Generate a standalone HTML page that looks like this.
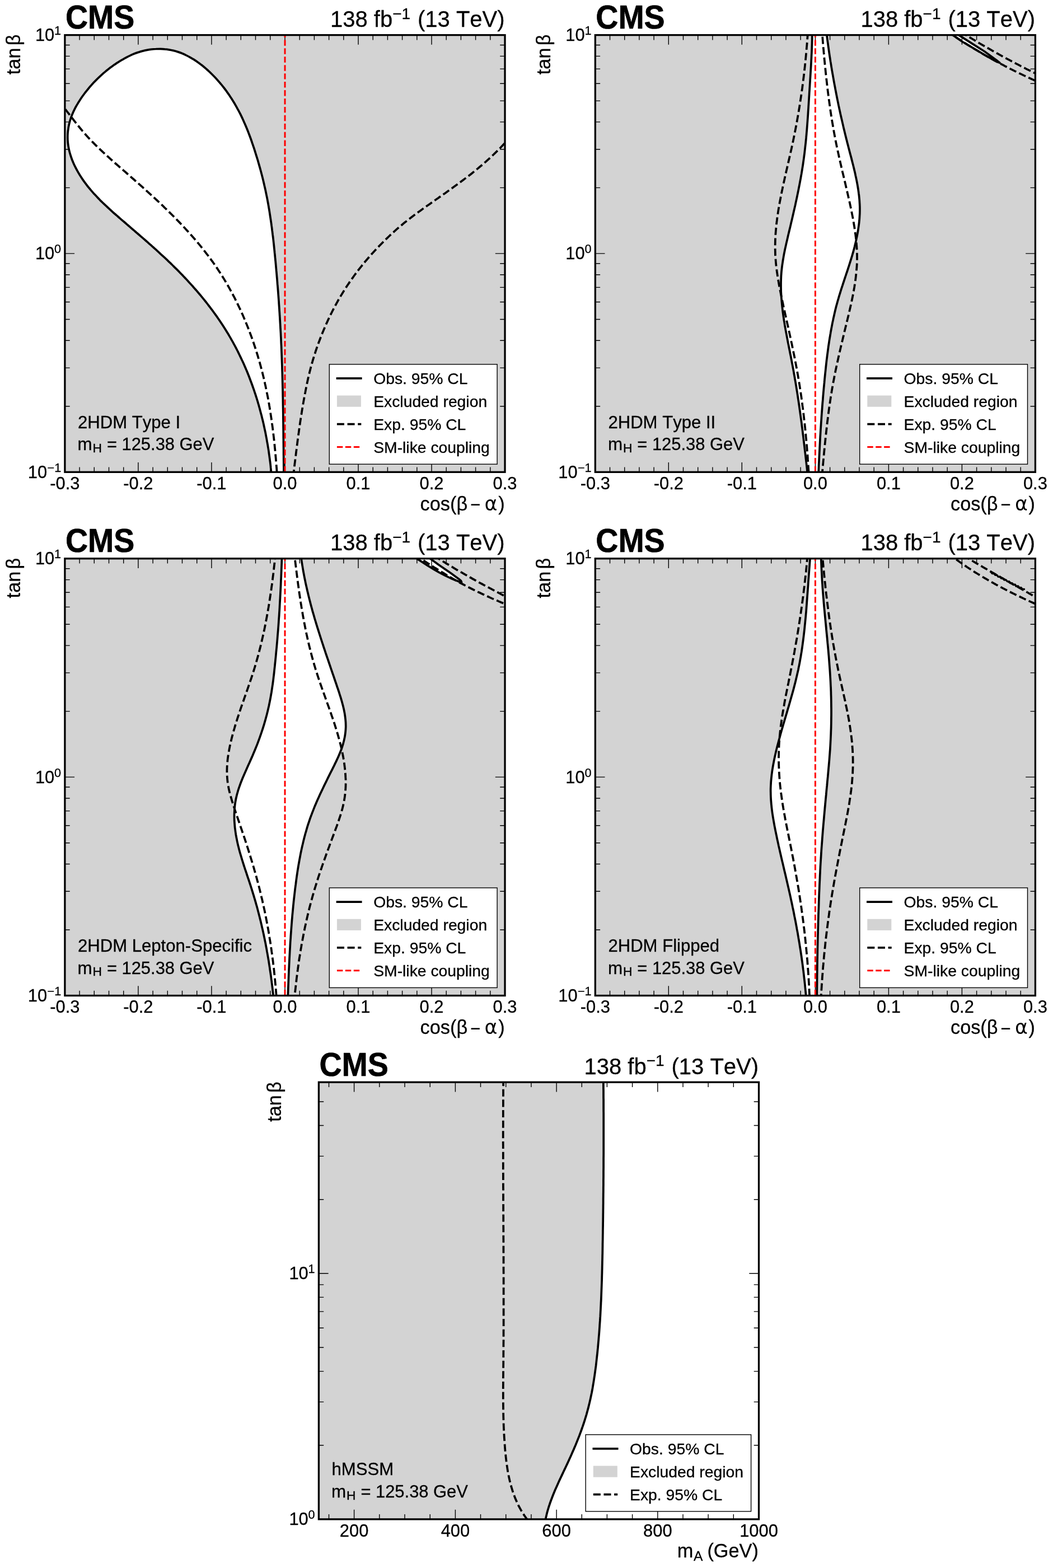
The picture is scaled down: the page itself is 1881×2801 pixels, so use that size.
<!DOCTYPE html>
<html lang="en"><head><meta charset="utf-8"><title>CMS 2HDM and hMSSM exclusion limits</title>
<style>
html,body{margin:0;padding:0;background:#fff;}
body{width:1881px;height:2801px;overflow:hidden;}
svg{display:block;}
svg text{font-family:"Liberation Sans", "DejaVu Sans", sans-serif;fill:#000;font-kerning:none;font-variant-ligatures:none;stroke:#000;stroke-width:0.3px;stroke-linejoin:round;}
svg text.b{stroke-width:0;}
</style></head><body>
<svg width="1881" height="2801" viewBox="0 0 1881 2801">
<rect width="1881" height="2801" fill="#fff"/>
<g transform="translate(0,0)">
<clipPath id="clip0"><rect x="115.9" y="62.6" width="786.1" height="780.7"/></clipPath>
<rect x="115.9" y="62.6" width="786.1" height="780.7" fill="#d3d3d3"/>
<g clip-path="url(#clip0)">
<path d="M485.2,851.9 C485.1,850.6 484.8,846.6 484.5,844 C484.3,841.3 484,838.7 483.7,836 C483.5,833.4 483.2,830.7 482.9,828.1 C482.6,825.4 482.2,822.8 481.9,820.1 C481.5,817.5 481.2,814.8 480.8,812.2 C480.4,809.5 480.1,806.9 479.7,804.3 C479.3,801.6 478.8,799 478.4,796.3 C478,793.7 477.5,791 477,788.4 C476.6,785.8 476.1,783.1 475.6,780.5 C475.1,777.9 474.6,775.3 474.1,772.6 C473.5,770 473,767.4 472.4,764.8 C471.8,762.1 471.3,759.5 470.7,756.9 C470.1,754.3 469.5,751.7 468.8,749.1 C468.2,746.5 467.6,743.9 466.9,741.3 C466.2,738.7 465.5,736.1 464.8,733.5 C464.1,730.9 463.4,728.3 462.7,725.7 C462,723.2 461.2,720.6 460.5,718 C459.7,715.5 458.9,712.9 458.1,710.3 C457.3,707.8 456.5,705.2 455.6,702.7 C454.8,700.2 454,697.6 453.1,695.1 C452.2,692.5 451.3,690 450.4,687.5 C449.5,685 448.6,682.5 447.6,680 C446.7,677.5 445.7,675 444.8,672.5 C443.8,670 442.8,667.5 441.8,665 C440.8,662.6 439.7,660.1 438.7,657.6 C437.6,655.2 436.6,652.7 435.5,650.3 C434.4,647.9 433.3,645.4 432.1,643 C431,640.6 429.9,638.2 428.7,635.8 C427.5,633.4 426.4,631 425.2,628.6 C424,626.2 422.7,623.8 421.5,621.4 C420.3,619.1 419,616.7 417.7,614.4 C416.5,612 415.2,609.7 413.8,607.4 C412.5,605 411.2,602.7 409.8,600.4 C408.5,598.1 407.1,595.8 405.7,593.6 C404.3,591.3 402.9,589 401.5,586.8 C400.1,584.5 398.6,582.2 397.2,580 C395.7,577.8 394.2,575.6 392.7,573.3 C391.2,571.1 389.7,568.9 388.2,566.7 C386.6,564.5 385.1,562.4 383.5,560.2 C381.9,558 380.4,555.8 378.8,553.7 C377.2,551.6 375.6,549.4 373.9,547.3 C372.3,545.2 370.7,543 369,540.9 C367.3,538.8 365.7,536.7 364,534.6 C362.3,532.6 360.6,530.5 358.9,528.4 C357.2,526.4 355.5,524.3 353.7,522.3 C352,520.2 350.2,518.2 348.5,516.2 C346.7,514.2 344.9,512.1 343.1,510.1 C341.4,508.1 339.6,506.2 337.7,504.2 C335.9,502.2 334.1,500.2 332.3,498.3 C330.5,496.3 328.6,494.4 326.8,492.4 C324.9,490.5 323,488.6 321.2,486.7 C319.3,484.7 317.4,482.8 315.5,480.9 C313.6,479.1 311.7,477.2 309.8,475.3 C307.9,473.4 306,471.6 304.1,469.7 C302.1,467.9 300.2,466 298.3,464.2 C296.3,462.3 294.4,460.5 292.4,458.7 C290.5,456.9 288.5,455.1 286.5,453.3 C284.6,451.5 282.6,449.7 280.6,447.9 C278.6,446.1 276.7,444.3 274.7,442.5 C272.7,440.7 270.7,439 268.7,437.2 C266.7,435.4 264.7,433.7 262.7,431.9 C260.7,430.1 258.7,428.4 256.7,426.6 C254.6,424.9 252.6,423.1 250.6,421.4 C248.6,419.6 246.6,417.9 244.5,416.1 C242.5,414.4 240.5,412.6 238.5,410.9 C236.4,409.1 234.4,407.4 232.4,405.6 C230.4,403.9 228.3,402.1 226.3,400.4 C224.3,398.6 222.3,396.9 220.2,395.1 C218.2,393.4 216.2,391.6 214.1,389.9 C212.1,388.1 210.1,386.4 208.1,384.6 C206.1,382.8 204,381.1 202,379.3 C200,377.5 198,375.7 196.1,373.9 C194.1,372.1 192.1,370.3 190.2,368.4 C188.2,366.6 186.3,364.8 184.3,362.9 C182.4,361 180.5,359.2 178.6,357.3 C176.8,355.4 174.9,353.5 173.1,351.5 C171.2,349.6 169.4,347.6 167.6,345.7 C165.8,343.7 164.1,341.7 162.3,339.6 C160.6,337.6 158.9,335.5 157.2,333.5 C155.6,331.4 154,329.3 152.4,327.1 C150.8,325 149.2,322.8 147.7,320.6 C146.2,318.4 144.7,316.1 143.2,313.8 C141.8,311.5 140.4,309.2 139.1,306.9 C137.7,304.5 136.4,302.1 135.2,299.7 C134,297.3 132.8,294.9 131.7,292.4 C130.6,290 129.6,287.5 128.6,285 C127.7,282.5 126.8,279.9 126,277.4 C125.2,274.9 124.4,272.3 123.8,269.7 C123.2,267.1 122.6,264.5 122.2,261.9 C121.8,259.3 121.4,256.7 121.2,254.1 C120.9,251.4 120.8,248.8 120.8,246.2 C120.8,243.5 120.8,240.9 121,238.2 C121.2,235.6 121.5,233 121.9,230.3 C122.2,227.7 122.7,225.1 123.3,222.5 C123.9,219.9 124.5,217.3 125.3,214.8 C126.1,212.2 126.9,209.7 127.9,207.2 C128.8,204.7 129.9,202.3 131,199.8 C132.1,197.4 133.3,195 134.5,192.6 C135.8,190.3 137.1,187.9 138.5,185.6 C139.8,183.3 141.3,181 142.8,178.7 C144.2,176.5 145.8,174.2 147.3,172 C148.9,169.8 150.5,167.7 152.1,165.5 C153.8,163.4 155.5,161.3 157.2,159.2 C158.9,157.1 160.6,155.1 162.4,153.1 C164.2,151 166,149.1 167.8,147.1 C169.6,145.1 171.5,143.2 173.4,141.3 C175.3,139.4 177.3,137.6 179.2,135.8 C181.2,134 183.2,132.2 185.2,130.4 C187.3,128.7 189.3,127 191.4,125.3 C193.5,123.6 195.7,122 197.8,120.3 C200,118.7 202.1,117.2 204.3,115.6 C206.6,114.1 208.8,112.6 211.1,111.2 C213.3,109.7 215.6,108.3 218,106.9 C220.3,105.6 222.6,104.2 225,103 C227.4,101.7 229.8,100.5 232.2,99.4 C234.6,98.2 237.1,97.1 239.6,96.1 C242.1,95.1 244.6,94.2 247.1,93.4 C249.6,92.5 252.2,91.7 254.8,91.1 C257.4,90.4 260,89.8 262.6,89.3 C265.2,88.8 267.8,88.4 270.5,88.1 C273.1,87.8 275.8,87.6 278.4,87.5 C281.1,87.3 283.7,87.3 286.4,87.3 C289,87.4 291.7,87.5 294.3,87.8 C296.9,88 299.6,88.4 302.2,88.8 C304.8,89.2 307.4,89.8 309.9,90.4 C312.5,91 315.1,91.8 317.6,92.6 C320.1,93.4 322.6,94.3 325,95.3 C327.5,96.3 329.9,97.4 332.3,98.6 C334.7,99.7 337.1,101 339.4,102.3 C341.8,103.6 344.1,105 346.4,106.4 C348.7,107.9 350.9,109.4 353.1,111 C355.3,112.5 357.5,114.2 359.7,115.8 C361.8,117.5 363.9,119.2 366,121 C368.1,122.7 370.1,124.6 372.1,126.4 C374.1,128.2 376.1,130.1 378,132 C379.9,133.9 381.8,135.8 383.7,137.8 C385.5,139.7 387.3,141.7 389.1,143.7 C390.9,145.7 392.6,147.7 394.3,149.8 C396.1,151.8 397.7,153.9 399.4,156 C401,158.1 402.6,160.2 404.2,162.4 C405.7,164.5 407.3,166.7 408.8,168.9 C410.3,171.1 411.7,173.3 413.2,175.5 C414.6,177.7 416,180 417.4,182.3 C418.8,184.5 420.1,186.8 421.4,189.1 C422.8,191.5 424,193.8 425.3,196.1 C426.6,198.5 427.8,200.8 429,203.2 C430.2,205.6 431.4,208 432.5,210.4 C433.6,212.8 434.8,215.2 435.8,217.7 C436.9,220.1 438,222.6 439,225 C440.1,227.5 441.1,230 442.1,232.5 C443.1,234.9 444,237.4 445,240 C445.9,242.5 446.9,245 447.8,247.5 C448.7,250 449.6,252.6 450.4,255.1 C451.3,257.7 452.2,260.2 453,262.7 C453.9,265.3 454.7,267.8 455.5,270.4 C456.3,273 457.1,275.5 457.9,278.1 C458.7,280.6 459.5,283.2 460.3,285.8 C461,288.3 461.8,290.9 462.5,293.5 C463.2,296.1 464,298.6 464.7,301.2 C465.4,303.8 466.1,306.4 466.8,309 C467.5,311.6 468.1,314.1 468.8,316.7 C469.4,319.3 470.1,321.9 470.7,324.5 C471.3,327.1 471.9,329.7 472.5,332.3 C473.1,334.9 473.7,337.5 474.3,340.1 C474.8,342.7 475.4,345.4 475.9,348 C476.4,350.6 477,353.2 477.5,355.8 C478,358.5 478.5,361.1 478.9,363.7 C479.4,366.3 479.9,369 480.3,371.6 C480.8,374.2 481.2,376.9 481.6,379.5 C482,382.2 482.4,384.8 482.8,387.4 C483.2,390.1 483.6,392.7 484,395.4 C484.4,398 484.8,400.7 485.1,403.3 C485.5,406 485.8,408.6 486.1,411.3 C486.5,413.9 486.8,416.6 487.1,419.3 C487.5,421.9 487.8,424.6 488.1,427.2 C488.4,429.9 488.7,432.6 489,435.2 C489.3,437.9 489.5,440.5 489.8,443.2 C490.1,445.9 490.4,448.5 490.6,451.2 C490.9,453.9 491.2,456.5 491.4,459.2 C491.7,461.9 491.9,464.5 492.2,467.2 C492.4,469.9 492.7,472.5 492.9,475.2 C493.1,477.9 493.4,480.5 493.6,483.2 C493.9,485.9 494.1,488.5 494.3,491.2 C494.5,493.9 494.8,496.5 495,499.2 C495.2,501.9 495.4,504.5 495.6,507.2 C495.9,509.9 496.1,512.5 496.3,515.2 C496.5,517.9 496.7,520.5 496.9,523.2 C497.1,525.9 497.3,528.5 497.5,531.2 C497.7,533.9 497.9,536.5 498.1,539.2 C498.2,541.9 498.4,544.5 498.6,547.2 C498.8,549.9 499,552.5 499.1,555.2 C499.3,557.9 499.5,560.5 499.6,563.2 C499.8,565.9 500,568.5 500.1,571.2 C500.3,573.9 500.4,576.6 500.6,579.2 C500.7,581.9 500.9,584.6 501,587.2 C501.2,589.9 501.3,592.6 501.5,595.2 C501.6,597.9 501.7,600.6 501.9,603.3 C502,605.9 502.1,608.6 502.2,611.3 C502.3,613.9 502.5,616.6 502.6,619.3 C502.7,622 502.8,624.6 502.9,627.3 C503,630 503.1,632.7 503.2,635.3 C503.3,638 503.4,640.7 503.5,643.3 C503.6,646 503.7,648.7 503.8,651.4 C503.9,654 504,656.7 504,659.4 C504.1,662.1 504.2,664.7 504.3,667.4 C504.4,670.1 504.4,672.8 504.5,675.4 C504.6,678.1 504.6,680.8 504.7,683.5 C504.8,686.1 504.8,688.8 504.9,691.5 C505,694.2 505,696.8 505.1,699.5 C505.1,702.2 505.2,704.9 505.2,707.5 C505.3,710.2 505.4,712.9 505.4,715.6 C505.4,718.2 505.5,720.9 505.5,723.6 C505.6,726.3 505.6,728.9 505.7,731.6 C505.7,734.3 505.8,737 505.8,739.6 C505.8,742.3 505.9,745 505.9,747.7 C506,750.4 506,753 506,755.7 C506.1,758.4 506.1,761.1 506.1,763.7 C506.2,766.4 506.2,769.1 506.2,771.8 C506.3,774.4 506.3,777.1 506.3,779.8 C506.3,782.5 506.4,785.1 506.4,787.8 C506.4,790.5 506.5,793.2 506.5,795.8 C506.5,798.5 506.5,801.2 506.6,803.9 C506.6,806.5 506.6,809.2 506.6,811.9 C506.7,814.6 506.7,817.2 506.7,819.9 C506.7,822.6 506.8,825.3 506.8,827.9 C506.8,830.6 506.8,833.3 506.9,836 C506.9,838.6 506.9,841.3 506.9,844 C507,846.6 507,850.7 507,852 Z" fill="#fff" stroke="none"/>
</g>
<path d="M115.9,62.6 v17.2 M115.9,843.3 v-17.2 M142.1,62.6 v8.8 M142.1,843.3 v-8.8 M168.3,62.6 v8.8 M168.3,843.3 v-8.8 M194.5,62.6 v8.8 M194.5,843.3 v-8.8 M220.7,62.6 v8.8 M220.7,843.3 v-8.8 M246.9,62.6 v17.2 M246.9,843.3 v-17.2 M273.1,62.6 v8.8 M273.1,843.3 v-8.8 M299.3,62.6 v8.8 M299.3,843.3 v-8.8 M325.5,62.6 v8.8 M325.5,843.3 v-8.8 M351.7,62.6 v8.8 M351.7,843.3 v-8.8 M377.9,62.6 v17.2 M377.9,843.3 v-17.2 M404.1,62.6 v8.8 M404.1,843.3 v-8.8 M430.3,62.6 v8.8 M430.3,843.3 v-8.8 M456.5,62.6 v8.8 M456.5,843.3 v-8.8 M482.7,62.6 v8.8 M482.7,843.3 v-8.8 M509,62.6 v17.2 M509,843.3 v-17.2 M535.2,62.6 v8.8 M535.2,843.3 v-8.8 M561.4,62.6 v8.8 M561.4,843.3 v-8.8 M587.6,62.6 v8.8 M587.6,843.3 v-8.8 M613.8,62.6 v8.8 M613.8,843.3 v-8.8 M640,62.6 v17.2 M640,843.3 v-17.2 M666.2,62.6 v8.8 M666.2,843.3 v-8.8 M692.4,62.6 v8.8 M692.4,843.3 v-8.8 M718.6,62.6 v8.8 M718.6,843.3 v-8.8 M744.8,62.6 v8.8 M744.8,843.3 v-8.8 M771,62.6 v17.2 M771,843.3 v-17.2 M797.2,62.6 v8.8 M797.2,843.3 v-8.8 M823.4,62.6 v8.8 M823.4,843.3 v-8.8 M849.6,62.6 v8.8 M849.6,843.3 v-8.8 M875.8,62.6 v8.8 M875.8,843.3 v-8.8 M902,62.6 v17.2 M902,843.3 v-17.2 M115.9,843.3 h17.2 M902,843.3 h-17.2 M115.9,725.8 h8.8 M902,725.8 h-8.8 M115.9,657.1 h8.8 M902,657.1 h-8.8 M115.9,608.3 h8.8 M902,608.3 h-8.8 M115.9,570.5 h8.8 M902,570.5 h-8.8 M115.9,539.5 h8.8 M902,539.5 h-8.8 M115.9,513.4 h8.8 M902,513.4 h-8.8 M115.9,490.8 h8.8 M902,490.8 h-8.8 M115.9,470.8 h8.8 M902,470.8 h-8.8 M115.9,452.9 h17.2 M902,452.9 h-17.2 M115.9,335.4 h8.8 M902,335.4 h-8.8 M115.9,266.7 h8.8 M902,266.7 h-8.8 M115.9,217.9 h8.8 M902,217.9 h-8.8 M115.9,180.1 h8.8 M902,180.1 h-8.8 M115.9,149.2 h8.8 M902,149.2 h-8.8 M115.9,123.1 h8.8 M902,123.1 h-8.8 M115.9,100.4 h8.8 M902,100.4 h-8.8 M115.9,80.5 h8.8 M902,80.5 h-8.8 M115.9,62.6 h17.2 M902,62.6 h-17.2" fill="none" stroke="#000" stroke-width="1.4"/>
<g clip-path="url(#clip0)">
<path d="M108,184 C108.8,185.1 111.3,188.1 112.9,190.2 C114.5,192.3 116.2,194.4 117.8,196.5 C119.4,198.7 121,200.8 122.7,202.9 C124.3,205 125.9,207.2 127.6,209.3 C129.2,211.4 130.8,213.6 132.5,215.7 C134.1,217.8 135.8,219.9 137.5,222 C139.2,224.1 140.9,226.2 142.6,228.3 C144.3,230.4 146,232.4 147.7,234.4 C149.5,236.5 151.2,238.5 153,240.5 C154.8,242.5 156.6,244.4 158.4,246.4 C160.2,248.3 162.1,250.3 163.9,252.2 C165.8,254.1 167.6,256 169.5,257.8 C171.4,259.7 173.3,261.6 175.2,263.4 C177.1,265.3 179,267.1 180.9,268.9 C182.9,270.8 184.8,272.6 186.8,274.4 C188.7,276.2 190.7,278 192.6,279.7 C194.6,281.5 196.6,283.3 198.6,285.1 C200.5,286.8 202.5,288.6 204.5,290.4 C206.5,292.1 208.5,293.9 210.5,295.6 C212.5,297.4 214.5,299.1 216.5,300.9 C218.6,302.6 220.6,304.4 222.6,306.1 C224.6,307.9 226.6,309.6 228.6,311.4 C230.6,313.1 232.6,314.9 234.6,316.7 C236.6,318.4 238.7,320.2 240.7,322 C242.7,323.7 244.7,325.5 246.7,327.3 C248.7,329 250.7,330.8 252.7,332.6 C254.7,334.4 256.7,336.2 258.7,338 C260.7,339.8 262.7,341.6 264.6,343.4 C266.6,345.2 268.6,347 270.6,348.8 C272.6,350.6 274.5,352.4 276.5,354.2 C278.5,356 280.4,357.9 282.4,359.7 C284.3,361.5 286.3,363.4 288.2,365.2 C290.2,367.1 292.1,368.9 294,370.8 C296,372.6 297.9,374.5 299.8,376.4 C301.7,378.2 303.6,380.1 305.5,382 C307.4,383.9 309.3,385.8 311.2,387.7 C313.1,389.6 315,391.5 316.8,393.4 C318.7,395.3 320.5,397.2 322.4,399.2 C324.2,401.1 326.1,403 327.9,405 C329.7,406.9 331.5,408.9 333.3,410.9 C335.1,412.8 336.9,414.8 338.7,416.8 C340.5,418.8 342.3,420.8 344,422.8 C345.8,424.8 347.5,426.8 349.2,428.8 C351,430.8 352.7,432.9 354.4,434.9 C356.1,436.9 357.8,439 359.5,441.1 C361.1,443.1 362.8,445.2 364.4,447.3 C366.1,449.4 367.7,451.5 369.3,453.6 C371,455.7 372.6,457.8 374.1,459.9 C375.7,462.1 377.3,464.2 378.9,466.4 C380.4,468.5 381.9,470.7 383.5,472.9 C385,475 386.5,477.2 388,479.4 C389.5,481.7 390.9,483.9 392.4,486.1 C393.8,488.3 395.3,490.6 396.7,492.8 C398.1,495.1 399.5,497.3 400.9,499.6 C402.2,501.9 403.6,504.2 404.9,506.5 C406.3,508.8 407.6,511.1 408.9,513.4 C410.2,515.7 411.5,518.1 412.8,520.4 C414.1,522.8 415.3,525.1 416.6,527.5 C417.8,529.8 419.1,532.2 420.3,534.6 C421.5,537 422.7,539.4 423.8,541.8 C425,544.2 426.2,546.6 427.3,549 C428.5,551.4 429.6,553.8 430.7,556.3 C431.8,558.7 432.9,561.1 434,563.6 C435,566 436.1,568.5 437.2,571 C438.2,573.4 439.2,575.9 440.2,578.4 C441.2,580.9 442.2,583.4 443.2,585.8 C444.2,588.3 445.2,590.8 446.1,593.4 C447,595.9 448,598.4 448.9,600.9 C449.8,603.4 450.7,605.9 451.6,608.5 C452.5,611 453.3,613.5 454.2,616.1 C455,618.6 455.9,621.2 456.7,623.7 C457.5,626.3 458.3,628.8 459.1,631.4 C459.9,633.9 460.7,636.5 461.4,639.1 C462.2,641.6 462.9,644.2 463.7,646.8 C464.4,649.4 465.1,651.9 465.8,654.5 C466.5,657.1 467.2,659.7 467.8,662.3 C468.5,664.9 469.2,667.5 469.8,670.1 C470.4,672.6 471.1,675.2 471.7,677.8 C472.3,680.4 472.9,683 473.4,685.6 C474,688.2 474.6,690.8 475.1,693.4 C475.7,696 476.2,698.6 476.7,701.3 C477.3,703.9 477.8,706.5 478.3,709.1 C478.8,711.7 479.3,714.3 479.7,716.9 C480.2,719.5 480.7,722.2 481.1,724.8 C481.6,727.4 482,730 482.4,732.7 C482.8,735.3 483.2,737.9 483.6,740.5 C484,743.2 484.4,745.8 484.8,748.4 C485.2,751.1 485.6,753.7 485.9,756.3 C486.3,759 486.6,761.6 487,764.2 C487.3,766.9 487.6,769.5 487.9,772.2 C488.3,774.8 488.6,777.5 488.9,780.1 C489.2,782.7 489.5,785.4 489.8,788 C490,790.7 490.3,793.4 490.6,796 C490.8,798.7 491.1,801.3 491.4,804 C491.6,806.6 491.9,809.3 492.1,812 C492.3,814.6 492.6,817.3 492.8,820 C493,822.6 493.2,825.3 493.4,828 C493.7,830.7 493.9,833.3 494.1,836 C494.3,838.7 494.5,841.4 494.6,844.1 C494.8,846.7 495.1,850.8 495.2,852.1" fill="none" stroke="#000" stroke-width="3.75" stroke-dasharray="13.05 5.6" stroke-dashoffset="4.61"/>
<path d="M523.7,852 C523.8,850.7 524.3,846.7 524.6,844 C524.9,841.4 525.3,838.7 525.6,836 C525.9,833.4 526.2,830.7 526.5,828.1 C526.9,825.4 527.2,822.8 527.5,820.1 C527.8,817.4 528.2,814.8 528.5,812.1 C528.8,809.5 529.1,806.8 529.5,804.1 C529.8,801.5 530.2,798.8 530.5,796.2 C530.8,793.5 531.2,790.8 531.5,788.2 C531.9,785.5 532.2,782.9 532.6,780.2 C532.9,777.6 533.3,774.9 533.7,772.3 C534,769.6 534.4,766.9 534.8,764.3 C535.2,761.6 535.5,759 535.9,756.3 C536.3,753.7 536.7,751 537.1,748.4 C537.5,745.7 537.9,743.1 538.4,740.4 C538.8,737.8 539.2,735.2 539.6,732.5 C540.1,729.9 540.5,727.2 541,724.6 C541.4,721.9 541.9,719.3 542.3,716.7 C542.8,714 543.3,711.4 543.8,708.7 C544.2,706.1 544.7,703.5 545.3,700.8 C545.8,698.2 546.3,695.6 546.8,693 C547.3,690.3 547.9,687.7 548.4,685.1 C549,682.5 549.6,679.9 550.1,677.2 C550.7,674.6 551.3,672 552,669.4 C552.6,666.8 553.2,664.2 553.9,661.6 C554.5,659 555.2,656.4 555.9,653.8 C556.6,651.3 557.3,648.7 558.1,646.1 C558.8,643.5 559.6,641 560.4,638.4 C561.1,635.9 561.9,633.3 562.8,630.8 C563.6,628.2 564.4,625.7 565.3,623.1 C566.2,620.6 567.1,618.1 568,615.6 C568.9,613 569.8,610.5 570.8,608 C571.7,605.5 572.7,603 573.7,600.5 C574.6,598 575.6,595.6 576.7,593.1 C577.7,590.6 578.7,588.1 579.8,585.7 C580.8,583.2 581.9,580.7 583,578.3 C584.1,575.9 585.2,573.4 586.3,571 C587.5,568.6 588.6,566.1 589.8,563.7 C591,561.3 592.2,558.9 593.4,556.5 C594.6,554.1 595.8,551.8 597.1,549.4 C598.3,547 599.6,544.7 600.9,542.3 C602.2,540 603.5,537.6 604.8,535.3 C606.2,533 607.5,530.7 608.9,528.4 C610.3,526.1 611.6,523.8 613.1,521.5 C614.5,519.2 615.9,517 617.4,514.7 C618.8,512.5 620.3,510.2 621.8,508 C623.3,505.8 624.8,503.6 626.3,501.4 C627.8,499.2 629.4,497 631,494.8 C632.5,492.6 634.1,490.5 635.7,488.3 C637.3,486.2 639,484.1 640.6,481.9 C642.2,479.8 643.9,477.7 645.6,475.6 C647.2,473.5 648.9,471.4 650.6,469.4 C652.3,467.3 654.1,465.3 655.8,463.2 C657.6,461.2 659.3,459.2 661.1,457.1 C662.8,455.1 664.6,453.1 666.4,451.2 C668.2,449.2 670.1,447.2 671.9,445.2 C673.7,443.3 675.6,441.3 677.4,439.4 C679.3,437.5 681.2,435.6 683,433.7 C684.9,431.8 686.8,429.9 688.7,428 C690.7,426.2 692.6,424.3 694.5,422.5 C696.5,420.6 698.4,418.8 700.4,417 C702.4,415.2 704.4,413.4 706.4,411.6 C708.4,409.8 710.4,408.1 712.4,406.3 C714.5,404.6 716.5,402.9 718.5,401.2 C720.6,399.4 722.7,397.7 724.8,396.1 C726.8,394.4 728.9,392.7 731.1,391.1 C733.2,389.4 735.3,387.8 737.4,386.2 C739.6,384.6 741.7,383 743.9,381.4 C746,379.8 748.2,378.2 750.4,376.7 C752.5,375.1 754.7,373.6 756.9,372 C759.1,370.4 761.3,368.9 763.5,367.3 C765.7,365.8 767.9,364.3 770,362.7 C772.2,361.2 774.4,359.6 776.6,358.1 C778.8,356.5 781,355 783.2,353.5 C785.4,351.9 787.6,350.4 789.8,348.8 C792,347.3 794.2,345.7 796.4,344.2 C798.5,342.6 800.7,341.1 802.9,339.5 C805.1,337.9 807.3,336.4 809.4,334.8 C811.6,333.2 813.8,331.7 815.9,330.1 C818.1,328.5 820.3,326.9 822.4,325.3 C824.6,323.7 826.7,322.1 828.8,320.5 C831,318.9 833.1,317.3 835.2,315.6 C837.3,314 839.5,312.4 841.6,310.7 C843.7,309 845.7,307.4 847.8,305.7 C849.9,304 852,302.3 854,300.6 C856.1,298.9 858.1,297.2 860.2,295.5 C862.2,293.7 864.2,292 866.2,290.2 C868.3,288.4 870.3,286.7 872.2,284.9 C874.2,283.1 876.2,281.2 878.1,279.4 C880.1,277.6 882,275.7 883.9,273.9 C885.9,272 887.8,270.1 889.7,268.2 C891.6,266.3 893.4,264.4 895.3,262.5 C897.2,260.5 899,258.6 900.9,256.6 C902.7,254.7 904.5,252.7 906.4,250.7 C908.2,248.7 910.9,245.7 911.8,244.7" fill="none" stroke="#000" stroke-width="3.75" stroke-dasharray="13.05 5.6" stroke-dashoffset="18.53"/>
<path d="M485.2,851.9 C485.1,850.6 484.8,846.6 484.5,844 C484.3,841.3 484,838.7 483.7,836 C483.5,833.4 483.2,830.7 482.9,828.1 C482.6,825.4 482.2,822.8 481.9,820.1 C481.5,817.5 481.2,814.8 480.8,812.2 C480.4,809.5 480.1,806.9 479.7,804.3 C479.3,801.6 478.8,799 478.4,796.3 C478,793.7 477.5,791 477,788.4 C476.6,785.8 476.1,783.1 475.6,780.5 C475.1,777.9 474.6,775.3 474.1,772.6 C473.5,770 473,767.4 472.4,764.8 C471.8,762.1 471.3,759.5 470.7,756.9 C470.1,754.3 469.5,751.7 468.8,749.1 C468.2,746.5 467.6,743.9 466.9,741.3 C466.2,738.7 465.5,736.1 464.8,733.5 C464.1,730.9 463.4,728.3 462.7,725.7 C462,723.2 461.2,720.6 460.5,718 C459.7,715.5 458.9,712.9 458.1,710.3 C457.3,707.8 456.5,705.2 455.6,702.7 C454.8,700.2 454,697.6 453.1,695.1 C452.2,692.5 451.3,690 450.4,687.5 C449.5,685 448.6,682.5 447.6,680 C446.7,677.5 445.7,675 444.8,672.5 C443.8,670 442.8,667.5 441.8,665 C440.8,662.6 439.7,660.1 438.7,657.6 C437.6,655.2 436.6,652.7 435.5,650.3 C434.4,647.9 433.3,645.4 432.1,643 C431,640.6 429.9,638.2 428.7,635.8 C427.5,633.4 426.4,631 425.2,628.6 C424,626.2 422.7,623.8 421.5,621.4 C420.3,619.1 419,616.7 417.7,614.4 C416.5,612 415.2,609.7 413.8,607.4 C412.5,605 411.2,602.7 409.8,600.4 C408.5,598.1 407.1,595.8 405.7,593.6 C404.3,591.3 402.9,589 401.5,586.8 C400.1,584.5 398.6,582.2 397.2,580 C395.7,577.8 394.2,575.6 392.7,573.3 C391.2,571.1 389.7,568.9 388.2,566.7 C386.6,564.5 385.1,562.4 383.5,560.2 C381.9,558 380.4,555.8 378.8,553.7 C377.2,551.6 375.6,549.4 373.9,547.3 C372.3,545.2 370.7,543 369,540.9 C367.3,538.8 365.7,536.7 364,534.6 C362.3,532.6 360.6,530.5 358.9,528.4 C357.2,526.4 355.5,524.3 353.7,522.3 C352,520.2 350.2,518.2 348.5,516.2 C346.7,514.2 344.9,512.1 343.1,510.1 C341.4,508.1 339.6,506.2 337.7,504.2 C335.9,502.2 334.1,500.2 332.3,498.3 C330.5,496.3 328.6,494.4 326.8,492.4 C324.9,490.5 323,488.6 321.2,486.7 C319.3,484.7 317.4,482.8 315.5,480.9 C313.6,479.1 311.7,477.2 309.8,475.3 C307.9,473.4 306,471.6 304.1,469.7 C302.1,467.9 300.2,466 298.3,464.2 C296.3,462.3 294.4,460.5 292.4,458.7 C290.5,456.9 288.5,455.1 286.5,453.3 C284.6,451.5 282.6,449.7 280.6,447.9 C278.6,446.1 276.7,444.3 274.7,442.5 C272.7,440.7 270.7,439 268.7,437.2 C266.7,435.4 264.7,433.7 262.7,431.9 C260.7,430.1 258.7,428.4 256.7,426.6 C254.6,424.9 252.6,423.1 250.6,421.4 C248.6,419.6 246.6,417.9 244.5,416.1 C242.5,414.4 240.5,412.6 238.5,410.9 C236.4,409.1 234.4,407.4 232.4,405.6 C230.4,403.9 228.3,402.1 226.3,400.4 C224.3,398.6 222.3,396.9 220.2,395.1 C218.2,393.4 216.2,391.6 214.1,389.9 C212.1,388.1 210.1,386.4 208.1,384.6 C206.1,382.8 204,381.1 202,379.3 C200,377.5 198,375.7 196.1,373.9 C194.1,372.1 192.1,370.3 190.2,368.4 C188.2,366.6 186.3,364.8 184.3,362.9 C182.4,361 180.5,359.2 178.6,357.3 C176.8,355.4 174.9,353.5 173.1,351.5 C171.2,349.6 169.4,347.6 167.6,345.7 C165.8,343.7 164.1,341.7 162.3,339.6 C160.6,337.6 158.9,335.5 157.2,333.5 C155.6,331.4 154,329.3 152.4,327.1 C150.8,325 149.2,322.8 147.7,320.6 C146.2,318.4 144.7,316.1 143.2,313.8 C141.8,311.5 140.4,309.2 139.1,306.9 C137.7,304.5 136.4,302.1 135.2,299.7 C134,297.3 132.8,294.9 131.7,292.4 C130.6,290 129.6,287.5 128.6,285 C127.7,282.5 126.8,279.9 126,277.4 C125.2,274.9 124.4,272.3 123.8,269.7 C123.2,267.1 122.6,264.5 122.2,261.9 C121.8,259.3 121.4,256.7 121.2,254.1 C120.9,251.4 120.8,248.8 120.8,246.2 C120.8,243.5 120.8,240.9 121,238.2 C121.2,235.6 121.5,233 121.9,230.3 C122.2,227.7 122.7,225.1 123.3,222.5 C123.9,219.9 124.5,217.3 125.3,214.8 C126.1,212.2 126.9,209.7 127.9,207.2 C128.8,204.7 129.9,202.3 131,199.8 C132.1,197.4 133.3,195 134.5,192.6 C135.8,190.3 137.1,187.9 138.5,185.6 C139.8,183.3 141.3,181 142.8,178.7 C144.2,176.5 145.8,174.2 147.3,172 C148.9,169.8 150.5,167.7 152.1,165.5 C153.8,163.4 155.5,161.3 157.2,159.2 C158.9,157.1 160.6,155.1 162.4,153.1 C164.2,151 166,149.1 167.8,147.1 C169.6,145.1 171.5,143.2 173.4,141.3 C175.3,139.4 177.3,137.6 179.2,135.8 C181.2,134 183.2,132.2 185.2,130.4 C187.3,128.7 189.3,127 191.4,125.3 C193.5,123.6 195.7,122 197.8,120.3 C200,118.7 202.1,117.2 204.3,115.6 C206.6,114.1 208.8,112.6 211.1,111.2 C213.3,109.7 215.6,108.3 218,106.9 C220.3,105.6 222.6,104.2 225,103 C227.4,101.7 229.8,100.5 232.2,99.4 C234.6,98.2 237.1,97.1 239.6,96.1 C242.1,95.1 244.6,94.2 247.1,93.4 C249.6,92.5 252.2,91.7 254.8,91.1 C257.4,90.4 260,89.8 262.6,89.3 C265.2,88.8 267.8,88.4 270.5,88.1 C273.1,87.8 275.8,87.6 278.4,87.5 C281.1,87.3 283.7,87.3 286.4,87.3 C289,87.4 291.7,87.5 294.3,87.8 C296.9,88 299.6,88.4 302.2,88.8 C304.8,89.2 307.4,89.8 309.9,90.4 C312.5,91 315.1,91.8 317.6,92.6 C320.1,93.4 322.6,94.3 325,95.3 C327.5,96.3 329.9,97.4 332.3,98.6 C334.7,99.7 337.1,101 339.4,102.3 C341.8,103.6 344.1,105 346.4,106.4 C348.7,107.9 350.9,109.4 353.1,111 C355.3,112.5 357.5,114.2 359.7,115.8 C361.8,117.5 363.9,119.2 366,121 C368.1,122.7 370.1,124.6 372.1,126.4 C374.1,128.2 376.1,130.1 378,132 C379.9,133.9 381.8,135.8 383.7,137.8 C385.5,139.7 387.3,141.7 389.1,143.7 C390.9,145.7 392.6,147.7 394.3,149.8 C396.1,151.8 397.7,153.9 399.4,156 C401,158.1 402.6,160.2 404.2,162.4 C405.7,164.5 407.3,166.7 408.8,168.9 C410.3,171.1 411.7,173.3 413.2,175.5 C414.6,177.7 416,180 417.4,182.3 C418.8,184.5 420.1,186.8 421.4,189.1 C422.8,191.5 424,193.8 425.3,196.1 C426.6,198.5 427.8,200.8 429,203.2 C430.2,205.6 431.4,208 432.5,210.4 C433.6,212.8 434.8,215.2 435.8,217.7 C436.9,220.1 438,222.6 439,225 C440.1,227.5 441.1,230 442.1,232.5 C443.1,234.9 444,237.4 445,240 C445.9,242.5 446.9,245 447.8,247.5 C448.7,250 449.6,252.6 450.4,255.1 C451.3,257.7 452.2,260.2 453,262.7 C453.9,265.3 454.7,267.8 455.5,270.4 C456.3,273 457.1,275.5 457.9,278.1 C458.7,280.6 459.5,283.2 460.3,285.8 C461,288.3 461.8,290.9 462.5,293.5 C463.2,296.1 464,298.6 464.7,301.2 C465.4,303.8 466.1,306.4 466.8,309 C467.5,311.6 468.1,314.1 468.8,316.7 C469.4,319.3 470.1,321.9 470.7,324.5 C471.3,327.1 471.9,329.7 472.5,332.3 C473.1,334.9 473.7,337.5 474.3,340.1 C474.8,342.7 475.4,345.4 475.9,348 C476.4,350.6 477,353.2 477.5,355.8 C478,358.5 478.5,361.1 478.9,363.7 C479.4,366.3 479.9,369 480.3,371.6 C480.8,374.2 481.2,376.9 481.6,379.5 C482,382.2 482.4,384.8 482.8,387.4 C483.2,390.1 483.6,392.7 484,395.4 C484.4,398 484.8,400.7 485.1,403.3 C485.5,406 485.8,408.6 486.1,411.3 C486.5,413.9 486.8,416.6 487.1,419.3 C487.5,421.9 487.8,424.6 488.1,427.2 C488.4,429.9 488.7,432.6 489,435.2 C489.3,437.9 489.5,440.5 489.8,443.2 C490.1,445.9 490.4,448.5 490.6,451.2 C490.9,453.9 491.2,456.5 491.4,459.2 C491.7,461.9 491.9,464.5 492.2,467.2 C492.4,469.9 492.7,472.5 492.9,475.2 C493.1,477.9 493.4,480.5 493.6,483.2 C493.9,485.9 494.1,488.5 494.3,491.2 C494.5,493.9 494.8,496.5 495,499.2 C495.2,501.9 495.4,504.5 495.6,507.2 C495.9,509.9 496.1,512.5 496.3,515.2 C496.5,517.9 496.7,520.5 496.9,523.2 C497.1,525.9 497.3,528.5 497.5,531.2 C497.7,533.9 497.9,536.5 498.1,539.2 C498.2,541.9 498.4,544.5 498.6,547.2 C498.8,549.9 499,552.5 499.1,555.2 C499.3,557.9 499.5,560.5 499.6,563.2 C499.8,565.9 500,568.5 500.1,571.2 C500.3,573.9 500.4,576.6 500.6,579.2 C500.7,581.9 500.9,584.6 501,587.2 C501.2,589.9 501.3,592.6 501.5,595.2 C501.6,597.9 501.7,600.6 501.9,603.3 C502,605.9 502.1,608.6 502.2,611.3 C502.3,613.9 502.5,616.6 502.6,619.3 C502.7,622 502.8,624.6 502.9,627.3 C503,630 503.1,632.7 503.2,635.3 C503.3,638 503.4,640.7 503.5,643.3 C503.6,646 503.7,648.7 503.8,651.4 C503.9,654 504,656.7 504,659.4 C504.1,662.1 504.2,664.7 504.3,667.4 C504.4,670.1 504.4,672.8 504.5,675.4 C504.6,678.1 504.6,680.8 504.7,683.5 C504.8,686.1 504.8,688.8 504.9,691.5 C505,694.2 505,696.8 505.1,699.5 C505.1,702.2 505.2,704.9 505.2,707.5 C505.3,710.2 505.4,712.9 505.4,715.6 C505.4,718.2 505.5,720.9 505.5,723.6 C505.6,726.3 505.6,728.9 505.7,731.6 C505.7,734.3 505.8,737 505.8,739.6 C505.8,742.3 505.9,745 505.9,747.7 C506,750.4 506,753 506,755.7 C506.1,758.4 506.1,761.1 506.1,763.7 C506.2,766.4 506.2,769.1 506.2,771.8 C506.3,774.4 506.3,777.1 506.3,779.8 C506.3,782.5 506.4,785.1 506.4,787.8 C506.4,790.5 506.5,793.2 506.5,795.8 C506.5,798.5 506.5,801.2 506.6,803.9 C506.6,806.5 506.6,809.2 506.6,811.9 C506.7,814.6 506.7,817.2 506.7,819.9 C506.7,822.6 506.8,825.3 506.8,827.9 C506.8,830.6 506.8,833.3 506.9,836 C506.9,838.6 506.9,841.3 506.9,844 C507,846.6 507,850.7 507,852" fill="none" stroke="#000" stroke-width="3.75" stroke-linejoin="round"/>
<path d="M509,843.3 V62.6" fill="none" stroke="#f00" stroke-width="3" stroke-dasharray="10.43 4.5"/>
</g>
<rect x="588.3" y="650.8" width="299.8" height="178.4" fill="#fff" stroke="#000" stroke-width="1.4"/>
<path d="M600.6,675.8 H646.6" stroke="#000" stroke-width="3.75"/>
<text x="667.2" y="685.8" font-size="28.3" text-anchor="start">Obs. 95% CL</text>
<rect x="601.9" y="706.5" width="43" height="20.2" fill="#d3d3d3"/>
<text x="667.2" y="726.7" font-size="28.3" text-anchor="start">Excluded region</text>
<path d="M601.9,757.6 H645.3" stroke="#000" stroke-width="3.75" stroke-dasharray="13.05 5.6"/>
<text x="667.2" y="767.6" font-size="28.3" text-anchor="start">Exp. 95% CL</text>
<path d="M601.9,798.5 H645.3" stroke="#f00" stroke-width="3" stroke-dasharray="10.43 4.5"/>
<text x="667.2" y="808.5" font-size="28.3" text-anchor="start">SM-like coupling</text>
<rect x="115.9" y="62.6" width="786.1" height="780.7" fill="none" stroke="#000" stroke-width="3.3"/>
<text x="115.9" y="873.9" font-size="30.9" text-anchor="middle">-0.3</text>
<text x="246.9" y="873.9" font-size="30.9" text-anchor="middle">-0.2</text>
<text x="377.9" y="873.9" font-size="30.9" text-anchor="middle">-0.1</text>
<text x="509" y="873.9" font-size="30.9" text-anchor="middle">0.0</text>
<text x="640" y="873.9" font-size="30.9" text-anchor="middle">0.1</text>
<text x="771" y="873.9" font-size="30.9" text-anchor="middle">0.2</text>
<text x="902" y="873.9" font-size="30.9" text-anchor="middle">0.3</text>
<text x="49.8" y="853.8" font-size="30.9" text-anchor="start">10</text>
<text x="84.6" y="842.8" font-size="21.6" text-anchor="start">−1</text>
<text x="62.9" y="463.4" font-size="30.9" text-anchor="start">10</text>
<text x="97" y="452.4" font-size="21.6" text-anchor="start">0</text>
<text x="62.9" y="73.1" font-size="30.9" text-anchor="start">10</text>
<text x="97" y="62.1" font-size="21.6" text-anchor="start">1</text>
<text x="750.6" y="911.6" font-size="34.3">cos(β</text><text x="839.9" y="912.4" font-size="31">−</text><text x="865.6" y="911.6" font-size="34.8" class="b" style="font-family:'DejaVu Sans','Liberation Sans',sans-serif">α</text><text x="901.6" y="911.6" font-size="34.3" text-anchor="end">)</text>
<text transform="translate(35.7,133.2) rotate(-90)" font-size="34.3">tan<tspan dx="4.2">β</tspan></text>
<text transform="translate(116.9,51) scale(0.936,1)" font-size="59.3" font-weight="bold" style="stroke-width:0.7px">CMS</text>
<text x="590" y="48" font-size="40" text-anchor="start">138 fb</text>
<text x="701.2" y="33.7" font-size="28" text-anchor="start">−1</text>
<text x="901.6" y="48" font-size="40" text-anchor="end">(13 TeV)</text>
<text x="139" y="764.6" font-size="31.1" text-anchor="start">2HDM Type I</text>
<text x="138.6" y="804.4" font-size="31.4" text-anchor="start">m</text>
<text x="165.6" y="808.3" font-size="22.8" text-anchor="start">H</text>
<text x="382.4" y="804.4" font-size="30.9" text-anchor="end">= 125.38 GeV</text>
</g>
<g transform="translate(947.4,0)">
<clipPath id="clip1"><rect x="115.9" y="62.6" width="786.1" height="780.7"/></clipPath>
<rect x="115.9" y="62.6" width="786.1" height="780.7" fill="#d3d3d3"/>
<g clip-path="url(#clip1)">
<path d="M503.5,53.6 C503.5,54.9 503.5,59 503.4,61.7 C503.4,64.4 503.3,67.1 503.3,69.8 C503.2,72.5 503.1,75.1 503.1,77.8 C503,80.5 502.9,83.2 502.8,85.9 C502.7,88.6 502.6,91.3 502.5,94 C502.3,96.6 502.2,99.3 502.1,102 C502,104.7 501.8,107.4 501.7,110.1 C501.6,112.7 501.4,115.4 501.3,118.1 C501.1,120.8 501,123.5 500.8,126.2 C500.6,128.8 500.5,131.5 500.3,134.2 C500.2,136.9 500,139.6 499.8,142.2 C499.7,144.9 499.5,147.6 499.3,150.3 C499.2,153 499,155.7 498.8,158.3 C498.7,161 498.5,163.7 498.3,166.4 C498.2,169.1 498,171.8 497.8,174.5 C497.7,177.2 497.5,179.8 497.3,182.5 C497.2,185.2 497,187.9 496.8,190.6 C496.7,193.3 496.5,196 496.3,198.7 C496.1,201.4 496,204.1 495.8,206.7 C495.6,209.4 495.4,212.1 495.2,214.8 C495,217.5 494.8,220.2 494.6,222.9 C494.4,225.6 494.2,228.2 494,230.9 C493.8,233.6 493.5,236.3 493.3,239 C493.1,241.7 492.8,244.3 492.6,247 C492.3,249.7 492.1,252.4 491.8,255.1 C491.5,257.7 491.2,260.4 490.9,263.1 C490.6,265.8 490.3,268.4 490,271.1 C489.7,273.8 489.4,276.4 489,279.1 C488.7,281.8 488.3,284.4 487.9,287.1 C487.5,289.7 487.2,292.4 486.8,295.1 C486.4,297.7 485.9,300.4 485.5,303 C485.1,305.7 484.6,308.3 484.2,311 C483.7,313.6 483.3,316.2 482.8,318.9 C482.3,321.5 481.8,324.2 481.3,326.8 C480.8,329.4 480.3,332.1 479.8,334.7 C479.3,337.4 478.7,340 478.2,342.6 C477.7,345.3 477.1,347.9 476.6,350.5 C476,353.1 475.5,355.8 474.9,358.4 C474.3,361 473.7,363.7 473.2,366.3 C472.6,368.9 472,371.5 471.4,374.2 C470.8,376.8 470.2,379.4 469.6,382 C469,384.7 468.4,387.3 467.8,389.9 C467.2,392.5 466.6,395.2 465.9,397.8 C465.3,400.4 464.7,403 464.1,405.7 C463.4,408.3 462.8,410.9 462.2,413.5 C461.6,416.2 460.9,418.8 460.3,421.4 C459.7,424.1 459.1,426.7 458.5,429.3 C457.9,431.9 457.2,434.6 456.7,437.2 C456.1,439.8 455.5,442.5 454.9,445.1 C454.4,447.7 453.8,450.4 453.3,453 C452.8,455.7 452.3,458.3 451.9,460.9 C451.4,463.6 451,466.2 450.6,468.9 C450.2,471.5 449.8,474.2 449.5,476.8 C449.2,479.5 448.9,482.1 448.6,484.8 C448.4,487.5 448.2,490.1 448,492.8 C447.9,495.5 447.8,498.1 447.7,500.8 C447.6,503.5 447.6,506.2 447.6,508.8 C447.6,511.5 447.6,514.2 447.7,516.9 C447.7,519.5 447.8,522.2 448,524.9 C448.1,527.6 448.3,530.3 448.5,532.9 C448.7,535.6 448.9,538.3 449.2,541 C449.4,543.7 449.7,546.3 450,549 C450.3,551.7 450.6,554.4 450.9,557 C451.3,559.7 451.7,562.4 452,565 C452.4,567.7 452.8,570.4 453.2,573 C453.7,575.7 454.1,578.3 454.5,581 C455,583.7 455.5,586.3 455.9,589 C456.4,591.6 456.9,594.3 457.4,596.9 C457.9,599.6 458.4,602.2 458.9,604.9 C459.4,607.5 459.9,610.2 460.4,612.8 C461,615.5 461.5,618.1 462,620.8 C462.5,623.4 463.1,626.1 463.6,628.7 C464.1,631.3 464.6,634 465.2,636.6 C465.7,639.3 466.2,641.9 466.7,644.6 C467.2,647.2 467.7,649.9 468.2,652.5 C468.7,655.2 469.2,657.8 469.7,660.4 C470.2,663.1 470.7,665.7 471.1,668.4 C471.6,671 472.1,673.7 472.5,676.3 C473,679 473.4,681.6 473.9,684.3 C474.3,687 474.8,689.6 475.2,692.3 C475.6,694.9 476,697.6 476.5,700.2 C476.9,702.9 477.3,705.5 477.7,708.2 C478.1,710.9 478.5,713.5 478.9,716.2 C479.3,718.8 479.7,721.5 480.1,724.1 C480.5,726.8 480.8,729.5 481.2,732.1 C481.6,734.8 482,737.4 482.3,740.1 C482.7,742.8 483,745.4 483.4,748.1 C483.8,750.8 484.1,753.4 484.5,756.1 C484.8,758.8 485.1,761.4 485.5,764.1 C485.8,766.8 486.2,769.4 486.5,772.1 C486.8,774.8 487.2,777.4 487.5,780.1 C487.8,782.8 488.1,785.4 488.4,788.1 C488.8,790.8 489.1,793.4 489.4,796.1 C489.7,798.8 490,801.5 490.3,804.1 C490.6,806.8 491,809.5 491.3,812.2 C491.6,814.8 491.9,817.5 492.2,820.2 C492.5,822.9 492.8,825.5 493.1,828.2 C493.4,830.9 493.7,833.6 494,836.2 C494.3,838.9 494.5,841.6 494.8,844.3 C495.1,847 495.6,851 495.7,852.3 L514.5,852.3 C514.5,851 514.7,846.9 514.8,844.3 C514.9,841.6 515,838.9 515.1,836.2 C515.2,833.5 515.3,830.9 515.4,828.2 C515.6,825.5 515.7,822.8 515.8,820.1 C515.9,817.5 516,814.8 516.2,812.1 C516.3,809.4 516.4,806.7 516.6,804.1 C516.7,801.4 516.8,798.7 517,796 C517.1,793.3 517.2,790.7 517.4,788 C517.5,785.3 517.7,782.6 517.8,779.9 C518,777.3 518.1,774.6 518.3,771.9 C518.5,769.2 518.6,766.6 518.8,763.9 C519,761.2 519.1,758.5 519.3,755.9 C519.5,753.2 519.6,750.5 519.8,747.8 C520,745.2 520.2,742.5 520.4,739.8 C520.6,737.1 520.8,734.5 521,731.8 C521.2,729.1 521.4,726.4 521.6,723.8 C521.8,721.1 522,718.4 522.2,715.7 C522.4,713.1 522.7,710.4 522.9,707.7 C523.1,705 523.4,702.4 523.6,699.7 C523.8,697 524.1,694.4 524.3,691.7 C524.6,689 524.8,686.3 525.1,683.7 C525.3,681 525.6,678.3 525.9,675.7 C526.1,673 526.4,670.3 526.7,667.7 C527,665 527.2,662.3 527.5,659.6 C527.8,657 528.1,654.3 528.4,651.6 C528.7,649 529,646.3 529.3,643.6 C529.7,641 530,638.3 530.3,635.6 C530.6,633 531,630.3 531.3,627.7 C531.7,625 532,622.3 532.4,619.7 C532.8,617 533.2,614.4 533.5,611.7 C533.9,609.1 534.3,606.4 534.8,603.8 C535.2,601.1 535.6,598.5 536.1,595.8 C536.5,593.2 537,590.5 537.4,587.9 C537.9,585.3 538.4,582.6 538.9,580 C539.4,577.4 539.9,574.7 540.5,572.1 C541,569.5 541.6,566.9 542.2,564.2 C542.8,561.6 543.4,559 544,556.4 C544.6,553.8 545.2,551.2 545.9,548.6 C546.6,546 547.3,543.4 548,540.8 C548.7,538.3 549.4,535.7 550.1,533.1 C550.9,530.5 551.7,528 552.5,525.4 C553.3,522.8 554.1,520.3 554.9,517.7 C555.7,515.1 556.6,512.6 557.4,510 C558.2,507.5 559.1,504.9 560,502.4 C560.8,499.8 561.7,497.3 562.5,494.7 C563.4,492.2 564.3,489.6 565.1,487.1 C566,484.5 566.8,482 567.7,479.4 C568.5,476.9 569.4,474.3 570.2,471.8 C571,469.2 571.9,466.6 572.7,464.1 C573.5,461.5 574.3,458.9 575,456.4 C575.8,453.8 576.5,451.2 577.2,448.6 C578,446 578.7,443.5 579.3,440.9 C580,438.3 580.6,435.7 581.2,433 C581.8,430.4 582.4,427.8 583,425.2 C583.5,422.6 584,419.9 584.5,417.3 C584.9,414.7 585.4,412 585.8,409.4 C586.1,406.7 586.5,404.1 586.8,401.4 C587.1,398.8 587.4,396.1 587.6,393.5 C587.8,390.8 588,388.1 588.1,385.5 C588.3,382.8 588.3,380.2 588.4,377.5 C588.4,374.8 588.4,372.2 588.3,369.5 C588.3,366.8 588.2,364.2 588,361.5 C587.8,358.8 587.6,356.2 587.4,353.5 C587.1,350.8 586.9,348.2 586.5,345.5 C586.2,342.9 585.9,340.2 585.5,337.6 C585.1,334.9 584.7,332.3 584.2,329.6 C583.8,327 583.3,324.4 582.8,321.7 C582.3,319.1 581.7,316.5 581.2,313.8 C580.6,311.2 580,308.6 579.4,306 C578.8,303.4 578.2,300.7 577.6,298.1 C576.9,295.5 576.3,292.9 575.6,290.3 C575,287.7 574.3,285.1 573.6,282.5 C572.9,279.8 572.2,277.2 571.6,274.6 C570.9,272 570.2,269.4 569.5,266.8 C568.8,264.2 568.1,261.6 567.4,259 C566.7,256.4 565.9,253.8 565.3,251.2 C564.6,248.6 563.9,246 563.2,243.4 C562.5,240.8 561.8,238.2 561.2,235.6 C560.5,233 559.9,230.4 559.2,227.7 C558.6,225.1 558,222.5 557.4,219.9 C556.7,217.3 556.1,214.7 555.5,212.1 C554.9,209.5 554.4,206.8 553.8,204.2 C553.2,201.6 552.6,199 552.1,196.4 C551.5,193.7 551,191.1 550.4,188.5 C549.9,185.9 549.3,183.3 548.8,180.6 C548.3,178 547.8,175.4 547.3,172.7 C546.8,170.1 546.3,167.5 545.8,164.9 C545.3,162.2 544.8,159.6 544.3,157 C543.8,154.3 543.3,151.7 542.9,149.1 C542.4,146.4 542,143.8 541.5,141.2 C541,138.5 540.6,135.9 540.2,133.2 C539.7,130.6 539.3,127.9 538.8,125.3 C538.4,122.7 538,120 537.6,117.4 C537.1,114.7 536.7,112.1 536.3,109.4 C535.9,106.8 535.5,104.1 535.1,101.5 C534.7,98.8 534.3,96.2 533.9,93.5 C533.5,90.9 533.1,88.2 532.7,85.5 C532.3,82.9 532,80.2 531.6,77.6 C531.2,74.9 530.8,72.2 530.4,69.6 C530.1,66.9 529.7,64.2 529.3,61.6 C528.9,58.9 528.4,54.9 528.2,53.6 Z" fill="#fff" stroke="none"/>
<path d="M745,56.6 L754.6,62.6 L771.7,74.5 L792.7,86.8 L813.8,99.3 L830,108.6 L838.5,112.2 L832.6,107.5 L811.4,92 L790.3,78.7 L770.7,66.2 L756.6,57.3 Z" fill="#fff" stroke="none"/>
</g>
<path d="M115.9,62.6 v17.2 M115.9,843.3 v-17.2 M142.1,62.6 v8.8 M142.1,843.3 v-8.8 M168.3,62.6 v8.8 M168.3,843.3 v-8.8 M194.5,62.6 v8.8 M194.5,843.3 v-8.8 M220.7,62.6 v8.8 M220.7,843.3 v-8.8 M246.9,62.6 v17.2 M246.9,843.3 v-17.2 M273.1,62.6 v8.8 M273.1,843.3 v-8.8 M299.3,62.6 v8.8 M299.3,843.3 v-8.8 M325.5,62.6 v8.8 M325.5,843.3 v-8.8 M351.7,62.6 v8.8 M351.7,843.3 v-8.8 M377.9,62.6 v17.2 M377.9,843.3 v-17.2 M404.1,62.6 v8.8 M404.1,843.3 v-8.8 M430.3,62.6 v8.8 M430.3,843.3 v-8.8 M456.5,62.6 v8.8 M456.5,843.3 v-8.8 M482.7,62.6 v8.8 M482.7,843.3 v-8.8 M509,62.6 v17.2 M509,843.3 v-17.2 M535.2,62.6 v8.8 M535.2,843.3 v-8.8 M561.4,62.6 v8.8 M561.4,843.3 v-8.8 M587.6,62.6 v8.8 M587.6,843.3 v-8.8 M613.8,62.6 v8.8 M613.8,843.3 v-8.8 M640,62.6 v17.2 M640,843.3 v-17.2 M666.2,62.6 v8.8 M666.2,843.3 v-8.8 M692.4,62.6 v8.8 M692.4,843.3 v-8.8 M718.6,62.6 v8.8 M718.6,843.3 v-8.8 M744.8,62.6 v8.8 M744.8,843.3 v-8.8 M771,62.6 v17.2 M771,843.3 v-17.2 M797.2,62.6 v8.8 M797.2,843.3 v-8.8 M823.4,62.6 v8.8 M823.4,843.3 v-8.8 M849.6,62.6 v8.8 M849.6,843.3 v-8.8 M875.8,62.6 v8.8 M875.8,843.3 v-8.8 M902,62.6 v17.2 M902,843.3 v-17.2 M115.9,843.3 h17.2 M902,843.3 h-17.2 M115.9,725.8 h8.8 M902,725.8 h-8.8 M115.9,657.1 h8.8 M902,657.1 h-8.8 M115.9,608.3 h8.8 M902,608.3 h-8.8 M115.9,570.5 h8.8 M902,570.5 h-8.8 M115.9,539.5 h8.8 M902,539.5 h-8.8 M115.9,513.4 h8.8 M902,513.4 h-8.8 M115.9,490.8 h8.8 M902,490.8 h-8.8 M115.9,470.8 h8.8 M902,470.8 h-8.8 M115.9,452.9 h17.2 M902,452.9 h-17.2 M115.9,335.4 h8.8 M902,335.4 h-8.8 M115.9,266.7 h8.8 M902,266.7 h-8.8 M115.9,217.9 h8.8 M902,217.9 h-8.8 M115.9,180.1 h8.8 M902,180.1 h-8.8 M115.9,149.2 h8.8 M902,149.2 h-8.8 M115.9,123.1 h8.8 M902,123.1 h-8.8 M115.9,100.4 h8.8 M902,100.4 h-8.8 M115.9,80.5 h8.8 M902,80.5 h-8.8 M115.9,62.6 h17.2 M902,62.6 h-17.2" fill="none" stroke="#000" stroke-width="1.4"/>
<g clip-path="url(#clip1)">
<path d="M495.9,53.5 C495.8,54.8 495.5,58.9 495.4,61.5 C495.2,64.2 495,66.9 494.8,69.6 C494.6,72.3 494.4,75 494.2,77.6 C494,80.3 493.7,83 493.5,85.7 C493.3,88.3 493.1,91 492.8,93.7 C492.6,96.3 492.3,99 492.1,101.6 C491.8,104.3 491.6,107 491.3,109.6 C491,112.3 490.8,114.9 490.5,117.6 C490.2,120.2 489.9,122.9 489.6,125.5 C489.3,128.2 489,130.8 488.7,133.5 C488.4,136.1 488.1,138.8 487.7,141.4 C487.4,144.1 487.1,146.7 486.7,149.3 C486.4,152 486,154.6 485.7,157.2 C485.3,159.9 484.9,162.5 484.6,165.1 C484.2,167.8 483.8,170.4 483.4,173 C483,175.7 482.6,178.3 482.2,180.9 C481.8,183.6 481.4,186.2 481,188.8 C480.6,191.4 480.2,194.1 479.7,196.7 C479.3,199.3 478.8,201.9 478.4,204.5 C477.9,207.2 477.5,209.8 477,212.4 C476.5,215 476.1,217.7 475.6,220.3 C475.1,222.9 474.6,225.5 474.1,228.1 C473.6,230.8 473.1,233.4 472.6,236 C472.1,238.6 471.5,241.2 471,243.8 C470.5,246.5 469.9,249.1 469.4,251.7 C468.8,254.3 468.3,256.9 467.7,259.5 C467.1,262.2 466.6,264.8 466,267.4 C465.4,270 464.8,272.6 464.2,275.2 C463.6,277.9 463,280.5 462.4,283.1 C461.8,285.7 461.2,288.3 460.6,291 C460,293.6 459.4,296.2 458.8,298.8 C458.2,301.4 457.6,304 457,306.7 C456.4,309.3 455.8,311.9 455.2,314.5 C454.6,317.1 454.1,319.8 453.5,322.4 C452.9,325 452.3,327.6 451.7,330.2 C451.2,332.9 450.6,335.5 450.1,338.1 C449.5,340.7 449,343.4 448.4,346 C447.9,348.6 447.4,351.2 446.9,353.9 C446.4,356.5 445.9,359.1 445.4,361.7 C444.9,364.4 444.4,367 444,369.6 C443.6,372.2 443.1,374.9 442.7,377.5 C442.3,380.1 441.9,382.8 441.5,385.4 C441.2,388 440.8,390.7 440.5,393.3 C440.1,395.9 439.8,398.6 439.5,401.2 C439.3,403.8 439,406.5 438.8,409.1 C438.5,411.7 438.3,414.4 438.1,417 C437.9,419.6 437.8,422.3 437.7,424.9 C437.5,427.6 437.4,430.2 437.4,432.9 C437.3,435.5 437.3,438.1 437.3,440.8 C437.3,443.4 437.3,446.1 437.4,448.7 C437.4,451.4 437.5,454 437.6,456.7 C437.8,459.3 438,462 438.2,464.6 C438.4,467.3 438.6,469.9 438.9,472.6 C439.2,475.2 439.5,477.9 439.8,480.6 C440.1,483.2 440.5,485.9 440.9,488.5 C441.3,491.2 441.7,493.8 442.1,496.5 C442.5,499.1 443,501.8 443.5,504.4 C443.9,507.1 444.4,509.7 444.9,512.4 C445.4,515 445.9,517.7 446.5,520.3 C447,522.9 447.5,525.6 448.1,528.2 C448.6,530.8 449.2,533.5 449.8,536.1 C450.3,538.7 450.9,541.4 451.5,544 C452,546.6 452.6,549.2 453.2,551.8 C453.8,554.4 454.3,557.1 454.9,559.7 C455.5,562.3 456.1,564.9 456.7,567.5 C457.2,570.1 457.8,572.7 458.4,575.3 C459,577.9 459.6,580.5 460.2,583.1 C460.7,585.7 461.3,588.3 461.9,590.9 C462.5,593.5 463,596.1 463.6,598.7 C464.2,601.3 464.7,603.9 465.3,606.5 C465.8,609.1 466.4,611.8 467,614.4 C467.5,617 468.1,619.6 468.6,622.2 C469.1,624.8 469.7,627.4 470.2,630 C470.7,632.6 471.3,635.2 471.8,637.8 C472.3,640.5 472.8,643.1 473.3,645.7 C473.8,648.3 474.3,650.9 474.8,653.5 C475.3,656.1 475.8,658.8 476.3,661.4 C476.8,664 477.2,666.6 477.7,669.3 C478.2,671.9 478.6,674.5 479,677.1 C479.5,679.8 479.9,682.4 480.4,685 C480.8,687.7 481.2,690.3 481.6,692.9 C482,695.6 482.4,698.2 482.8,700.9 C483.2,703.5 483.6,706.1 484,708.8 C484.3,711.4 484.7,714.1 485.1,716.7 C485.4,719.4 485.8,722 486.1,724.7 C486.5,727.3 486.8,730 487.1,732.6 C487.5,735.3 487.8,737.9 488.1,740.6 C488.4,743.2 488.7,745.9 489,748.5 C489.3,751.2 489.6,753.8 489.9,756.5 C490.2,759.2 490.5,761.8 490.8,764.5 C491.1,767.1 491.3,769.8 491.6,772.5 C491.8,775.1 492.1,777.8 492.3,780.4 C492.6,783.1 492.8,785.8 493.1,788.4 C493.3,791.1 493.5,793.7 493.8,796.4 C494,799.1 494.2,801.7 494.4,804.4 C494.6,807.1 494.9,809.7 495.1,812.4 C495.3,815 495.5,817.7 495.6,820.4 C495.8,823 496,825.7 496.2,828.3 C496.4,831 496.6,833.7 496.7,836.3 C496.9,839 497.1,841.6 497.2,844.3 C497.4,847 497.6,850.9 497.7,852.3" fill="none" stroke="#000" stroke-width="3.75" stroke-dasharray="13.05 5.6" stroke-dashoffset="14.77"/>
<path d="M520.8,53.6 C520.9,54.9 521.2,58.9 521.4,61.6 C521.7,64.3 521.9,66.9 522.1,69.6 C522.3,72.2 522.5,74.9 522.7,77.6 C523,80.2 523.2,82.9 523.4,85.6 C523.7,88.2 523.9,90.9 524.1,93.5 C524.4,96.2 524.6,98.9 524.8,101.5 C525.1,104.2 525.3,106.9 525.6,109.5 C525.8,112.2 526.1,114.8 526.4,117.5 C526.6,120.2 526.9,122.8 527.2,125.5 C527.4,128.2 527.7,130.8 528,133.5 C528.3,136.1 528.6,138.8 528.9,141.5 C529.2,144.1 529.5,146.8 529.8,149.4 C530.1,152.1 530.4,154.7 530.7,157.4 C531,160.1 531.4,162.7 531.7,165.4 C532,168 532.4,170.7 532.7,173.3 C533,176 533.4,178.6 533.8,181.3 C534.1,183.9 534.5,186.6 534.9,189.2 C535.2,191.9 535.6,194.5 536,197.1 C536.4,199.8 536.8,202.4 537.2,205.1 C537.6,207.7 538,210.4 538.5,213 C538.9,215.6 539.3,218.3 539.8,220.9 C540.2,223.5 540.7,226.2 541.1,228.8 C541.6,231.4 542,234.1 542.5,236.7 C543,239.3 543.5,241.9 544,244.6 C544.5,247.2 545,249.8 545.5,252.4 C546,255 546.6,257.7 547.1,260.3 C547.6,262.9 548.2,265.5 548.8,268.1 C549.3,270.7 549.9,273.3 550.5,275.9 C551,278.6 551.6,281.2 552.2,283.8 C552.8,286.4 553.4,289 554,291.6 C554.6,294.2 555.2,296.8 555.8,299.4 C556.4,302 557,304.6 557.6,307.2 C558.3,309.8 558.9,312.4 559.5,315 C560.1,317.6 560.7,320.2 561.3,322.8 C562,325.4 562.6,328 563.2,330.6 C563.8,333.2 564.4,335.8 565,338.4 C565.6,341 566.2,343.6 566.8,346.2 C567.4,348.9 568,351.5 568.6,354.1 C569.2,356.7 569.8,359.3 570.4,361.9 C571,364.5 571.5,367.2 572.1,369.8 C572.6,372.4 573.2,375 573.7,377.7 C574.2,380.3 574.8,382.9 575.3,385.5 C575.8,388.2 576.3,390.8 576.8,393.4 C577.2,396.1 577.7,398.7 578.1,401.4 C578.6,404 579,406.7 579.4,409.3 C579.8,411.9 580.2,414.6 580.5,417.3 C580.9,419.9 581.2,422.6 581.5,425.2 C581.8,427.9 582.1,430.5 582.3,433.2 C582.6,435.8 582.8,438.5 583,441.2 C583.1,443.8 583.3,446.5 583.4,449.2 C583.5,451.8 583.6,454.5 583.6,457.1 C583.6,459.8 583.6,462.5 583.6,465.1 C583.5,467.8 583.4,470.4 583.3,473.1 C583.1,475.7 583,478.4 582.7,481.1 C582.5,483.7 582.3,486.4 582,489 C581.7,491.7 581.4,494.3 581.1,497 C580.8,499.6 580.4,502.2 580,504.9 C579.6,507.5 579.2,510.2 578.8,512.8 C578.3,515.4 577.9,518.1 577.4,520.7 C576.9,523.3 576.4,526 575.9,528.6 C575.4,531.2 574.8,533.9 574.3,536.5 C573.7,539.1 573.2,541.7 572.6,544.3 C572,546.9 571.4,549.6 570.8,552.2 C570.2,554.8 569.6,557.4 569,560 C568.4,562.6 567.8,565.2 567.1,567.8 C566.5,570.4 565.9,573 565.2,575.6 C564.6,578.2 564,580.8 563.3,583.4 C562.7,586 562.1,588.6 561.4,591.2 C560.8,593.8 560.2,596.4 559.6,599 C558.9,601.6 558.3,604.2 557.7,606.8 C557.1,609.4 556.5,612 555.8,614.6 C555.2,617.2 554.6,619.8 554,622.4 C553.4,625 552.8,627.6 552.2,630.2 C551.6,632.8 551,635.4 550.4,638 C549.9,640.6 549.3,643.3 548.7,645.9 C548.1,648.5 547.5,651.1 547,653.7 C546.4,656.3 545.9,658.9 545.3,661.5 C544.8,664.2 544.3,666.8 543.7,669.4 C543.2,672 542.7,674.6 542.2,677.3 C541.7,679.9 541.2,682.5 540.7,685.1 C540.2,687.8 539.8,690.4 539.3,693 C538.9,695.7 538.4,698.3 538,700.9 C537.6,703.6 537.1,706.2 536.7,708.8 C536.3,711.5 535.9,714.1 535.5,716.8 C535.1,719.4 534.7,722.1 534.3,724.7 C534,727.4 533.6,730 533.2,732.6 C532.9,735.3 532.5,737.9 532.2,740.6 C531.8,743.2 531.5,745.9 531.2,748.6 C530.8,751.2 530.5,753.9 530.2,756.5 C529.9,759.2 529.6,761.8 529.3,764.5 C529,767.1 528.7,769.8 528.4,772.5 C528.1,775.1 527.8,777.8 527.5,780.4 C527.2,783.1 527,785.8 526.7,788.4 C526.4,791.1 526.1,793.7 525.9,796.4 C525.6,799.1 525.4,801.7 525.1,804.4 C524.8,807.1 524.6,809.7 524.3,812.4 C524.1,815 523.8,817.7 523.6,820.4 C523.3,823 523.1,825.7 522.9,828.3 C522.6,831 522.4,833.7 522.1,836.3 C521.9,839 521.7,841.7 521.4,844.3 C521.2,847 520.8,851 520.7,852.3" fill="none" stroke="#000" stroke-width="3.75" stroke-dasharray="13.05 5.6" stroke-dashoffset="6.58"/>
<path d="M768.5,56.5 C769.6,57.2 773.1,59.4 775.4,60.9 C777.8,62.3 780.1,63.8 782.4,65.2 C784.7,66.6 787.1,68.1 789.4,69.5 C791.8,70.9 794.1,72.3 796.5,73.8 C798.8,75.2 801.2,76.6 803.5,78 C805.9,79.4 808.2,80.7 810.6,82.1 C813,83.5 815.3,84.9 817.7,86.2 C820.1,87.6 822.5,89 824.9,90.3 C827.2,91.7 829.6,93 832,94.3 C834.4,95.7 836.8,97 839.2,98.3 C841.6,99.6 844,101 846.4,102.3 C848.8,103.6 851.2,104.9 853.6,106.2 C856,107.5 858.4,108.8 860.9,110 C863.3,111.3 865.7,112.6 868.1,113.9 C870.6,115.1 873,116.4 875.4,117.7 C877.9,118.9 880.3,120.2 882.7,121.4 C885.2,122.7 887.6,123.9 890.1,125.1 C892.5,126.4 895,127.6 897.4,128.8 C899.9,130.1 902.3,131.3 904.8,132.5 C907.2,133.7 910.9,135.5 912.2,136.1" fill="none" stroke="#000" stroke-width="3.75" stroke-dasharray="13.05 5.6"/>
<path d="M744,55.8 C745.1,56.5 748.4,58.8 750.7,60.2 C752.9,61.7 755.1,63.2 757.3,64.7 C759.5,66.2 761.8,67.6 764,69.1 C766.3,70.5 768.5,72 770.7,73.4 C773,74.9 775.2,76.3 777.5,77.7 C779.8,79.1 782,80.5 784.3,81.9 C786.6,83.3 788.9,84.7 791.1,86.1 C793.4,87.5 795.7,88.9 798,90.2 C800.3,91.6 802.6,93 804.9,94.3 C807.2,95.7 809.5,97 811.8,98.3 C814.1,99.7 816.5,101 818.8,102.3 C821.1,103.6 823.4,104.9 825.8,106.2 C828.1,107.5 830.5,108.8 832.8,110.1 C835.1,111.3 837.5,112.6 839.9,113.8 C842.2,115.1 844.6,116.3 846.9,117.6 C849.3,118.8 851.7,120 854.1,121.3 C856.4,122.5 858.8,123.7 861.2,124.9 C863.6,126.1 866,127.3 868.4,128.4 C870.8,129.6 873.2,130.8 875.6,131.9 C878,133.1 880.4,134.3 882.8,135.4 C885.2,136.5 887.6,137.7 890.1,138.8 C892.5,139.9 894.9,141 897.4,142.1 C899.8,143.2 902.2,144.3 904.7,145.4 C907.1,146.4 910.8,148 912,148.6" fill="none" stroke="#000" stroke-width="3.75" stroke-dasharray="13.05 5.6"/>
<path d="M503.5,53.6 C503.5,54.9 503.5,59 503.4,61.7 C503.4,64.4 503.3,67.1 503.3,69.8 C503.2,72.5 503.1,75.1 503.1,77.8 C503,80.5 502.9,83.2 502.8,85.9 C502.7,88.6 502.6,91.3 502.5,94 C502.3,96.6 502.2,99.3 502.1,102 C502,104.7 501.8,107.4 501.7,110.1 C501.6,112.7 501.4,115.4 501.3,118.1 C501.1,120.8 501,123.5 500.8,126.2 C500.6,128.8 500.5,131.5 500.3,134.2 C500.2,136.9 500,139.6 499.8,142.2 C499.7,144.9 499.5,147.6 499.3,150.3 C499.2,153 499,155.7 498.8,158.3 C498.7,161 498.5,163.7 498.3,166.4 C498.2,169.1 498,171.8 497.8,174.5 C497.7,177.2 497.5,179.8 497.3,182.5 C497.2,185.2 497,187.9 496.8,190.6 C496.7,193.3 496.5,196 496.3,198.7 C496.1,201.4 496,204.1 495.8,206.7 C495.6,209.4 495.4,212.1 495.2,214.8 C495,217.5 494.8,220.2 494.6,222.9 C494.4,225.6 494.2,228.2 494,230.9 C493.8,233.6 493.5,236.3 493.3,239 C493.1,241.7 492.8,244.3 492.6,247 C492.3,249.7 492.1,252.4 491.8,255.1 C491.5,257.7 491.2,260.4 490.9,263.1 C490.6,265.8 490.3,268.4 490,271.1 C489.7,273.8 489.4,276.4 489,279.1 C488.7,281.8 488.3,284.4 487.9,287.1 C487.5,289.7 487.2,292.4 486.8,295.1 C486.4,297.7 485.9,300.4 485.5,303 C485.1,305.7 484.6,308.3 484.2,311 C483.7,313.6 483.3,316.2 482.8,318.9 C482.3,321.5 481.8,324.2 481.3,326.8 C480.8,329.4 480.3,332.1 479.8,334.7 C479.3,337.4 478.7,340 478.2,342.6 C477.7,345.3 477.1,347.9 476.6,350.5 C476,353.1 475.5,355.8 474.9,358.4 C474.3,361 473.7,363.7 473.2,366.3 C472.6,368.9 472,371.5 471.4,374.2 C470.8,376.8 470.2,379.4 469.6,382 C469,384.7 468.4,387.3 467.8,389.9 C467.2,392.5 466.6,395.2 465.9,397.8 C465.3,400.4 464.7,403 464.1,405.7 C463.4,408.3 462.8,410.9 462.2,413.5 C461.6,416.2 460.9,418.8 460.3,421.4 C459.7,424.1 459.1,426.7 458.5,429.3 C457.9,431.9 457.2,434.6 456.7,437.2 C456.1,439.8 455.5,442.5 454.9,445.1 C454.4,447.7 453.8,450.4 453.3,453 C452.8,455.7 452.3,458.3 451.9,460.9 C451.4,463.6 451,466.2 450.6,468.9 C450.2,471.5 449.8,474.2 449.5,476.8 C449.2,479.5 448.9,482.1 448.6,484.8 C448.4,487.5 448.2,490.1 448,492.8 C447.9,495.5 447.8,498.1 447.7,500.8 C447.6,503.5 447.6,506.2 447.6,508.8 C447.6,511.5 447.6,514.2 447.7,516.9 C447.7,519.5 447.8,522.2 448,524.9 C448.1,527.6 448.3,530.3 448.5,532.9 C448.7,535.6 448.9,538.3 449.2,541 C449.4,543.7 449.7,546.3 450,549 C450.3,551.7 450.6,554.4 450.9,557 C451.3,559.7 451.7,562.4 452,565 C452.4,567.7 452.8,570.4 453.2,573 C453.7,575.7 454.1,578.3 454.5,581 C455,583.7 455.5,586.3 455.9,589 C456.4,591.6 456.9,594.3 457.4,596.9 C457.9,599.6 458.4,602.2 458.9,604.9 C459.4,607.5 459.9,610.2 460.4,612.8 C461,615.5 461.5,618.1 462,620.8 C462.5,623.4 463.1,626.1 463.6,628.7 C464.1,631.3 464.6,634 465.2,636.6 C465.7,639.3 466.2,641.9 466.7,644.6 C467.2,647.2 467.7,649.9 468.2,652.5 C468.7,655.2 469.2,657.8 469.7,660.4 C470.2,663.1 470.7,665.7 471.1,668.4 C471.6,671 472.1,673.7 472.5,676.3 C473,679 473.4,681.6 473.9,684.3 C474.3,687 474.8,689.6 475.2,692.3 C475.6,694.9 476,697.6 476.5,700.2 C476.9,702.9 477.3,705.5 477.7,708.2 C478.1,710.9 478.5,713.5 478.9,716.2 C479.3,718.8 479.7,721.5 480.1,724.1 C480.5,726.8 480.8,729.5 481.2,732.1 C481.6,734.8 482,737.4 482.3,740.1 C482.7,742.8 483,745.4 483.4,748.1 C483.8,750.8 484.1,753.4 484.5,756.1 C484.8,758.8 485.1,761.4 485.5,764.1 C485.8,766.8 486.2,769.4 486.5,772.1 C486.8,774.8 487.2,777.4 487.5,780.1 C487.8,782.8 488.1,785.4 488.4,788.1 C488.8,790.8 489.1,793.4 489.4,796.1 C489.7,798.8 490,801.5 490.3,804.1 C490.6,806.8 491,809.5 491.3,812.2 C491.6,814.8 491.9,817.5 492.2,820.2 C492.5,822.9 492.8,825.5 493.1,828.2 C493.4,830.9 493.7,833.6 494,836.2 C494.3,838.9 494.5,841.6 494.8,844.3 C495.1,847 495.6,851 495.7,852.3" fill="none" stroke="#000" stroke-width="3.75" stroke-linejoin="round"/>
<path d="M528.4,53.5 C528.5,54.8 529,58.9 529.4,61.5 C529.7,64.2 530,66.9 530.4,69.6 C530.7,72.3 531.1,75 531.5,77.6 C531.8,80.3 532.2,83 532.6,85.6 C532.9,88.3 533.3,91 533.7,93.6 C534.1,96.3 534.5,98.9 534.9,101.6 C535.3,104.2 535.7,106.9 536.1,109.5 C536.6,112.2 537,114.8 537.4,117.5 C537.8,120.1 538.3,122.8 538.7,125.4 C539.2,128 539.6,130.7 540.1,133.3 C540.5,136 541,138.6 541.5,141.2 C541.9,143.8 542.4,146.5 542.9,149.1 C543.4,151.7 543.9,154.3 544.4,157 C544.8,159.6 545.4,162.2 545.9,164.8 C546.4,167.5 546.9,170.1 547.4,172.7 C547.9,175.3 548.5,177.9 549,180.5 C549.5,183.2 550.1,185.8 550.6,188.4 C551.2,191 551.7,193.6 552.3,196.2 C552.9,198.8 553.4,201.5 554,204.1 C554.6,206.7 555.2,209.3 555.8,211.9 C556.4,214.5 557,217.1 557.6,219.7 C558.2,222.4 558.8,225 559.4,227.6 C560,230.2 560.7,232.8 561.3,235.4 C561.9,238 562.6,240.6 563.2,243.3 C563.9,245.9 564.5,248.5 565.2,251.1 C565.8,253.7 566.5,256.3 567.2,259 C567.9,261.6 568.5,264.2 569.2,266.8 C569.9,269.4 570.6,272 571.3,274.7 C572,277.3 572.7,279.9 573.4,282.5 C574,285.2 574.7,287.8 575.4,290.4 C576.1,293 576.7,295.7 577.4,298.3 C578,300.9 578.6,303.6 579.3,306.2 C579.9,308.8 580.5,311.4 581,314.1 C581.6,316.7 582.2,319.3 582.7,322 C583.2,324.6 583.7,327.2 584.2,329.9 C584.7,332.5 585.1,335.2 585.5,337.8 C585.9,340.4 586.3,343.1 586.6,345.7 C587,348.3 587.3,351 587.5,353.6 C587.8,356.3 588,358.9 588.1,361.6 C588.3,364.2 588.4,366.8 588.5,369.5 C588.5,372.1 588.6,374.8 588.5,377.4 C588.5,380.1 588.4,382.7 588.2,385.4 C588.1,388 587.9,390.7 587.7,393.3 C587.4,396 587.2,398.6 586.8,401.2 C586.5,403.9 586.1,406.5 585.7,409.2 C585.3,411.8 584.9,414.5 584.4,417.1 C583.9,419.7 583.4,422.4 582.8,425 C582.3,427.6 581.7,430.3 581.1,432.9 C580.5,435.5 579.8,438.1 579.2,440.7 C578.5,443.3 577.8,446 577.1,448.6 C576.4,451.2 575.6,453.8 574.9,456.3 C574.1,458.9 573.3,461.5 572.5,464.1 C571.7,466.7 570.9,469.3 570.1,471.8 C569.3,474.4 568.5,477 567.6,479.5 C566.8,482.1 565.9,484.6 565.1,487.2 C564.2,489.7 563.4,492.3 562.5,494.8 C561.7,497.4 560.8,499.9 560,502.5 C559.1,505 558.3,507.6 557.5,510.1 C556.6,512.7 555.8,515.2 555,517.8 C554.2,520.4 553.4,522.9 552.6,525.5 C551.8,528 551,530.6 550.3,533.2 C549.5,535.7 548.8,538.3 548.1,540.9 C547.4,543.5 546.7,546.1 546,548.6 C545.4,551.2 544.7,553.8 544.1,556.4 C543.5,559 542.9,561.6 542.3,564.3 C541.7,566.9 541.1,569.5 540.6,572.1 C540,574.7 539.5,577.3 539,580 C538.5,582.6 538,585.2 537.5,587.9 C537,590.5 536.5,593.1 536.1,595.8 C535.6,598.4 535.2,601.1 534.8,603.7 C534.3,606.4 533.9,609 533.5,611.7 C533.1,614.3 532.7,617 532.3,619.6 C532,622.3 531.6,624.9 531.3,627.6 C530.9,630.3 530.6,632.9 530.2,635.6 C529.9,638.3 529.6,640.9 529.2,643.6 C528.9,646.3 528.6,648.9 528.3,651.6 C528,654.3 527.7,657 527.5,659.6 C527.2,662.3 526.9,665 526.6,667.7 C526.3,670.3 526.1,673 525.8,675.7 C525.6,678.3 525.3,681 525.1,683.7 C524.8,686.4 524.6,689 524.3,691.7 C524.1,694.4 523.8,697.1 523.6,699.7 C523.4,702.4 523.1,705.1 522.9,707.7 C522.7,710.4 522.5,713.1 522.3,715.8 C522,718.4 521.8,721.1 521.6,723.8 C521.4,726.5 521.2,729.1 521,731.8 C520.8,734.5 520.6,737.1 520.4,739.8 C520.2,742.5 520,745.2 519.9,747.8 C519.7,750.5 519.5,753.2 519.3,755.9 C519.2,758.5 519,761.2 518.8,763.9 C518.6,766.6 518.5,769.2 518.3,771.9 C518.2,774.6 518,777.3 517.8,779.9 C517.7,782.6 517.5,785.3 517.4,788 C517.3,790.6 517.1,793.3 517,796 C516.8,798.7 516.7,801.4 516.6,804 C516.4,806.7 516.3,809.4 516.2,812.1 C516,814.8 515.9,817.4 515.8,820.1 C515.7,822.8 515.6,825.5 515.4,828.2 C515.3,830.8 515.2,833.5 515.1,836.2 C515,838.9 514.9,841.6 514.8,844.3 C514.7,847 514.5,851 514.5,852.3" fill="none" stroke="#000" stroke-width="3.75" stroke-linejoin="round"/>
<path d="M745,56.6 L754.6,62.6 L771.7,74.5 L792.7,86.8 L813.8,99.3 L830,108.6 L838.5,112.2 L832.6,107.5 L811.4,92 L790.3,78.7 L770.7,66.2 L756.6,57.3" fill="none" stroke="#000" stroke-width="3.75" stroke-linejoin="round"/>
<path d="M509,843.3 V62.6" fill="none" stroke="#f00" stroke-width="3" stroke-dasharray="10.43 4.5"/>
</g>
<rect x="588.3" y="650.8" width="299.8" height="178.4" fill="#fff" stroke="#000" stroke-width="1.4"/>
<path d="M600.6,675.8 H646.6" stroke="#000" stroke-width="3.75"/>
<text x="667.2" y="685.8" font-size="28.3" text-anchor="start">Obs. 95% CL</text>
<rect x="601.9" y="706.5" width="43" height="20.2" fill="#d3d3d3"/>
<text x="667.2" y="726.7" font-size="28.3" text-anchor="start">Excluded region</text>
<path d="M601.9,757.6 H645.3" stroke="#000" stroke-width="3.75" stroke-dasharray="13.05 5.6"/>
<text x="667.2" y="767.6" font-size="28.3" text-anchor="start">Exp. 95% CL</text>
<path d="M601.9,798.5 H645.3" stroke="#f00" stroke-width="3" stroke-dasharray="10.43 4.5"/>
<text x="667.2" y="808.5" font-size="28.3" text-anchor="start">SM-like coupling</text>
<rect x="115.9" y="62.6" width="786.1" height="780.7" fill="none" stroke="#000" stroke-width="3.3"/>
<text x="115.9" y="873.9" font-size="30.9" text-anchor="middle">-0.3</text>
<text x="246.9" y="873.9" font-size="30.9" text-anchor="middle">-0.2</text>
<text x="377.9" y="873.9" font-size="30.9" text-anchor="middle">-0.1</text>
<text x="509" y="873.9" font-size="30.9" text-anchor="middle">0.0</text>
<text x="640" y="873.9" font-size="30.9" text-anchor="middle">0.1</text>
<text x="771" y="873.9" font-size="30.9" text-anchor="middle">0.2</text>
<text x="902" y="873.9" font-size="30.9" text-anchor="middle">0.3</text>
<text x="49.8" y="853.8" font-size="30.9" text-anchor="start">10</text>
<text x="84.6" y="842.8" font-size="21.6" text-anchor="start">−1</text>
<text x="62.9" y="463.4" font-size="30.9" text-anchor="start">10</text>
<text x="97" y="452.4" font-size="21.6" text-anchor="start">0</text>
<text x="62.9" y="73.1" font-size="30.9" text-anchor="start">10</text>
<text x="97" y="62.1" font-size="21.6" text-anchor="start">1</text>
<text x="750.6" y="911.6" font-size="34.3">cos(β</text><text x="839.9" y="912.4" font-size="31">−</text><text x="865.6" y="911.6" font-size="34.8" class="b" style="font-family:'DejaVu Sans','Liberation Sans',sans-serif">α</text><text x="901.6" y="911.6" font-size="34.3" text-anchor="end">)</text>
<text transform="translate(35.7,133.2) rotate(-90)" font-size="34.3">tan<tspan dx="4.2">β</tspan></text>
<text transform="translate(116.9,51) scale(0.936,1)" font-size="59.3" font-weight="bold" style="stroke-width:0.7px">CMS</text>
<text x="590" y="48" font-size="40" text-anchor="start">138 fb</text>
<text x="701.2" y="33.7" font-size="28" text-anchor="start">−1</text>
<text x="901.6" y="48" font-size="40" text-anchor="end">(13 TeV)</text>
<text x="139" y="764.6" font-size="31.1" text-anchor="start">2HDM Type II</text>
<text x="138.6" y="804.4" font-size="31.4" text-anchor="start">m</text>
<text x="165.6" y="808.3" font-size="22.8" text-anchor="start">H</text>
<text x="382.4" y="804.4" font-size="30.9" text-anchor="end">= 125.38 GeV</text>
</g>
<g transform="translate(0,935.2)">
<clipPath id="clip2"><rect x="115.9" y="62.6" width="786.1" height="780.7"/></clipPath>
<rect x="115.9" y="62.6" width="786.1" height="780.7" fill="#d3d3d3"/>
<g clip-path="url(#clip2)">
<path d="M503.8,53.6 C503.8,54.9 503.6,59 503.5,61.6 C503.4,64.3 503.3,67 503.2,69.7 C503.1,72.3 503,75 502.9,77.7 C502.8,80.4 502.7,83 502.6,85.7 C502.5,88.4 502.4,91.1 502.3,93.7 C502.2,96.4 502.1,99.1 501.9,101.8 C501.8,104.4 501.7,107.1 501.6,109.8 C501.5,112.5 501.3,115.1 501.2,117.8 C501.1,120.5 500.9,123.1 500.8,125.8 C500.7,128.5 500.5,131.2 500.4,133.8 C500.2,136.5 500.1,139.2 499.9,141.9 C499.8,144.5 499.6,147.2 499.5,149.9 C499.3,152.6 499.2,155.2 499,157.9 C498.8,160.6 498.7,163.2 498.5,165.9 C498.3,168.6 498.1,171.3 497.9,173.9 C497.8,176.6 497.6,179.3 497.4,181.9 C497.2,184.6 497,187.3 496.8,189.9 C496.6,192.6 496.4,195.3 496.1,197.9 C495.9,200.6 495.7,203.3 495.5,205.9 C495.3,208.6 495,211.3 494.8,213.9 C494.6,216.6 494.3,219.3 494.1,221.9 C493.8,224.6 493.6,227.3 493.3,229.9 C493.1,232.6 492.8,235.3 492.6,237.9 C492.3,240.6 492,243.3 491.8,245.9 C491.5,248.6 491.2,251.3 491,253.9 C490.7,256.6 490.4,259.3 490.1,261.9 C489.8,264.6 489.6,267.2 489.3,269.9 C488.9,272.6 488.6,275.2 488.3,277.9 C488,280.5 487.6,283.2 487.3,285.9 C486.9,288.5 486.5,291.2 486.1,293.8 C485.7,296.5 485.3,299.1 484.9,301.7 C484.4,304.4 484,307 483.5,309.7 C483,312.3 482.5,314.9 482,317.6 C481.5,320.2 480.9,322.8 480.4,325.4 C479.8,328 479.2,330.6 478.6,333.2 C478,335.9 477.3,338.4 476.7,341 C476,343.6 475.3,346.2 474.6,348.8 C473.9,351.4 473.2,353.9 472.4,356.5 C471.7,359.1 470.9,361.6 470.1,364.2 C469.3,366.7 468.5,369.2 467.6,371.8 C466.8,374.3 465.9,376.8 465,379.3 C464.2,381.9 463.2,384.4 462.3,386.9 C461.4,389.4 460.4,391.9 459.5,394.4 C458.5,396.9 457.5,399.4 456.5,401.8 C455.5,404.3 454.5,406.8 453.4,409.3 C452.4,411.7 451.3,414.2 450.3,416.7 C449.2,419.1 448.1,421.6 447,424.1 C445.9,426.5 444.8,429 443.7,431.4 C442.6,433.9 441.5,436.4 440.4,438.8 C439.3,441.3 438.2,443.7 437.1,446.2 C436,448.7 435,451.2 433.9,453.6 C432.9,456.1 431.9,458.6 430.9,461.1 C429.9,463.6 429,466.1 428.1,468.7 C427.2,471.2 426.3,473.7 425.5,476.3 C424.8,478.8 424,481.4 423.3,484 C422.7,486.6 422,489.1 421.5,491.7 C421,494.4 420.5,497 420.1,499.6 C419.7,502.2 419.4,504.9 419.2,507.5 C418.9,510.1 418.8,512.8 418.7,515.5 C418.5,518.1 418.5,520.8 418.5,523.4 C418.5,526.1 418.6,528.8 418.7,531.4 C418.9,534.1 419.1,536.8 419.3,539.4 C419.5,542.1 419.8,544.8 420.2,547.4 C420.5,550.1 420.9,552.7 421.3,555.3 C421.8,558 422.2,560.6 422.8,563.2 C423.3,565.8 423.8,568.5 424.4,571.1 C425,573.7 425.6,576.3 426.3,578.9 C426.9,581.4 427.6,584 428.3,586.6 C429.1,589.2 429.8,591.8 430.6,594.3 C431.3,596.9 432.1,599.5 432.9,602 C433.7,604.6 434.5,607.2 435.3,609.7 C436.1,612.3 437,614.8 437.8,617.4 C438.7,619.9 439.5,622.5 440.4,625 C441.2,627.6 442.1,630.1 442.9,632.7 C443.8,635.2 444.6,637.8 445.5,640.3 C446.3,642.9 447.2,645.4 448,648 C448.8,650.6 449.6,653.1 450.4,655.7 C451.2,658.2 452,660.8 452.8,663.4 C453.6,665.9 454.3,668.5 455.1,671.1 C455.8,673.7 456.6,676.2 457.3,678.8 C458,681.4 458.8,684 459.5,686.5 C460.2,689.1 460.8,691.7 461.5,694.3 C462.2,696.9 462.9,699.5 463.5,702.1 C464.2,704.7 464.8,707.3 465.5,709.9 C466.1,712.5 466.7,715.1 467.3,717.7 C467.9,720.3 468.5,722.9 469.1,725.5 C469.7,728.1 470.3,730.7 470.8,733.3 C471.4,735.9 471.9,738.5 472.5,741.2 C473,743.8 473.5,746.4 474.1,749 C474.6,751.6 475.1,754.3 475.6,756.9 C476.1,759.5 476.6,762.2 477,764.8 C477.5,767.4 478,770 478.4,772.7 C478.9,775.3 479.3,778 479.8,780.6 C480.2,783.2 480.6,785.9 481,788.5 C481.4,791.2 481.9,793.8 482.2,796.5 C482.6,799.1 483,801.7 483.4,804.4 C483.8,807.1 484.1,809.7 484.5,812.4 C484.8,815 485.2,817.7 485.5,820.3 C485.9,823 486.2,825.7 486.5,828.3 C486.8,831 487.1,833.6 487.4,836.3 C487.7,839 488,841.6 488.3,844.3 C488.6,847 489,851 489.1,852.3 L514,852.3 C514,850.9 514.2,846.9 514.3,844.3 C514.4,841.6 514.5,838.9 514.7,836.3 C514.8,833.6 514.9,830.9 515,828.3 C515.1,825.6 515.2,822.9 515.3,820.3 C515.4,817.6 515.5,814.9 515.6,812.2 C515.8,809.6 515.9,806.9 516,804.2 C516.1,801.6 516.2,798.9 516.3,796.2 C516.4,793.5 516.6,790.9 516.7,788.2 C516.8,785.5 516.9,782.8 517,780.2 C517.2,777.5 517.3,774.8 517.4,772.1 C517.6,769.5 517.7,766.8 517.8,764.1 C518,761.4 518.1,758.8 518.2,756.1 C518.4,753.4 518.5,750.8 518.7,748.1 C518.8,745.4 519,742.7 519.2,740.1 C519.3,737.4 519.5,734.7 519.7,732 C519.9,729.4 520,726.7 520.2,724 C520.4,721.4 520.6,718.7 520.8,716 C521,713.4 521.2,710.7 521.4,708 C521.6,705.3 521.9,702.7 522.1,700 C522.3,697.3 522.5,694.7 522.8,692 C523,689.4 523.3,686.7 523.5,684 C523.8,681.4 524.1,678.7 524.3,676 C524.6,673.4 524.9,670.7 525.2,668.1 C525.5,665.4 525.8,662.7 526.1,660.1 C526.4,657.4 526.8,654.8 527.1,652.1 C527.4,649.5 527.8,646.8 528.1,644.2 C528.5,641.5 528.9,638.9 529.3,636.2 C529.6,633.6 530,630.9 530.4,628.3 C530.8,625.6 531.3,623 531.7,620.4 C532.1,617.7 532.6,615.1 533,612.4 C533.5,609.8 533.9,607.2 534.4,604.5 C534.9,601.9 535.4,599.3 535.9,596.7 C536.4,594 536.9,591.4 537.5,588.8 C538,586.2 538.6,583.5 539.2,580.9 C539.7,578.3 540.3,575.7 540.9,573.1 C541.5,570.5 542.2,567.9 542.8,565.3 C543.5,562.7 544.1,560.1 544.8,557.6 C545.5,555 546.2,552.4 546.9,549.8 C547.6,547.3 548.4,544.7 549.2,542.1 C549.9,539.6 550.7,537 551.5,534.5 C552.3,531.9 553.1,529.4 554,526.9 C554.9,524.3 555.7,521.8 556.6,519.3 C557.5,516.8 558.5,514.3 559.4,511.8 C560.4,509.3 561.3,506.8 562.3,504.3 C563.3,501.9 564.4,499.4 565.4,496.9 C566.5,494.5 567.5,492 568.6,489.6 C569.7,487.1 570.9,484.7 572,482.3 C573.2,479.9 574.3,477.4 575.5,475 C576.7,472.6 577.9,470.2 579.1,467.8 C580.3,465.4 581.5,463 582.7,460.6 C584,458.2 585.2,455.8 586.4,453.5 C587.6,451.1 588.8,448.7 590,446.3 C591.2,443.9 592.4,441.5 593.6,439.1 C594.8,436.7 596,434.3 597.1,431.9 C598.3,429.5 599.4,427.1 600.6,424.7 C601.7,422.2 602.8,419.8 603.9,417.4 C605,414.9 606.1,412.5 607.1,410 C608.1,407.5 609.1,405 610.1,402.5 C611,400 611.8,397.5 612.6,395 C613.4,392.4 614.1,389.8 614.7,387.2 C615.3,384.6 615.7,382 616.1,379.3 C616.5,376.7 616.8,374 617,371.3 C617.2,368.6 617.3,365.9 617.3,363.3 C617.4,360.6 617.3,357.9 617.2,355.2 C617.1,352.6 616.8,349.9 616.6,347.3 C616.3,344.6 616,342 615.6,339.4 C615.2,336.7 614.7,334.1 614.2,331.5 C613.7,328.9 613.2,326.3 612.6,323.7 C612,321.1 611.3,318.6 610.6,316 C609.9,313.4 609.2,310.9 608.4,308.3 C607.7,305.7 606.9,303.2 606,300.6 C605.2,298.1 604.4,295.5 603.5,293 C602.6,290.5 601.7,287.9 600.8,285.4 C599.9,282.9 599,280.3 598.1,277.8 C597.1,275.3 596.2,272.8 595.3,270.2 C594.3,267.7 593.4,265.2 592.5,262.6 C591.5,260.1 590.6,257.6 589.7,255.1 C588.8,252.5 587.9,250 587,247.5 C586.1,244.9 585.2,242.4 584.3,239.9 C583.4,237.3 582.5,234.8 581.7,232.3 C580.8,229.7 579.9,227.2 579.1,224.7 C578.2,222.1 577.4,219.6 576.5,217 C575.7,214.5 574.9,212 574.1,209.4 C573.2,206.9 572.4,204.3 571.6,201.8 C570.8,199.2 570,196.7 569.2,194.1 C568.4,191.6 567.7,189 566.9,186.5 C566.1,183.9 565.4,181.3 564.6,178.8 C563.9,176.2 563.1,173.7 562.4,171.1 C561.7,168.5 560.9,166 560.2,163.4 C559.5,160.8 558.8,158.2 558.1,155.7 C557.4,153.1 556.8,150.5 556.1,147.9 C555.4,145.3 554.8,142.8 554.1,140.2 C553.5,137.6 552.8,135 552.2,132.4 C551.6,129.8 550.9,127.2 550.3,124.6 C549.7,122 549.1,119.4 548.6,116.8 C548,114.2 547.4,111.6 546.8,109 C546.3,106.4 545.7,103.7 545.2,101.1 C544.6,98.5 544.1,95.9 543.6,93.2 C543.1,90.6 542.6,88 542.1,85.4 C541.6,82.7 541.1,80.1 540.7,77.4 C540.2,74.8 539.7,72.1 539.3,69.5 C538.9,66.8 538.4,64.2 538,61.5 C537.6,58.9 537,54.9 536.8,53.5 Z" fill="#fff" stroke="none"/>
<path d="M735.5,56.7 L744.3,62.4 L764,75.1 L774.5,81.6 L785,87.7 L795.5,93.2 L806.1,98.2 L820.1,103.8 L824.5,104.7 L823.4,102.2 L819.2,98.7 L805.2,88.5 L784.1,74.1 L768.3,62.6 L760,56.6 Z" fill="#fff" stroke="none"/>
</g>
<path d="M115.9,62.6 v17.2 M115.9,843.3 v-17.2 M142.1,62.6 v8.8 M142.1,843.3 v-8.8 M168.3,62.6 v8.8 M168.3,843.3 v-8.8 M194.5,62.6 v8.8 M194.5,843.3 v-8.8 M220.7,62.6 v8.8 M220.7,843.3 v-8.8 M246.9,62.6 v17.2 M246.9,843.3 v-17.2 M273.1,62.6 v8.8 M273.1,843.3 v-8.8 M299.3,62.6 v8.8 M299.3,843.3 v-8.8 M325.5,62.6 v8.8 M325.5,843.3 v-8.8 M351.7,62.6 v8.8 M351.7,843.3 v-8.8 M377.9,62.6 v17.2 M377.9,843.3 v-17.2 M404.1,62.6 v8.8 M404.1,843.3 v-8.8 M430.3,62.6 v8.8 M430.3,843.3 v-8.8 M456.5,62.6 v8.8 M456.5,843.3 v-8.8 M482.7,62.6 v8.8 M482.7,843.3 v-8.8 M509,62.6 v17.2 M509,843.3 v-17.2 M535.2,62.6 v8.8 M535.2,843.3 v-8.8 M561.4,62.6 v8.8 M561.4,843.3 v-8.8 M587.6,62.6 v8.8 M587.6,843.3 v-8.8 M613.8,62.6 v8.8 M613.8,843.3 v-8.8 M640,62.6 v17.2 M640,843.3 v-17.2 M666.2,62.6 v8.8 M666.2,843.3 v-8.8 M692.4,62.6 v8.8 M692.4,843.3 v-8.8 M718.6,62.6 v8.8 M718.6,843.3 v-8.8 M744.8,62.6 v8.8 M744.8,843.3 v-8.8 M771,62.6 v17.2 M771,843.3 v-17.2 M797.2,62.6 v8.8 M797.2,843.3 v-8.8 M823.4,62.6 v8.8 M823.4,843.3 v-8.8 M849.6,62.6 v8.8 M849.6,843.3 v-8.8 M875.8,62.6 v8.8 M875.8,843.3 v-8.8 M902,62.6 v17.2 M902,843.3 v-17.2 M115.9,843.3 h17.2 M902,843.3 h-17.2 M115.9,725.8 h8.8 M902,725.8 h-8.8 M115.9,657.1 h8.8 M902,657.1 h-8.8 M115.9,608.3 h8.8 M902,608.3 h-8.8 M115.9,570.5 h8.8 M902,570.5 h-8.8 M115.9,539.5 h8.8 M902,539.5 h-8.8 M115.9,513.4 h8.8 M902,513.4 h-8.8 M115.9,490.8 h8.8 M902,490.8 h-8.8 M115.9,470.8 h8.8 M902,470.8 h-8.8 M115.9,452.9 h17.2 M902,452.9 h-17.2 M115.9,335.4 h8.8 M902,335.4 h-8.8 M115.9,266.7 h8.8 M902,266.7 h-8.8 M115.9,217.9 h8.8 M902,217.9 h-8.8 M115.9,180.1 h8.8 M902,180.1 h-8.8 M115.9,149.2 h8.8 M902,149.2 h-8.8 M115.9,123.1 h8.8 M902,123.1 h-8.8 M115.9,100.4 h8.8 M902,100.4 h-8.8 M115.9,80.5 h8.8 M902,80.5 h-8.8 M115.9,62.6 h17.2 M902,62.6 h-17.2" fill="none" stroke="#000" stroke-width="1.4"/>
<g clip-path="url(#clip2)">
<path d="M492.2,53.6 C492.1,55 491.7,59 491.4,61.6 C491.1,64.3 490.8,66.9 490.5,69.6 C490.2,72.3 489.9,74.9 489.6,77.6 C489.3,80.2 489,82.9 488.7,85.6 C488.4,88.2 488.1,90.9 487.7,93.6 C487.4,96.2 487.1,98.9 486.7,101.5 C486.4,104.2 486,106.9 485.7,109.5 C485.3,112.2 484.9,114.8 484.6,117.5 C484.2,120.2 483.8,122.8 483.4,125.5 C483,128.1 482.6,130.8 482.2,133.4 C481.8,136.1 481.4,138.7 481,141.4 C480.6,144.1 480.1,146.7 479.7,149.3 C479.2,152 478.8,154.6 478.3,157.3 C477.9,159.9 477.4,162.6 476.9,165.2 C476.4,167.9 475.9,170.5 475.4,173.1 C474.9,175.8 474.4,178.4 473.9,181 C473.4,183.7 472.8,186.3 472.3,188.9 C471.7,191.6 471.2,194.2 470.6,196.8 C470,199.4 469.4,202 468.8,204.6 C468.2,207.3 467.6,209.9 467,212.5 C466.4,215.1 465.8,217.7 465.1,220.3 C464.5,222.9 463.8,225.5 463.1,228.1 C462.5,230.7 461.8,233.3 461.1,235.9 C460.4,238.5 459.7,241 458.9,243.6 C458.2,246.2 457.5,248.8 456.7,251.3 C455.9,253.9 455.2,256.5 454.4,259.1 C453.6,261.6 452.8,264.2 452,266.7 C451.2,269.3 450.3,271.8 449.5,274.4 C448.7,276.9 447.8,279.5 446.9,282 C446.1,284.5 445.2,287.1 444.3,289.6 C443.5,292.2 442.6,294.7 441.7,297.2 C440.8,299.8 439.9,302.3 439,304.8 C438.1,307.4 437.2,309.9 436.3,312.4 C435.5,315 434.6,317.5 433.7,320 C432.8,322.6 431.9,325.1 431,327.6 C430.2,330.2 429.3,332.7 428.4,335.3 C427.6,337.8 426.7,340.3 425.9,342.9 C425,345.4 424.2,348 423.4,350.6 C422.6,353.1 421.8,355.7 421,358.2 C420.2,360.8 419.4,363.4 418.7,366 C417.9,368.5 417.2,371.1 416.5,373.7 C415.8,376.3 415.1,378.9 414.4,381.5 C413.7,384.1 413.1,386.7 412.5,389.3 C411.9,392 411.3,394.6 410.7,397.2 C410.2,399.9 409.6,402.5 409.2,405.1 C408.7,407.8 408.2,410.4 407.8,413.1 C407.4,415.7 407,418.4 406.7,421.1 C406.4,423.7 406.2,426.4 406,429 C405.8,431.7 405.6,434.4 405.5,437 C405.4,439.7 405.4,442.3 405.4,445 C405.5,447.6 405.6,450.3 405.8,452.9 C405.9,455.6 406.2,458.2 406.5,460.9 C406.8,463.5 407.2,466.1 407.7,468.8 C408.2,471.4 408.7,474 409.3,476.6 C409.9,479.2 410.6,481.9 411.3,484.5 C412,487.1 412.7,489.7 413.5,492.2 C414.2,494.8 415,497.4 415.9,500 C416.7,502.6 417.5,505.2 418.4,507.7 C419.2,510.3 420.1,512.9 420.9,515.4 C421.8,518 422.6,520.5 423.5,523.1 C424.4,525.6 425.2,528.2 426.1,530.7 C427,533.2 427.8,535.8 428.7,538.3 C429.6,540.9 430.5,543.4 431.3,545.9 C432.2,548.5 433,551 433.9,553.6 C434.8,556.1 435.6,558.6 436.5,561.2 C437.3,563.7 438.2,566.3 439,568.8 C439.8,571.4 440.7,573.9 441.5,576.5 C442.3,579 443.1,581.6 443.9,584.1 C444.7,586.7 445.5,589.3 446.3,591.8 C447.1,594.4 447.9,596.9 448.7,599.5 C449.5,602.1 450.3,604.6 451,607.2 C451.8,609.8 452.6,612.4 453.3,614.9 C454,617.5 454.8,620.1 455.5,622.7 C456.3,625.2 457,627.8 457.7,630.4 C458.4,633 459.1,635.6 459.8,638.2 C460.5,640.8 461.2,643.4 461.9,646 C462.5,648.5 463.2,651.1 463.9,653.7 C464.5,656.3 465.1,658.9 465.8,661.5 C466.4,664.2 467,666.8 467.6,669.4 C468.3,672 468.9,674.6 469.4,677.2 C470,679.8 470.6,682.4 471.2,685.1 C471.8,687.7 472.3,690.3 472.9,692.9 C473.4,695.5 474,698.2 474.5,700.8 C475,703.4 475.5,706.1 476,708.7 C476.5,711.3 477,714 477.5,716.6 C478,719.2 478.5,721.9 479,724.5 C479.4,727.1 479.9,729.8 480.3,732.4 C480.8,735.1 481.2,737.7 481.6,740.4 C482.1,743 482.5,745.7 482.9,748.3 C483.3,751 483.7,753.6 484.1,756.3 C484.5,758.9 484.9,761.6 485.2,764.2 C485.6,766.9 486,769.6 486.3,772.2 C486.7,774.9 487,777.5 487.4,780.2 C487.7,782.9 488,785.5 488.3,788.2 C488.7,790.9 489,793.5 489.3,796.2 C489.6,798.9 489.8,801.5 490.1,804.2 C490.4,806.9 490.7,809.5 490.9,812.2 C491.2,814.9 491.5,817.5 491.7,820.2 C491.9,822.9 492.2,825.6 492.4,828.2 C492.6,830.9 492.9,833.6 493.1,836.3 C493.3,838.9 493.5,841.6 493.7,844.3 C493.9,847 494.1,851 494.2,852.3" fill="none" stroke="#000" stroke-width="3.75" stroke-dasharray="13.05 5.6" stroke-dashoffset="2.46"/>
<path d="M525.7,53.6 C525.9,54.9 526.3,58.9 526.6,61.6 C527,64.3 527.3,67 527.6,69.6 C527.9,72.3 528.2,75 528.6,77.7 C528.9,80.3 529.2,83 529.6,85.7 C529.9,88.4 530.2,91 530.6,93.7 C530.9,96.4 531.3,99 531.6,101.7 C532,104.4 532.3,107 532.7,109.7 C533.1,112.4 533.4,115 533.8,117.7 C534.2,120.4 534.5,123 534.9,125.7 C535.3,128.4 535.7,131 536.1,133.7 C536.5,136.3 536.9,139 537.3,141.6 C537.8,144.3 538.2,146.9 538.6,149.6 C539.1,152.2 539.5,154.9 540,157.5 C540.4,160.2 540.9,162.8 541.3,165.5 C541.8,168.1 542.3,170.8 542.8,173.4 C543.3,176 543.8,178.7 544.3,181.3 C544.8,183.9 545.3,186.6 545.9,189.2 C546.4,191.8 546.9,194.5 547.5,197.1 C548.1,199.7 548.6,202.3 549.2,204.9 C549.8,207.6 550.4,210.2 551,212.8 C551.6,215.4 552.2,218 552.9,220.6 C553.5,223.2 554.2,225.8 554.8,228.4 C555.5,231 556.2,233.6 556.9,236.2 C557.6,238.8 558.3,241.4 559,244 C559.7,246.6 560.5,249.2 561.2,251.7 C562,254.3 562.7,256.9 563.5,259.5 C564.3,262 565.1,264.6 566,267.2 C566.8,269.8 567.6,272.3 568.5,274.9 C569.3,277.4 570.2,280 571.1,282.6 C571.9,285.1 572.8,287.7 573.7,290.2 C574.6,292.8 575.5,295.3 576.4,297.9 C577.3,300.4 578.2,303 579.1,305.5 C580.1,308.1 581,310.6 581.9,313.2 C582.8,315.7 583.7,318.2 584.6,320.8 C585.5,323.3 586.5,325.9 587.4,328.4 C588.3,331 589.2,333.5 590.1,336.1 C591,338.6 591.9,341.2 592.7,343.7 C593.6,346.3 594.5,348.8 595.3,351.4 C596.2,353.9 597.1,356.5 597.9,359.1 C598.7,361.6 599.5,364.2 600.3,366.7 C601.1,369.3 601.9,371.9 602.7,374.5 C603.4,377 604.2,379.6 604.9,382.2 C605.6,384.8 606.3,387.3 607,389.9 C607.7,392.5 608.3,395.1 609,397.7 C609.6,400.3 610.2,402.9 610.8,405.5 C611.3,408.1 611.9,410.7 612.4,413.4 C612.9,416 613.4,418.6 613.8,421.2 C614.3,423.9 614.7,426.5 615,429.2 C615.4,431.8 615.7,434.4 616,437.1 C616.3,439.8 616.6,442.4 616.8,445.1 C617,447.8 617.2,450.5 617.3,453.2 C617.5,455.8 617.6,458.5 617.6,461.2 C617.6,463.9 617.6,466.6 617.5,469.3 C617.4,472 617.3,474.7 617,477.4 C616.8,480.1 616.6,482.8 616.2,485.5 C615.9,488.1 615.5,490.8 615,493.4 C614.6,496.1 614,498.7 613.5,501.3 C612.9,503.9 612.3,506.6 611.6,509.2 C610.9,511.8 610.2,514.3 609.4,516.9 C608.7,519.5 607.9,522.1 607,524.6 C606.2,527.2 605.3,529.7 604.5,532.3 C603.6,534.8 602.7,537.4 601.8,539.9 C600.8,542.5 599.9,545 599,547.5 C598,550.1 597.1,552.6 596.1,555.1 C595.2,557.7 594.2,560.2 593.3,562.7 C592.3,565.2 591.4,567.8 590.5,570.3 C589.5,572.8 588.6,575.4 587.7,577.9 C586.7,580.4 585.8,582.9 584.9,585.5 C583.9,588 583,590.5 582.1,593.1 C581.2,595.6 580.3,598.1 579.4,600.7 C578.5,603.2 577.6,605.7 576.7,608.3 C575.8,610.8 574.9,613.3 574.1,615.9 C573.2,618.4 572.3,621 571.5,623.5 C570.6,626 569.8,628.6 568.9,631.1 C568.1,633.7 567.3,636.3 566.5,638.8 C565.7,641.4 564.9,643.9 564.1,646.5 C563.3,649.1 562.5,651.6 561.7,654.2 C561,656.8 560.2,659.3 559.5,661.9 C558.7,664.5 558,667.1 557.3,669.7 C556.6,672.3 555.9,674.9 555.2,677.5 C554.5,680.1 553.8,682.7 553.1,685.3 C552.5,687.9 551.8,690.5 551.2,693.1 C550.6,695.7 549.9,698.3 549.3,700.9 C548.7,703.5 548.1,706.2 547.5,708.8 C546.9,711.4 546.3,714 545.8,716.7 C545.2,719.3 544.6,721.9 544.1,724.6 C543.6,727.2 543,729.8 542.5,732.5 C542,735.1 541.5,737.8 541,740.4 C540.5,743.1 540,745.7 539.5,748.4 C539,751 538.5,753.7 538.1,756.3 C537.6,759 537.2,761.6 536.7,764.3 C536.3,766.9 535.9,769.6 535.5,772.2 C535,774.9 534.6,777.6 534.2,780.2 C533.8,782.9 533.5,785.6 533.1,788.2 C532.7,790.9 532.3,793.6 532,796.2 C531.6,798.9 531.3,801.6 530.9,804.2 C530.6,806.9 530.2,809.6 529.9,812.2 C529.6,814.9 529.3,817.6 529,820.2 C528.7,822.9 528.4,825.6 528.1,828.2 C527.8,830.9 527.5,833.6 527.2,836.3 C527,838.9 526.7,841.6 526.4,844.3 C526.2,846.9 525.8,850.9 525.7,852.3" fill="none" stroke="#000" stroke-width="3.75" stroke-dasharray="13.05 5.6" stroke-dashoffset="6.57"/>
<path d="M775.1,57.3 C776.2,58.1 779.7,60.3 782,61.8 C784.4,63.3 786.7,64.7 789.1,66.2 C791.4,67.7 793.8,69.1 796.1,70.6 C798.5,72 800.8,73.5 803.2,74.9 C805.6,76.3 807.9,77.7 810.3,79.1 C812.7,80.6 815.1,82 817.4,83.4 C819.8,84.8 822.2,86.1 824.6,87.5 C827,88.9 829.4,90.3 831.8,91.7 C834.2,93 836.6,94.4 839,95.8 C841.4,97.1 843.8,98.5 846.2,99.8 C848.7,101.2 851.1,102.5 853.5,103.8 C855.9,105.2 858.3,106.5 860.8,107.8 C863.2,109.1 865.6,110.5 868.1,111.8 C870.5,113.1 872.9,114.4 875.4,115.7 C877.8,117 880.2,118.3 882.7,119.6 C885.1,120.9 887.6,122.2 890,123.5 C892.4,124.8 894.9,126.1 897.3,127.4 C899.8,128.7 902.2,129.9 904.7,131.2 C907.1,132.5 910.8,134.4 912,135.1" fill="none" stroke="#000" stroke-width="3.75" stroke-dasharray="13.05 5.6"/>
<path d="M740.7,55.8 C741.9,56.6 745.3,58.8 747.6,60.2 C749.8,61.7 752.1,63.2 754.4,64.6 C756.7,66.1 758.9,67.6 761.2,69 C763.5,70.5 765.8,72 768.1,73.4 C770.3,74.9 772.6,76.3 774.9,77.8 C777.2,79.2 779.5,80.7 781.8,82.1 C784.1,83.6 786.4,85 788.7,86.4 C791,87.8 793.3,89.2 795.6,90.6 C797.9,92 800.3,93.4 802.6,94.8 C804.9,96.2 807.2,97.5 809.6,98.9 C811.9,100.3 814.3,101.6 816.6,102.9 C819,104.2 821.4,105.6 823.7,106.8 C826.1,108.1 828.5,109.4 830.9,110.7 C833.3,111.9 835.7,113.2 838.1,114.4 C840.5,115.6 842.9,116.8 845.3,118 C847.7,119.2 850.2,120.4 852.6,121.6 C855.1,122.8 857.5,123.9 859.9,125.1 C862.4,126.2 864.9,127.4 867.3,128.5 C869.8,129.6 872.2,130.7 874.7,131.9 C877.2,133 879.7,134.1 882.1,135.2 C884.6,136.2 887.1,137.3 889.6,138.4 C892.1,139.5 894.6,140.5 897.1,141.6 C899.5,142.7 902,143.7 904.5,144.8 C907,145.8 910.8,147.4 912,147.9" fill="none" stroke="#000" stroke-width="3.75" stroke-dasharray="13.05 5.6"/>
<path d="M503.8,53.6 C503.8,54.9 503.6,59 503.5,61.6 C503.4,64.3 503.3,67 503.2,69.7 C503.1,72.3 503,75 502.9,77.7 C502.8,80.4 502.7,83 502.6,85.7 C502.5,88.4 502.4,91.1 502.3,93.7 C502.2,96.4 502.1,99.1 501.9,101.8 C501.8,104.4 501.7,107.1 501.6,109.8 C501.5,112.5 501.3,115.1 501.2,117.8 C501.1,120.5 500.9,123.1 500.8,125.8 C500.7,128.5 500.5,131.2 500.4,133.8 C500.2,136.5 500.1,139.2 499.9,141.9 C499.8,144.5 499.6,147.2 499.5,149.9 C499.3,152.6 499.2,155.2 499,157.9 C498.8,160.6 498.7,163.2 498.5,165.9 C498.3,168.6 498.1,171.3 497.9,173.9 C497.8,176.6 497.6,179.3 497.4,181.9 C497.2,184.6 497,187.3 496.8,189.9 C496.6,192.6 496.4,195.3 496.1,197.9 C495.9,200.6 495.7,203.3 495.5,205.9 C495.3,208.6 495,211.3 494.8,213.9 C494.6,216.6 494.3,219.3 494.1,221.9 C493.8,224.6 493.6,227.3 493.3,229.9 C493.1,232.6 492.8,235.3 492.6,237.9 C492.3,240.6 492,243.3 491.8,245.9 C491.5,248.6 491.2,251.3 491,253.9 C490.7,256.6 490.4,259.3 490.1,261.9 C489.8,264.6 489.6,267.2 489.3,269.9 C488.9,272.6 488.6,275.2 488.3,277.9 C488,280.5 487.6,283.2 487.3,285.9 C486.9,288.5 486.5,291.2 486.1,293.8 C485.7,296.5 485.3,299.1 484.9,301.7 C484.4,304.4 484,307 483.5,309.7 C483,312.3 482.5,314.9 482,317.6 C481.5,320.2 480.9,322.8 480.4,325.4 C479.8,328 479.2,330.6 478.6,333.2 C478,335.9 477.3,338.4 476.7,341 C476,343.6 475.3,346.2 474.6,348.8 C473.9,351.4 473.2,353.9 472.4,356.5 C471.7,359.1 470.9,361.6 470.1,364.2 C469.3,366.7 468.5,369.2 467.6,371.8 C466.8,374.3 465.9,376.8 465,379.3 C464.2,381.9 463.2,384.4 462.3,386.9 C461.4,389.4 460.4,391.9 459.5,394.4 C458.5,396.9 457.5,399.4 456.5,401.8 C455.5,404.3 454.5,406.8 453.4,409.3 C452.4,411.7 451.3,414.2 450.3,416.7 C449.2,419.1 448.1,421.6 447,424.1 C445.9,426.5 444.8,429 443.7,431.4 C442.6,433.9 441.5,436.4 440.4,438.8 C439.3,441.3 438.2,443.7 437.1,446.2 C436,448.7 435,451.2 433.9,453.6 C432.9,456.1 431.9,458.6 430.9,461.1 C429.9,463.6 429,466.1 428.1,468.7 C427.2,471.2 426.3,473.7 425.5,476.3 C424.8,478.8 424,481.4 423.3,484 C422.7,486.6 422,489.1 421.5,491.7 C421,494.4 420.5,497 420.1,499.6 C419.7,502.2 419.4,504.9 419.2,507.5 C418.9,510.1 418.8,512.8 418.7,515.5 C418.5,518.1 418.5,520.8 418.5,523.4 C418.5,526.1 418.6,528.8 418.7,531.4 C418.9,534.1 419.1,536.8 419.3,539.4 C419.5,542.1 419.8,544.8 420.2,547.4 C420.5,550.1 420.9,552.7 421.3,555.3 C421.8,558 422.2,560.6 422.8,563.2 C423.3,565.8 423.8,568.5 424.4,571.1 C425,573.7 425.6,576.3 426.3,578.9 C426.9,581.4 427.6,584 428.3,586.6 C429.1,589.2 429.8,591.8 430.6,594.3 C431.3,596.9 432.1,599.5 432.9,602 C433.7,604.6 434.5,607.2 435.3,609.7 C436.1,612.3 437,614.8 437.8,617.4 C438.7,619.9 439.5,622.5 440.4,625 C441.2,627.6 442.1,630.1 442.9,632.7 C443.8,635.2 444.6,637.8 445.5,640.3 C446.3,642.9 447.2,645.4 448,648 C448.8,650.6 449.6,653.1 450.4,655.7 C451.2,658.2 452,660.8 452.8,663.4 C453.6,665.9 454.3,668.5 455.1,671.1 C455.8,673.7 456.6,676.2 457.3,678.8 C458,681.4 458.8,684 459.5,686.5 C460.2,689.1 460.8,691.7 461.5,694.3 C462.2,696.9 462.9,699.5 463.5,702.1 C464.2,704.7 464.8,707.3 465.5,709.9 C466.1,712.5 466.7,715.1 467.3,717.7 C467.9,720.3 468.5,722.9 469.1,725.5 C469.7,728.1 470.3,730.7 470.8,733.3 C471.4,735.9 471.9,738.5 472.5,741.2 C473,743.8 473.5,746.4 474.1,749 C474.6,751.6 475.1,754.3 475.6,756.9 C476.1,759.5 476.6,762.2 477,764.8 C477.5,767.4 478,770 478.4,772.7 C478.9,775.3 479.3,778 479.8,780.6 C480.2,783.2 480.6,785.9 481,788.5 C481.4,791.2 481.9,793.8 482.2,796.5 C482.6,799.1 483,801.7 483.4,804.4 C483.8,807.1 484.1,809.7 484.5,812.4 C484.8,815 485.2,817.7 485.5,820.3 C485.9,823 486.2,825.7 486.5,828.3 C486.8,831 487.1,833.6 487.4,836.3 C487.7,839 488,841.6 488.3,844.3 C488.6,847 489,851 489.1,852.3" fill="none" stroke="#000" stroke-width="3.75" stroke-linejoin="round"/>
<path d="M537,53.4 C537.2,54.8 537.7,58.8 538.1,61.5 C538.4,64.2 538.8,66.9 539.2,69.5 C539.6,72.2 540,74.8 540.5,77.5 C540.9,80.2 541.4,82.8 541.8,85.5 C542.3,88.1 542.8,90.7 543.3,93.4 C543.8,96 544.3,98.6 544.9,101.3 C545.4,103.9 545.9,106.5 546.5,109.1 C547.1,111.7 547.7,114.3 548.3,116.9 C548.8,119.5 549.5,122.1 550.1,124.7 C550.7,127.3 551.3,129.9 552,132.5 C552.6,135.1 553.3,137.7 554,140.3 C554.6,142.8 555.3,145.4 556,148 C556.7,150.6 557.4,153.1 558.1,155.7 C558.8,158.3 559.6,160.8 560.3,163.4 C561,165.9 561.8,168.5 562.5,171.1 C563.3,173.6 564.1,176.2 564.8,178.7 C565.6,181.3 566.4,183.8 567.2,186.4 C568,188.9 568.8,191.5 569.6,194 C570.4,196.6 571.2,199.1 572,201.6 C572.8,204.2 573.6,206.7 574.5,209.3 C575.3,211.8 576.1,214.3 577,216.9 C577.8,219.4 578.6,222 579.5,224.5 C580.3,227 581.2,229.6 582,232.1 C582.9,234.6 583.7,237.2 584.6,239.7 C585.5,242.3 586.3,244.8 587.2,247.3 C588.1,249.9 588.9,252.4 589.8,255 C590.7,257.5 591.5,260 592.4,262.6 C593.3,265.1 594.1,267.7 595,270.2 C595.9,272.7 596.7,275.3 597.6,277.8 C598.5,280.4 599.3,282.9 600.2,285.5 C601.1,288 601.9,290.6 602.8,293.2 C603.7,295.7 604.5,298.3 605.4,300.8 C606.2,303.4 607,306 607.8,308.5 C608.7,311.1 609.4,313.7 610.2,316.3 C610.9,318.8 611.6,321.4 612.3,324 C613,326.6 613.6,329.2 614.2,331.8 C614.7,334.3 615.2,336.9 615.7,339.5 C616.1,342.2 616.5,344.8 616.8,347.4 C617.1,350 617.4,352.6 617.5,355.2 C617.6,357.9 617.7,360.5 617.7,363.1 C617.6,365.8 617.5,368.4 617.2,371.1 C617,373.7 616.6,376.4 616.2,379 C615.8,381.7 615.2,384.3 614.6,387 C614,389.6 613.3,392.3 612.5,394.9 C611.7,397.5 610.9,400 610,402.6 C609.1,405.1 608.1,407.6 607.1,410.1 C606.1,412.6 605,415 603.9,417.5 C602.8,419.9 601.7,422.3 600.6,424.7 C599.4,427.1 598.2,429.5 597.1,431.9 C595.9,434.3 594.7,436.7 593.5,439.1 C592.3,441.5 591.1,443.8 589.9,446.2 C588.7,448.6 587.5,451 586.3,453.4 C585.1,455.8 584,458.2 582.8,460.6 C581.6,463 580.4,465.4 579.2,467.9 C578.1,470.3 576.9,472.7 575.8,475.1 C574.6,477.5 573.5,480 572.3,482.4 C571.2,484.8 570.1,487.3 569,489.7 C567.9,492.2 566.8,494.6 565.7,497.1 C564.7,499.5 563.6,502 562.6,504.4 C561.6,506.9 560.5,509.4 559.6,511.9 C558.6,514.4 557.6,516.9 556.7,519.4 C555.7,521.9 554.8,524.4 553.9,526.9 C553.1,529.4 552.2,531.9 551.4,534.5 C550.5,537 549.7,539.5 548.9,542.1 C548.2,544.6 547.4,547.2 546.7,549.8 C545.9,552.3 545.2,554.9 544.5,557.5 C543.8,560 543.2,562.6 542.5,565.2 C541.9,567.8 541.3,570.4 540.7,573 C540,575.6 539.5,578.2 538.9,580.8 C538.3,583.4 537.8,586.1 537.2,588.7 C536.7,591.3 536.2,593.9 535.7,596.6 C535.2,599.2 534.7,601.8 534.3,604.5 C533.8,607.1 533.3,609.7 532.9,612.4 C532.5,615 532,617.7 531.6,620.3 C531.2,623 530.8,625.6 530.4,628.3 C530,630.9 529.7,633.6 529.3,636.2 C528.9,638.9 528.6,641.5 528.3,644.2 C527.9,646.9 527.6,649.5 527.2,652.2 C526.9,654.8 526.6,657.5 526.3,660.2 C526,662.8 525.7,665.5 525.4,668.1 C525.1,670.8 524.8,673.5 524.5,676.1 C524.3,678.8 524,681.4 523.7,684.1 C523.5,686.8 523.2,689.4 523,692.1 C522.7,694.8 522.5,697.4 522.2,700.1 C522,702.7 521.8,705.4 521.5,708.1 C521.3,710.7 521.1,713.4 520.9,716.1 C520.7,718.7 520.5,721.4 520.3,724.1 C520.1,726.7 519.9,729.4 519.7,732.1 C519.5,734.7 519.3,737.4 519.2,740.1 C519,742.7 518.8,745.4 518.6,748.1 C518.5,750.7 518.3,753.4 518.2,756.1 C518,758.7 517.9,761.4 517.7,764.1 C517.6,766.8 517.4,769.4 517.3,772.1 C517.1,774.8 517,777.4 516.9,780.1 C516.8,782.8 516.6,785.4 516.5,788.1 C516.4,790.8 516.3,793.5 516.1,796.1 C516,798.8 515.9,801.5 515.8,804.2 C515.7,806.8 515.6,809.5 515.5,812.2 C515.4,814.9 515.3,817.5 515.2,820.2 C515.1,822.9 515,825.6 514.9,828.2 C514.8,830.9 514.7,833.6 514.6,836.3 C514.5,838.9 514.4,841.6 514.4,844.3 C514.3,847 514.1,851 514.1,852.3" fill="none" stroke="#000" stroke-width="3.75" stroke-linejoin="round"/>
<path d="M735.5,56.7 L744.3,62.4 L764,75.1 L774.5,81.6 L785,87.7 L795.5,93.2 L806.1,98.2 L820.1,103.8 L824.5,104.7 L823.4,102.2 L819.2,98.7 L805.2,88.5 L784.1,74.1 L768.3,62.6 L760,56.6" fill="none" stroke="#000" stroke-width="3.75" stroke-linejoin="round"/>
<path d="M509,843.3 V62.6" fill="none" stroke="#f00" stroke-width="3" stroke-dasharray="10.43 4.5"/>
</g>
<rect x="588.3" y="650.8" width="299.8" height="178.4" fill="#fff" stroke="#000" stroke-width="1.4"/>
<path d="M600.6,675.8 H646.6" stroke="#000" stroke-width="3.75"/>
<text x="667.2" y="685.8" font-size="28.3" text-anchor="start">Obs. 95% CL</text>
<rect x="601.9" y="706.5" width="43" height="20.2" fill="#d3d3d3"/>
<text x="667.2" y="726.7" font-size="28.3" text-anchor="start">Excluded region</text>
<path d="M601.9,757.6 H645.3" stroke="#000" stroke-width="3.75" stroke-dasharray="13.05 5.6"/>
<text x="667.2" y="767.6" font-size="28.3" text-anchor="start">Exp. 95% CL</text>
<path d="M601.9,798.5 H645.3" stroke="#f00" stroke-width="3" stroke-dasharray="10.43 4.5"/>
<text x="667.2" y="808.5" font-size="28.3" text-anchor="start">SM-like coupling</text>
<rect x="115.9" y="62.6" width="786.1" height="780.7" fill="none" stroke="#000" stroke-width="3.3"/>
<text x="115.9" y="873.9" font-size="30.9" text-anchor="middle">-0.3</text>
<text x="246.9" y="873.9" font-size="30.9" text-anchor="middle">-0.2</text>
<text x="377.9" y="873.9" font-size="30.9" text-anchor="middle">-0.1</text>
<text x="509" y="873.9" font-size="30.9" text-anchor="middle">0.0</text>
<text x="640" y="873.9" font-size="30.9" text-anchor="middle">0.1</text>
<text x="771" y="873.9" font-size="30.9" text-anchor="middle">0.2</text>
<text x="902" y="873.9" font-size="30.9" text-anchor="middle">0.3</text>
<text x="49.8" y="853.8" font-size="30.9" text-anchor="start">10</text>
<text x="84.6" y="842.8" font-size="21.6" text-anchor="start">−1</text>
<text x="62.9" y="463.4" font-size="30.9" text-anchor="start">10</text>
<text x="97" y="452.4" font-size="21.6" text-anchor="start">0</text>
<text x="62.9" y="73.1" font-size="30.9" text-anchor="start">10</text>
<text x="97" y="62.1" font-size="21.6" text-anchor="start">1</text>
<text x="750.6" y="911.6" font-size="34.3">cos(β</text><text x="839.9" y="912.4" font-size="31">−</text><text x="865.6" y="911.6" font-size="34.8" class="b" style="font-family:'DejaVu Sans','Liberation Sans',sans-serif">α</text><text x="901.6" y="911.6" font-size="34.3" text-anchor="end">)</text>
<text transform="translate(35.7,133.2) rotate(-90)" font-size="34.3">tan<tspan dx="4.2">β</tspan></text>
<text transform="translate(116.9,51) scale(0.936,1)" font-size="59.3" font-weight="bold" style="stroke-width:0.7px">CMS</text>
<text x="590" y="48" font-size="40" text-anchor="start">138 fb</text>
<text x="701.2" y="33.7" font-size="28" text-anchor="start">−1</text>
<text x="901.6" y="48" font-size="40" text-anchor="end">(13 TeV)</text>
<text x="139" y="764.6" font-size="31.1" text-anchor="start">2HDM Lepton-Specific</text>
<text x="138.6" y="804.4" font-size="31.4" text-anchor="start">m</text>
<text x="165.6" y="808.3" font-size="22.8" text-anchor="start">H</text>
<text x="382.4" y="804.4" font-size="30.9" text-anchor="end">= 125.38 GeV</text>
</g>
<g transform="translate(947.4,935.2)">
<clipPath id="clip3"><rect x="115.9" y="62.6" width="786.1" height="780.7"/></clipPath>
<rect x="115.9" y="62.6" width="786.1" height="780.7" fill="#d3d3d3"/>
<g clip-path="url(#clip3)">
<path d="M500.5,53.7 C500.4,55 500,59 499.8,61.6 C499.6,64.3 499.3,66.9 499.1,69.6 C498.9,72.3 498.7,74.9 498.5,77.6 C498.3,80.3 498.1,82.9 497.9,85.6 C497.7,88.3 497.5,90.9 497.3,93.6 C497.1,96.3 496.9,98.9 496.7,101.6 C496.5,104.3 496.4,107 496.2,109.6 C496,112.3 495.8,115 495.6,117.7 C495.4,120.3 495.2,123 495,125.7 C494.8,128.4 494.6,131.1 494.4,133.7 C494.2,136.4 494,139.1 493.8,141.8 C493.6,144.5 493.4,147.1 493.2,149.8 C493,152.5 492.8,155.2 492.6,157.9 C492.3,160.5 492.1,163.2 491.9,165.9 C491.6,168.6 491.4,171.3 491.1,173.9 C490.9,176.6 490.6,179.3 490.3,181.9 C490.1,184.6 489.8,187.3 489.5,190 C489.2,192.6 488.9,195.3 488.6,198 C488.3,200.6 488,203.3 487.6,206 C487.3,208.6 486.9,211.3 486.6,213.9 C486.2,216.6 485.9,219.2 485.5,221.9 C485.1,224.5 484.7,227.2 484.3,229.8 C483.8,232.5 483.4,235.1 483,237.7 C482.5,240.4 482,243 481.6,245.7 C481.1,248.3 480.6,250.9 480.1,253.5 C479.5,256.2 479,258.8 478.5,261.4 C477.9,264 477.3,266.6 476.7,269.2 C476.1,271.8 475.5,274.4 474.9,277 C474.3,279.6 473.6,282.2 473,284.8 C472.3,287.4 471.6,290 471,292.6 C470.3,295.2 469.6,297.7 468.9,300.3 C468.2,302.9 467.5,305.5 466.7,308.1 C466,310.7 465.3,313.2 464.5,315.8 C463.8,318.4 463.1,321 462.3,323.5 C461.6,326.1 460.8,328.7 460,331.3 C459.3,333.8 458.5,336.4 457.8,339 C457,341.6 456.2,344.1 455.5,346.7 C454.7,349.3 454,351.9 453.2,354.5 C452.4,357 451.7,359.6 450.9,362.2 C450.2,364.8 449.4,367.4 448.7,369.9 C448,372.5 447.2,375.1 446.5,377.7 C445.8,380.3 445.1,382.9 444.4,385.5 C443.7,388.1 443,390.7 442.3,393.3 C441.6,395.9 440.9,398.5 440.3,401.1 C439.6,403.8 439,406.4 438.4,409 C437.8,411.6 437.2,414.2 436.6,416.9 C436,419.5 435.5,422.1 435,424.7 C434.5,427.4 434,430 433.5,432.6 C433,435.3 432.6,437.9 432.2,440.6 C431.8,443.2 431.5,445.8 431.1,448.5 C430.8,451.1 430.5,453.8 430.3,456.4 C430,459.1 429.8,461.7 429.7,464.4 C429.5,467 429.4,469.7 429.3,472.3 C429.2,475 429.2,477.6 429.3,480.3 C429.3,482.9 429.4,485.6 429.5,488.3 C429.6,490.9 429.8,493.6 430,496.2 C430.2,498.9 430.4,501.6 430.7,504.2 C430.9,506.9 431.3,509.5 431.6,512.2 C431.9,514.8 432.3,517.5 432.7,520.2 C433.1,522.8 433.5,525.5 434,528.1 C434.4,530.8 434.9,533.4 435.4,536.1 C435.8,538.7 436.3,541.4 436.9,544 C437.4,546.6 437.9,549.3 438.5,551.9 C439,554.6 439.6,557.2 440.1,559.8 C440.7,562.5 441.2,565.1 441.8,567.7 C442.4,570.4 443,573 443.5,575.6 C444.1,578.2 444.7,580.8 445.3,583.5 C445.9,586.1 446.5,588.7 447.1,591.3 C447.7,593.9 448.3,596.5 448.9,599.2 C449.5,601.8 450.1,604.4 450.8,607 C451.4,609.6 452,612.2 452.6,614.8 C453.2,617.4 453.8,620 454.4,622.6 C455.1,625.2 455.7,627.9 456.3,630.5 C456.9,633.1 457.5,635.7 458.1,638.3 C458.7,640.9 459.3,643.5 459.9,646.1 C460.5,648.7 461.1,651.3 461.7,654 C462.3,656.6 462.9,659.2 463.5,661.8 C464.1,664.4 464.6,667 465.2,669.6 C465.8,672.3 466.3,674.9 466.9,677.5 C467.4,680.1 468,682.7 468.5,685.4 C469.1,688 469.6,690.6 470.2,693.2 C470.7,695.9 471.2,698.5 471.7,701.1 C472.3,703.7 472.8,706.4 473.3,709 C473.8,711.6 474.3,714.3 474.8,716.9 C475.3,719.5 475.8,722.2 476.2,724.8 C476.7,727.4 477.2,730.1 477.7,732.7 C478.1,735.4 478.6,738 479,740.6 C479.5,743.3 479.9,745.9 480.4,748.6 C480.8,751.2 481.2,753.9 481.6,756.5 C482.1,759.1 482.5,761.8 482.9,764.4 C483.3,767.1 483.7,769.7 484.1,772.4 C484.5,775 484.8,777.7 485.2,780.4 C485.6,783 485.9,785.7 486.3,788.3 C486.6,791 487,793.6 487.3,796.3 C487.7,799 488,801.6 488.3,804.3 C488.6,806.9 488.9,809.6 489.2,812.3 C489.5,814.9 489.8,817.6 490.1,820.3 C490.4,822.9 490.7,825.6 490.9,828.3 C491.2,830.9 491.4,833.6 491.7,836.3 C491.9,838.9 492.2,841.6 492.4,844.3 C492.6,847 492.9,851 493,852.3 L511.7,852.3 C511.7,851 511.8,847 511.8,844.3 C511.9,841.6 511.9,839 512,836.3 C512,833.6 512,831 512.1,828.3 C512.1,825.6 512.2,823 512.2,820.3 C512.2,817.6 512.3,815 512.3,812.3 C512.3,809.6 512.4,807 512.4,804.3 C512.4,801.6 512.5,799 512.5,796.3 C512.5,793.6 512.6,791 512.6,788.3 C512.7,785.6 512.7,783 512.7,780.3 C512.8,777.6 512.8,775 512.9,772.3 C512.9,769.6 512.9,767 513,764.3 C513,761.6 513.1,758.9 513.1,756.3 C513.2,753.6 513.2,750.9 513.3,748.3 C513.3,745.6 513.4,742.9 513.4,740.3 C513.5,737.6 513.5,734.9 513.6,732.3 C513.6,729.6 513.7,726.9 513.7,724.3 C513.8,721.6 513.9,718.9 513.9,716.3 C514,713.6 514.1,710.9 514.1,708.3 C514.2,705.6 514.3,702.9 514.4,700.2 C514.4,697.6 514.5,694.9 514.6,692.2 C514.7,689.6 514.8,686.9 514.9,684.2 C515,681.6 515.1,678.9 515.2,676.2 C515.3,673.6 515.4,670.9 515.5,668.2 C515.6,665.6 515.7,662.9 515.8,660.3 C515.9,657.6 516,654.9 516.2,652.3 C516.3,649.6 516.4,646.9 516.5,644.3 C516.7,641.6 516.8,638.9 516.9,636.3 C517.1,633.6 517.2,630.9 517.4,628.3 C517.5,625.6 517.7,623 517.8,620.3 C518,617.6 518.2,615 518.3,612.3 C518.5,609.7 518.6,607 518.8,604.3 C519,601.7 519.2,599 519.3,596.3 C519.5,593.7 519.7,591 519.9,588.4 C520.1,585.7 520.3,583 520.4,580.4 C520.6,577.7 520.8,575.1 521,572.4 C521.2,569.7 521.4,567.1 521.6,564.4 C521.8,561.8 522,559.1 522.2,556.4 C522.4,553.8 522.6,551.1 522.8,548.5 C523.1,545.8 523.3,543.2 523.5,540.5 C523.7,537.8 523.9,535.2 524.1,532.5 C524.3,529.9 524.6,527.2 524.8,524.5 C525,521.9 525.2,519.2 525.4,516.6 C525.7,513.9 525.9,511.3 526.1,508.6 C526.3,505.9 526.6,503.3 526.8,500.6 C527,498 527.3,495.3 527.5,492.6 C527.7,490 528,487.3 528.2,484.7 C528.4,482 528.6,479.4 528.9,476.7 C529.1,474 529.3,471.4 529.6,468.7 C529.8,466.1 530,463.4 530.3,460.7 C530.5,458.1 530.7,455.4 531,452.8 C531.2,450.1 531.4,447.4 531.7,444.8 C531.9,442.1 532.1,439.5 532.4,436.8 C532.6,434.1 532.8,431.5 533,428.8 C533.3,426.2 533.5,423.5 533.7,420.8 C533.9,418.2 534.1,415.5 534.3,412.9 C534.6,410.2 534.8,407.5 535,404.9 C535.2,402.2 535.3,399.6 535.5,396.9 C535.7,394.2 535.9,391.6 536.1,388.9 C536.2,386.3 536.4,383.6 536.5,380.9 C536.7,378.3 536.8,375.6 537,373 C537.1,370.3 537.2,367.6 537.3,365 C537.4,362.3 537.5,359.6 537.6,357 C537.7,354.3 537.8,351.7 537.8,349 C537.9,346.3 538,343.7 538,341 C538,338.3 538.1,335.7 538.1,333 C538.1,330.3 538.1,327.7 538,325 C538,322.4 538,319.7 537.9,317 C537.8,314.4 537.8,311.7 537.7,309 C537.6,306.4 537.5,303.7 537.4,301 C537.3,298.4 537.1,295.7 537,293.1 C536.9,290.4 536.7,287.7 536.5,285.1 C536.4,282.4 536.2,279.7 536,277.1 C535.9,274.4 535.7,271.7 535.5,269.1 C535.3,266.4 535.1,263.8 534.9,261.1 C534.7,258.4 534.5,255.8 534.2,253.1 C534,250.5 533.8,247.8 533.6,245.1 C533.3,242.5 533.1,239.8 532.9,237.1 C532.6,234.5 532.4,231.8 532.2,229.2 C531.9,226.5 531.7,223.9 531.4,221.2 C531.2,218.5 530.9,215.9 530.7,213.2 C530.5,210.6 530.2,207.9 530,205.2 C529.7,202.6 529.5,199.9 529.2,197.3 C529,194.6 528.7,192 528.5,189.3 C528.2,186.6 528,184 527.7,181.3 C527.5,178.7 527.2,176 527,173.4 C526.7,170.7 526.5,168 526.2,165.4 C526,162.7 525.8,160.1 525.5,157.4 C525.3,154.8 525,152.1 524.8,149.4 C524.6,146.8 524.4,144.1 524.1,141.5 C523.9,138.8 523.7,136.1 523.5,133.5 C523.3,130.8 523.1,128.2 522.9,125.5 C522.7,122.8 522.5,120.2 522.3,117.5 C522.1,114.9 521.9,112.2 521.7,109.5 C521.5,106.9 521.4,104.2 521.2,101.6 C521,98.9 520.9,96.2 520.7,93.6 C520.6,90.9 520.4,88.3 520.3,85.6 C520.2,82.9 520.1,80.3 519.9,77.6 C519.8,74.9 519.7,72.3 519.6,69.6 C519.5,66.9 519.4,64.3 519.4,61.6 C519.3,58.9 519.2,54.9 519.2,53.6 Z" fill="#fff" stroke="none"/>
</g>
<path d="M115.9,62.6 v17.2 M115.9,843.3 v-17.2 M142.1,62.6 v8.8 M142.1,843.3 v-8.8 M168.3,62.6 v8.8 M168.3,843.3 v-8.8 M194.5,62.6 v8.8 M194.5,843.3 v-8.8 M220.7,62.6 v8.8 M220.7,843.3 v-8.8 M246.9,62.6 v17.2 M246.9,843.3 v-17.2 M273.1,62.6 v8.8 M273.1,843.3 v-8.8 M299.3,62.6 v8.8 M299.3,843.3 v-8.8 M325.5,62.6 v8.8 M325.5,843.3 v-8.8 M351.7,62.6 v8.8 M351.7,843.3 v-8.8 M377.9,62.6 v17.2 M377.9,843.3 v-17.2 M404.1,62.6 v8.8 M404.1,843.3 v-8.8 M430.3,62.6 v8.8 M430.3,843.3 v-8.8 M456.5,62.6 v8.8 M456.5,843.3 v-8.8 M482.7,62.6 v8.8 M482.7,843.3 v-8.8 M509,62.6 v17.2 M509,843.3 v-17.2 M535.2,62.6 v8.8 M535.2,843.3 v-8.8 M561.4,62.6 v8.8 M561.4,843.3 v-8.8 M587.6,62.6 v8.8 M587.6,843.3 v-8.8 M613.8,62.6 v8.8 M613.8,843.3 v-8.8 M640,62.6 v17.2 M640,843.3 v-17.2 M666.2,62.6 v8.8 M666.2,843.3 v-8.8 M692.4,62.6 v8.8 M692.4,843.3 v-8.8 M718.6,62.6 v8.8 M718.6,843.3 v-8.8 M744.8,62.6 v8.8 M744.8,843.3 v-8.8 M771,62.6 v17.2 M771,843.3 v-17.2 M797.2,62.6 v8.8 M797.2,843.3 v-8.8 M823.4,62.6 v8.8 M823.4,843.3 v-8.8 M849.6,62.6 v8.8 M849.6,843.3 v-8.8 M875.8,62.6 v8.8 M875.8,843.3 v-8.8 M902,62.6 v17.2 M902,843.3 v-17.2 M115.9,843.3 h17.2 M902,843.3 h-17.2 M115.9,725.8 h8.8 M902,725.8 h-8.8 M115.9,657.1 h8.8 M902,657.1 h-8.8 M115.9,608.3 h8.8 M902,608.3 h-8.8 M115.9,570.5 h8.8 M902,570.5 h-8.8 M115.9,539.5 h8.8 M902,539.5 h-8.8 M115.9,513.4 h8.8 M902,513.4 h-8.8 M115.9,490.8 h8.8 M902,490.8 h-8.8 M115.9,470.8 h8.8 M902,470.8 h-8.8 M115.9,452.9 h17.2 M902,452.9 h-17.2 M115.9,335.4 h8.8 M902,335.4 h-8.8 M115.9,266.7 h8.8 M902,266.7 h-8.8 M115.9,217.9 h8.8 M902,217.9 h-8.8 M115.9,180.1 h8.8 M902,180.1 h-8.8 M115.9,149.2 h8.8 M902,149.2 h-8.8 M115.9,123.1 h8.8 M902,123.1 h-8.8 M115.9,100.4 h8.8 M902,100.4 h-8.8 M115.9,80.5 h8.8 M902,80.5 h-8.8 M115.9,62.6 h17.2 M902,62.6 h-17.2" fill="none" stroke="#000" stroke-width="1.4"/>
<g clip-path="url(#clip3)">
<path d="M495.4,53.5 C495.2,54.9 494.9,58.9 494.7,61.6 C494.4,64.3 494.2,67 493.9,69.7 C493.7,72.4 493.4,75 493.2,77.7 C492.9,80.4 492.6,83.1 492.4,85.8 C492.1,88.5 491.8,91.1 491.5,93.8 C491.2,96.5 490.9,99.2 490.6,101.8 C490.3,104.5 490,107.2 489.7,109.9 C489.4,112.5 489.1,115.2 488.7,117.9 C488.4,120.5 488.1,123.2 487.7,125.9 C487.4,128.5 487.1,131.2 486.7,133.9 C486.4,136.5 486,139.2 485.6,141.9 C485.3,144.5 484.9,147.2 484.5,149.8 C484.2,152.5 483.8,155.1 483.4,157.8 C483,160.5 482.6,163.1 482.2,165.8 C481.8,168.4 481.4,171.1 481,173.7 C480.6,176.4 480.2,179 479.8,181.7 C479.4,184.4 478.9,187 478.5,189.7 C478.1,192.3 477.6,195 477.2,197.6 C476.8,200.3 476.3,202.9 475.9,205.6 C475.4,208.2 475,210.8 474.5,213.5 C474,216.1 473.6,218.8 473.1,221.4 C472.6,224.1 472.1,226.7 471.7,229.4 C471.2,232 470.7,234.7 470.2,237.3 C469.7,240 469.2,242.6 468.7,245.2 C468.2,247.9 467.7,250.5 467.2,253.2 C466.7,255.8 466.2,258.5 465.6,261.1 C465.1,263.8 464.6,266.4 464.1,269 C463.5,271.7 463,274.3 462.5,277 C461.9,279.6 461.4,282.3 460.9,284.9 C460.3,287.6 459.8,290.2 459.3,292.9 C458.7,295.5 458.2,298.1 457.7,300.8 C457.2,303.4 456.6,306.1 456.1,308.7 C455.6,311.4 455.1,314 454.6,316.7 C454.1,319.3 453.6,322 453.2,324.6 C452.7,327.3 452.2,329.9 451.8,332.6 C451.3,335.2 450.9,337.9 450.4,340.6 C450,343.2 449.6,345.9 449.2,348.5 C448.8,351.2 448.4,353.8 448.1,356.5 C447.7,359.2 447.3,361.8 447,364.5 C446.7,367.2 446.4,369.8 446.1,372.5 C445.8,375.2 445.6,377.8 445.3,380.5 C445.1,383.2 444.9,385.8 444.7,388.5 C444.5,391.2 444.3,393.9 444.2,396.6 C444.1,399.2 443.9,401.9 443.9,404.6 C443.8,407.3 443.7,410 443.7,412.6 C443.6,415.3 443.6,418 443.6,420.7 C443.6,423.4 443.7,426.1 443.7,428.7 C443.8,431.4 443.9,434.1 444,436.8 C444.1,439.5 444.2,442.2 444.4,444.8 C444.5,447.5 444.7,450.2 444.9,452.9 C445.1,455.6 445.3,458.2 445.5,460.9 C445.8,463.6 446,466.3 446.3,468.9 C446.6,471.6 446.9,474.3 447.2,476.9 C447.6,479.6 447.9,482.3 448.3,484.9 C448.6,487.6 449,490.3 449.4,492.9 C449.8,495.6 450.2,498.2 450.6,500.9 C451,503.6 451.5,506.2 451.9,508.9 C452.4,511.5 452.8,514.2 453.3,516.8 C453.8,519.5 454.3,522.1 454.8,524.8 C455.2,527.4 455.7,530.1 456.2,532.7 C456.8,535.4 457.3,538 457.8,540.7 C458.3,543.3 458.8,546 459.4,548.6 C459.9,551.2 460.4,553.9 461,556.5 C461.5,559.2 462,561.8 462.6,564.5 C463.1,567.1 463.6,569.7 464.2,572.4 C464.7,575 465.2,577.7 465.8,580.3 C466.3,583 466.8,585.6 467.3,588.2 C467.8,590.9 468.4,593.5 468.9,596.2 C469.4,598.8 469.9,601.5 470.4,604.1 C470.9,606.7 471.4,609.4 471.9,612 C472.4,614.7 472.9,617.3 473.3,620 C473.8,622.6 474.3,625.3 474.7,627.9 C475.2,630.6 475.7,633.2 476.1,635.8 C476.6,638.5 477,641.1 477.5,643.8 C477.9,646.4 478.4,649.1 478.8,651.7 C479.2,654.4 479.7,657 480.1,659.7 C480.5,662.4 480.9,665 481.3,667.7 C481.7,670.3 482.1,673 482.5,675.6 C482.9,678.3 483.3,681 483.7,683.6 C484.1,686.3 484.5,688.9 484.8,691.6 C485.2,694.3 485.6,696.9 485.9,699.6 C486.3,702.3 486.6,704.9 487,707.6 C487.3,710.3 487.7,712.9 488,715.6 C488.3,718.3 488.6,720.9 489,723.6 C489.3,726.3 489.6,728.9 489.9,731.6 C490.2,734.3 490.5,737 490.8,739.6 C491.1,742.3 491.4,745 491.6,747.7 C491.9,750.3 492.2,753 492.5,755.7 C492.7,758.4 493,761 493.2,763.7 C493.5,766.4 493.7,769.1 494,771.8 C494.2,774.4 494.4,777.1 494.7,779.8 C494.9,782.5 495.1,785.2 495.3,787.8 C495.5,790.5 495.7,793.2 495.9,795.9 C496.1,798.6 496.3,801.3 496.5,803.9 C496.7,806.6 496.8,809.3 497,812 C497.2,814.7 497.3,817.4 497.5,820.1 C497.6,822.7 497.8,825.4 497.9,828.1 C498.1,830.8 498.2,833.5 498.3,836.2 C498.4,838.9 498.6,841.6 498.7,844.2 C498.8,846.9 498.9,851 499,852.3" fill="none" stroke="#000" stroke-width="3.75" stroke-dasharray="13.05 5.6" stroke-dashoffset="16.33"/>
<path d="M521.3,53.6 C521.4,54.9 521.8,58.9 522,61.6 C522.3,64.3 522.5,67 522.8,69.7 C523,72.4 523.3,75.1 523.5,77.8 C523.8,80.5 524,83.1 524.3,85.8 C524.5,88.5 524.8,91.2 525.1,93.9 C525.4,96.6 525.6,99.2 525.9,101.9 C526.2,104.6 526.5,107.3 526.8,110 C527,112.6 527.3,115.3 527.6,118 C527.9,120.7 528.2,123.3 528.5,126 C528.9,128.7 529.2,131.3 529.5,134 C529.8,136.7 530.1,139.4 530.5,142 C530.8,144.7 531.1,147.4 531.5,150 C531.8,152.7 532.2,155.4 532.5,158 C532.9,160.7 533.2,163.3 533.6,166 C533.9,168.7 534.3,171.3 534.7,174 C535.1,176.7 535.5,179.3 535.9,182 C536.2,184.6 536.6,187.3 537.1,189.9 C537.5,192.6 537.9,195.3 538.3,197.9 C538.7,200.6 539.1,203.2 539.6,205.9 C540,208.5 540.5,211.2 540.9,213.8 C541.4,216.5 541.8,219.1 542.3,221.8 C542.7,224.4 543.2,227.1 543.7,229.7 C544.2,232.4 544.7,235 545.2,237.7 C545.7,240.3 546.2,242.9 546.7,245.6 C547.2,248.2 547.8,250.9 548.3,253.5 C548.8,256.2 549.4,258.8 549.9,261.4 C550.5,264.1 551,266.7 551.6,269.4 C552.2,272 552.8,274.6 553.3,277.3 C553.9,279.9 554.5,282.6 555.1,285.2 C555.7,287.8 556.3,290.5 556.9,293.1 C557.5,295.7 558.1,298.4 558.7,301 C559.2,303.7 559.8,306.3 560.4,308.9 C561,311.6 561.6,314.2 562.2,316.8 C562.7,319.5 563.3,322.1 563.8,324.8 C564.4,327.4 565,330.1 565.5,332.7 C566,335.3 566.6,338 567.1,340.6 C567.6,343.3 568.1,345.9 568.6,348.6 C569,351.2 569.5,353.9 570,356.5 C570.4,359.2 570.8,361.8 571.2,364.5 C571.6,367.1 572,369.8 572.4,372.5 C572.8,375.1 573.1,377.8 573.4,380.5 C573.7,383.1 574,385.8 574.3,388.5 C574.6,391.1 574.8,393.8 575,396.5 C575.2,399.2 575.4,401.8 575.6,404.5 C575.7,407.2 575.8,409.9 575.9,412.5 C576,415.2 576.1,417.9 576.2,420.6 C576.2,423.3 576.2,426 576.2,428.6 C576.2,431.3 576.2,434 576.1,436.7 C576,439.4 575.9,442.1 575.8,444.7 C575.7,447.4 575.5,450.1 575.3,452.8 C575.1,455.4 574.9,458.1 574.7,460.8 C574.5,463.5 574.2,466.1 573.9,468.8 C573.6,471.5 573.3,474.2 573,476.8 C572.6,479.5 572.3,482.2 571.9,484.8 C571.5,487.5 571.2,490.2 570.7,492.8 C570.3,495.5 569.9,498.1 569.5,500.8 C569,503.5 568.6,506.1 568.1,508.8 C567.6,511.4 567.2,514.1 566.7,516.7 C566.2,519.4 565.7,522.1 565.2,524.7 C564.7,527.4 564.1,530 563.6,532.7 C563.1,535.3 562.6,538 562,540.6 C561.5,543.3 561,545.9 560.4,548.6 C559.9,551.2 559.4,553.9 558.8,556.5 C558.3,559.2 557.8,561.8 557.2,564.4 C556.7,567.1 556.2,569.7 555.6,572.4 C555.1,575 554.6,577.7 554,580.3 C553.5,582.9 553,585.6 552.5,588.2 C552,590.9 551.4,593.5 550.9,596.2 C550.4,598.8 549.9,601.4 549.4,604.1 C548.9,606.7 548.4,609.4 547.9,612 C547.4,614.6 546.9,617.3 546.4,619.9 C545.9,622.6 545.4,625.2 544.9,627.9 C544.4,630.5 544,633.2 543.5,635.8 C543,638.5 542.5,641.1 542.1,643.7 C541.6,646.4 541.2,649 540.7,651.7 C540.3,654.3 539.8,657 539.4,659.7 C538.9,662.3 538.5,665 538.1,667.6 C537.6,670.3 537.2,672.9 536.8,675.6 C536.4,678.2 536,680.9 535.6,683.6 C535.2,686.2 534.8,688.9 534.4,691.6 C534,694.2 533.6,696.9 533.3,699.5 C532.9,702.2 532.5,704.9 532.2,707.5 C531.8,710.2 531.5,712.9 531.1,715.5 C530.8,718.2 530.4,720.9 530.1,723.6 C529.7,726.2 529.4,728.9 529.1,731.6 C528.8,734.3 528.5,736.9 528.1,739.6 C527.8,742.3 527.5,745 527.2,747.6 C526.9,750.3 526.7,753 526.4,755.7 C526.1,758.3 525.8,761 525.5,763.7 C525.3,766.4 525,769.1 524.7,771.7 C524.5,774.4 524.2,777.1 524,779.8 C523.7,782.5 523.5,785.2 523.3,787.8 C523,790.5 522.8,793.2 522.6,795.9 C522.4,798.6 522.2,801.3 522,803.9 C521.7,806.6 521.5,809.3 521.4,812 C521.2,814.7 521,817.4 520.8,820.1 C520.6,822.7 520.4,825.4 520.3,828.1 C520.1,830.8 519.9,833.5 519.8,836.2 C519.6,838.9 519.5,841.6 519.3,844.2 C519.2,846.9 519,851 518.9,852.3" fill="none" stroke="#000" stroke-width="3.75" stroke-dasharray="13.05 5.6" stroke-dashoffset="6.66"/>
<path d="M772.9,56.7 C774.1,57.4 777.5,59.5 779.8,60.9 C782.1,62.2 784.4,63.6 786.7,65 C789,66.4 791.3,67.7 793.6,69.1 C795.9,70.5 798.2,71.8 800.5,73.2 C802.8,74.5 805.1,75.9 807.4,77.2 C809.8,78.6 812.1,79.9 814.4,81.2 C816.7,82.6 819,83.9 821.3,85.3 C823.7,86.6 826,87.9 828.3,89.2 C830.6,90.6 833,91.9 835.3,93.2 C837.6,94.5 839.9,95.9 842.3,97.2 C844.6,98.5 846.9,99.8 849.2,101.2 C851.6,102.5 853.9,103.8 856.2,105.1 C858.6,106.4 860.9,107.8 863.2,109.1 C865.5,110.4 867.9,111.7 870.2,113 C872.5,114.4 874.9,115.7 877.2,117 C879.5,118.3 881.8,119.7 884.2,121 C886.5,122.3 888.8,123.6 891.1,125 C893.4,126.3 895.8,127.6 898.1,129 C900.4,130.3 902.7,131.7 905,133 C907.3,134.4 910.8,136.4 912,137.1" fill="none" stroke="#000" stroke-width="3.75" stroke-dasharray="13.05 5.6"/>
<path d="M746,53 C747.1,53.8 750.4,56.4 752.6,58.1 C754.8,59.8 757,61.4 759.3,63.1 C761.5,64.7 763.8,66.4 766,68 C768.3,69.6 770.6,71.2 772.8,72.8 C775.1,74.4 777.4,75.9 779.7,77.5 C782,79 784.3,80.5 786.7,82.1 C789,83.6 791.3,85.1 793.7,86.6 C796,88.1 798.4,89.5 800.7,91 C803.1,92.4 805.5,93.9 807.9,95.3 C810.3,96.7 812.6,98.1 815,99.5 C817.4,100.9 819.9,102.3 822.3,103.7 C824.7,105.1 827.1,106.4 829.5,107.8 C832,109.1 834.4,110.4 836.9,111.8 C839.3,113.1 841.8,114.4 844.2,115.7 C846.7,117 849.2,118.3 851.6,119.5 C854.1,120.8 856.6,122 859.1,123.3 C861.6,124.5 864.1,125.8 866.6,127 C869,128.2 871.6,129.4 874.1,130.6 C876.6,131.8 879.1,133 881.6,134.2 C884.1,135.4 886.6,136.5 889.2,137.7 C891.7,138.8 894.2,140 896.7,141.1 C899.3,142.2 901.8,143.4 904.4,144.5 C906.9,145.6 910.7,147.3 912,147.8" fill="none" stroke="#000" stroke-width="3.75" stroke-dasharray="13.05 5.6"/>
<path d="M500.5,53.7 C500.4,55 500,59 499.8,61.6 C499.6,64.3 499.3,66.9 499.1,69.6 C498.9,72.3 498.7,74.9 498.5,77.6 C498.3,80.3 498.1,82.9 497.9,85.6 C497.7,88.3 497.5,90.9 497.3,93.6 C497.1,96.3 496.9,98.9 496.7,101.6 C496.5,104.3 496.4,107 496.2,109.6 C496,112.3 495.8,115 495.6,117.7 C495.4,120.3 495.2,123 495,125.7 C494.8,128.4 494.6,131.1 494.4,133.7 C494.2,136.4 494,139.1 493.8,141.8 C493.6,144.5 493.4,147.1 493.2,149.8 C493,152.5 492.8,155.2 492.6,157.9 C492.3,160.5 492.1,163.2 491.9,165.9 C491.6,168.6 491.4,171.3 491.1,173.9 C490.9,176.6 490.6,179.3 490.3,181.9 C490.1,184.6 489.8,187.3 489.5,190 C489.2,192.6 488.9,195.3 488.6,198 C488.3,200.6 488,203.3 487.6,206 C487.3,208.6 486.9,211.3 486.6,213.9 C486.2,216.6 485.9,219.2 485.5,221.9 C485.1,224.5 484.7,227.2 484.3,229.8 C483.8,232.5 483.4,235.1 483,237.7 C482.5,240.4 482,243 481.6,245.7 C481.1,248.3 480.6,250.9 480.1,253.5 C479.5,256.2 479,258.8 478.5,261.4 C477.9,264 477.3,266.6 476.7,269.2 C476.1,271.8 475.5,274.4 474.9,277 C474.3,279.6 473.6,282.2 473,284.8 C472.3,287.4 471.6,290 471,292.6 C470.3,295.2 469.6,297.7 468.9,300.3 C468.2,302.9 467.5,305.5 466.7,308.1 C466,310.7 465.3,313.2 464.5,315.8 C463.8,318.4 463.1,321 462.3,323.5 C461.6,326.1 460.8,328.7 460,331.3 C459.3,333.8 458.5,336.4 457.8,339 C457,341.6 456.2,344.1 455.5,346.7 C454.7,349.3 454,351.9 453.2,354.5 C452.4,357 451.7,359.6 450.9,362.2 C450.2,364.8 449.4,367.4 448.7,369.9 C448,372.5 447.2,375.1 446.5,377.7 C445.8,380.3 445.1,382.9 444.4,385.5 C443.7,388.1 443,390.7 442.3,393.3 C441.6,395.9 440.9,398.5 440.3,401.1 C439.6,403.8 439,406.4 438.4,409 C437.8,411.6 437.2,414.2 436.6,416.9 C436,419.5 435.5,422.1 435,424.7 C434.5,427.4 434,430 433.5,432.6 C433,435.3 432.6,437.9 432.2,440.6 C431.8,443.2 431.5,445.8 431.1,448.5 C430.8,451.1 430.5,453.8 430.3,456.4 C430,459.1 429.8,461.7 429.7,464.4 C429.5,467 429.4,469.7 429.3,472.3 C429.2,475 429.2,477.6 429.3,480.3 C429.3,482.9 429.4,485.6 429.5,488.3 C429.6,490.9 429.8,493.6 430,496.2 C430.2,498.9 430.4,501.6 430.7,504.2 C430.9,506.9 431.3,509.5 431.6,512.2 C431.9,514.8 432.3,517.5 432.7,520.2 C433.1,522.8 433.5,525.5 434,528.1 C434.4,530.8 434.9,533.4 435.4,536.1 C435.8,538.7 436.3,541.4 436.9,544 C437.4,546.6 437.9,549.3 438.5,551.9 C439,554.6 439.6,557.2 440.1,559.8 C440.7,562.5 441.2,565.1 441.8,567.7 C442.4,570.4 443,573 443.5,575.6 C444.1,578.2 444.7,580.8 445.3,583.5 C445.9,586.1 446.5,588.7 447.1,591.3 C447.7,593.9 448.3,596.5 448.9,599.2 C449.5,601.8 450.1,604.4 450.8,607 C451.4,609.6 452,612.2 452.6,614.8 C453.2,617.4 453.8,620 454.4,622.6 C455.1,625.2 455.7,627.9 456.3,630.5 C456.9,633.1 457.5,635.7 458.1,638.3 C458.7,640.9 459.3,643.5 459.9,646.1 C460.5,648.7 461.1,651.3 461.7,654 C462.3,656.6 462.9,659.2 463.5,661.8 C464.1,664.4 464.6,667 465.2,669.6 C465.8,672.3 466.3,674.9 466.9,677.5 C467.4,680.1 468,682.7 468.5,685.4 C469.1,688 469.6,690.6 470.2,693.2 C470.7,695.9 471.2,698.5 471.7,701.1 C472.3,703.7 472.8,706.4 473.3,709 C473.8,711.6 474.3,714.3 474.8,716.9 C475.3,719.5 475.8,722.2 476.2,724.8 C476.7,727.4 477.2,730.1 477.7,732.7 C478.1,735.4 478.6,738 479,740.6 C479.5,743.3 479.9,745.9 480.4,748.6 C480.8,751.2 481.2,753.9 481.6,756.5 C482.1,759.1 482.5,761.8 482.9,764.4 C483.3,767.1 483.7,769.7 484.1,772.4 C484.5,775 484.8,777.7 485.2,780.4 C485.6,783 485.9,785.7 486.3,788.3 C486.6,791 487,793.6 487.3,796.3 C487.7,799 488,801.6 488.3,804.3 C488.6,806.9 488.9,809.6 489.2,812.3 C489.5,814.9 489.8,817.6 490.1,820.3 C490.4,822.9 490.7,825.6 490.9,828.3 C491.2,830.9 491.4,833.6 491.7,836.3 C491.9,838.9 492.2,841.6 492.4,844.3 C492.6,847 492.9,851 493,852.3" fill="none" stroke="#000" stroke-width="3.75" stroke-linejoin="round"/>
<path d="M519.2,53.6 C519.2,54.9 519.3,58.9 519.3,61.6 C519.4,64.3 519.5,66.9 519.6,69.6 C519.7,72.3 519.8,74.9 519.9,77.6 C520,80.3 520.1,82.9 520.3,85.6 C520.4,88.2 520.5,90.9 520.7,93.6 C520.8,96.2 521,98.9 521.1,101.6 C521.3,104.2 521.5,106.9 521.7,109.5 C521.8,112.2 522,114.9 522.2,117.5 C522.4,120.2 522.6,122.8 522.8,125.5 C523,128.2 523.2,130.8 523.5,133.5 C523.7,136.1 523.9,138.8 524.1,141.5 C524.4,144.1 524.6,146.8 524.8,149.4 C525.1,152.1 525.3,154.7 525.6,157.4 C525.8,160.1 526.1,162.7 526.3,165.4 C526.6,168 526.8,170.7 527.1,173.4 C527.3,176 527.6,178.7 527.9,181.3 C528.1,184 528.4,186.6 528.6,189.3 C528.9,192 529.1,194.6 529.4,197.3 C529.7,199.9 529.9,202.6 530.2,205.2 C530.4,207.9 530.7,210.6 530.9,213.2 C531.2,215.9 531.4,218.5 531.7,221.2 C531.9,223.9 532.2,226.5 532.4,229.2 C532.6,231.8 532.8,234.5 533.1,237.2 C533.3,239.8 533.5,242.5 533.7,245.1 C533.9,247.8 534.1,250.5 534.3,253.1 C534.5,255.8 534.7,258.4 534.9,261.1 C535.1,263.8 535.3,266.4 535.4,269.1 C535.6,271.7 535.7,274.4 535.9,277.1 C536,279.7 536.2,282.4 536.3,285.1 C536.4,287.7 536.5,290.4 536.7,293 C536.8,295.7 536.9,298.4 537,301 C537,303.7 537.1,306.4 537.2,309 C537.3,311.7 537.3,314.4 537.4,317 C537.4,319.7 537.5,322.3 537.5,325 C537.5,327.7 537.6,330.3 537.6,333 C537.6,335.7 537.6,338.3 537.6,341 C537.6,343.7 537.5,346.3 537.5,349 C537.5,351.7 537.4,354.3 537.4,357 C537.3,359.6 537.3,362.3 537.2,365 C537.1,367.6 537,370.3 536.9,373 C536.9,375.6 536.7,378.3 536.6,381 C536.5,383.6 536.4,386.3 536.2,388.9 C536.1,391.6 535.9,394.3 535.8,396.9 C535.6,399.6 535.5,402.2 535.3,404.9 C535.1,407.6 534.9,410.2 534.7,412.9 C534.5,415.5 534.3,418.2 534.1,420.9 C533.9,423.5 533.7,426.2 533.4,428.8 C533.2,431.5 533,434.2 532.7,436.8 C532.5,439.5 532.3,442.1 532,444.8 C531.8,447.5 531.5,450.1 531.3,452.8 C531,455.4 530.8,458.1 530.5,460.7 C530.3,463.4 530,466.1 529.8,468.7 C529.5,471.4 529.3,474 529,476.7 C528.8,479.3 528.5,482 528.3,484.7 C528,487.3 527.8,490 527.5,492.6 C527.3,495.3 527,497.9 526.8,500.6 C526.5,503.3 526.3,505.9 526,508.6 C525.8,511.2 525.6,513.9 525.3,516.6 C525.1,519.2 524.8,521.9 524.6,524.5 C524.4,527.2 524.1,529.8 523.9,532.5 C523.7,535.2 523.4,537.8 523.2,540.5 C523,543.1 522.8,545.8 522.5,548.4 C522.3,551.1 522.1,553.8 521.9,556.4 C521.7,559.1 521.5,561.7 521.3,564.4 C521.1,567.1 520.9,569.7 520.7,572.4 C520.5,575 520.3,577.7 520.1,580.4 C519.9,583 519.7,585.7 519.6,588.3 C519.4,591 519.2,593.7 519.1,596.3 C518.9,599 518.7,601.7 518.6,604.3 C518.4,607 518.3,609.6 518.1,612.3 C518,615 517.9,617.6 517.7,620.3 C517.6,623 517.5,625.6 517.3,628.3 C517.2,631 517.1,633.6 517,636.3 C516.8,638.9 516.7,641.6 516.6,644.3 C516.5,646.9 516.4,649.6 516.3,652.3 C516.2,654.9 516,657.6 515.9,660.3 C515.8,662.9 515.7,665.6 515.6,668.3 C515.5,670.9 515.4,673.6 515.3,676.3 C515.3,678.9 515.2,681.6 515.1,684.3 C515,686.9 514.9,689.6 514.8,692.3 C514.7,694.9 514.6,697.6 514.5,700.3 C514.5,702.9 514.4,705.6 514.3,708.3 C514.2,710.9 514.1,713.6 514.1,716.3 C514,718.9 513.9,721.6 513.9,724.3 C513.8,726.9 513.7,729.6 513.7,732.3 C513.6,734.9 513.5,737.6 513.5,740.3 C513.4,742.9 513.3,745.6 513.3,748.3 C513.2,750.9 513.2,753.6 513.1,756.3 C513,758.9 513,761.6 512.9,764.3 C512.9,766.9 512.8,769.6 512.8,772.3 C512.7,774.9 512.7,777.6 512.6,780.3 C512.6,783 512.6,785.6 512.5,788.3 C512.5,791 512.4,793.6 512.4,796.3 C512.4,799 512.3,801.6 512.3,804.3 C512.2,807 512.2,809.6 512.2,812.3 C512.1,815 512.1,817.6 512.1,820.3 C512.1,823 512,825.6 512,828.3 C512,831 511.9,833.6 511.9,836.3 C511.9,839 511.9,841.6 511.8,844.3 C511.8,847 511.8,851 511.8,852.3" fill="none" stroke="#000" stroke-width="3.75" stroke-linejoin="round"/>
<path d="M823.0,86.7 L825.0,89.3 L828.4,89.4 L830.4,92.1 L833.7,92.2 L835.7,95.0 L839.0,95.2 L841.0,97.9 L844.3,98.1 L846.4,100.6 L849.7,100.8 L851.8,103.3 L855.2,103.5 L857.0,106.4 L860.5,106.4 L862.5,109.0 L865.9,109.0 L867.7,112.1 L871.3,111.8 L873.2,114.6 L876.7,114.4 L878.7,117.3 L882.1,117.3" fill="none" stroke="#000" stroke-width="3.4" stroke-linejoin="round" stroke-linecap="round"/>
<path d="M509,843.3 V62.6" fill="none" stroke="#f00" stroke-width="3" stroke-dasharray="10.43 4.5"/>
</g>
<rect x="588.3" y="650.8" width="299.8" height="178.4" fill="#fff" stroke="#000" stroke-width="1.4"/>
<path d="M600.6,675.8 H646.6" stroke="#000" stroke-width="3.75"/>
<text x="667.2" y="685.8" font-size="28.3" text-anchor="start">Obs. 95% CL</text>
<rect x="601.9" y="706.5" width="43" height="20.2" fill="#d3d3d3"/>
<text x="667.2" y="726.7" font-size="28.3" text-anchor="start">Excluded region</text>
<path d="M601.9,757.6 H645.3" stroke="#000" stroke-width="3.75" stroke-dasharray="13.05 5.6"/>
<text x="667.2" y="767.6" font-size="28.3" text-anchor="start">Exp. 95% CL</text>
<path d="M601.9,798.5 H645.3" stroke="#f00" stroke-width="3" stroke-dasharray="10.43 4.5"/>
<text x="667.2" y="808.5" font-size="28.3" text-anchor="start">SM-like coupling</text>
<rect x="115.9" y="62.6" width="786.1" height="780.7" fill="none" stroke="#000" stroke-width="3.3"/>
<text x="115.9" y="873.9" font-size="30.9" text-anchor="middle">-0.3</text>
<text x="246.9" y="873.9" font-size="30.9" text-anchor="middle">-0.2</text>
<text x="377.9" y="873.9" font-size="30.9" text-anchor="middle">-0.1</text>
<text x="509" y="873.9" font-size="30.9" text-anchor="middle">0.0</text>
<text x="640" y="873.9" font-size="30.9" text-anchor="middle">0.1</text>
<text x="771" y="873.9" font-size="30.9" text-anchor="middle">0.2</text>
<text x="902" y="873.9" font-size="30.9" text-anchor="middle">0.3</text>
<text x="49.8" y="853.8" font-size="30.9" text-anchor="start">10</text>
<text x="84.6" y="842.8" font-size="21.6" text-anchor="start">−1</text>
<text x="62.9" y="463.4" font-size="30.9" text-anchor="start">10</text>
<text x="97" y="452.4" font-size="21.6" text-anchor="start">0</text>
<text x="62.9" y="73.1" font-size="30.9" text-anchor="start">10</text>
<text x="97" y="62.1" font-size="21.6" text-anchor="start">1</text>
<text x="750.6" y="911.6" font-size="34.3">cos(β</text><text x="839.9" y="912.4" font-size="31">−</text><text x="865.6" y="911.6" font-size="34.8" class="b" style="font-family:'DejaVu Sans','Liberation Sans',sans-serif">α</text><text x="901.6" y="911.6" font-size="34.3" text-anchor="end">)</text>
<text transform="translate(35.7,133.2) rotate(-90)" font-size="34.3">tan<tspan dx="4.2">β</tspan></text>
<text transform="translate(116.9,51) scale(0.936,1)" font-size="59.3" font-weight="bold" style="stroke-width:0.7px">CMS</text>
<text x="590" y="48" font-size="40" text-anchor="start">138 fb</text>
<text x="701.2" y="33.7" font-size="28" text-anchor="start">−1</text>
<text x="901.6" y="48" font-size="40" text-anchor="end">(13 TeV)</text>
<text x="139" y="764.6" font-size="31.1" text-anchor="start">2HDM Flipped</text>
<text x="138.6" y="804.4" font-size="31.4" text-anchor="start">m</text>
<text x="165.6" y="808.3" font-size="22.8" text-anchor="start">H</text>
<text x="382.4" y="804.4" font-size="30.9" text-anchor="end">= 125.38 GeV</text>
</g>
<g transform="translate(453.5,1870.6)">
<clipPath id="clip4"><rect x="115.9" y="62.6" width="786.1" height="780.7"/></clipPath>
<rect x="115.9" y="62.6" width="786.1" height="780.7" fill="#d3d3d3"/>
<g clip-path="url(#clip4)">
<path d="M624.3,53 C624.3,54.4 624.3,58.4 624.3,61.1 C624.4,63.8 624.4,66.5 624.4,69.1 C624.4,71.8 624.4,74.5 624.5,77.2 C624.5,79.9 624.5,82.6 624.5,85.3 C624.5,88 624.5,90.7 624.6,93.4 C624.6,96 624.6,98.7 624.6,101.4 C624.6,104.1 624.6,106.8 624.6,109.5 C624.6,112.2 624.6,114.9 624.7,117.6 C624.7,120.3 624.7,123 624.7,125.6 C624.7,128.3 624.7,131 624.7,133.7 C624.7,136.4 624.7,139.1 624.7,141.8 C624.7,144.5 624.7,147.2 624.7,149.9 C624.7,152.6 624.7,155.3 624.7,157.9 C624.7,160.6 624.7,163.3 624.7,166 C624.7,168.7 624.7,171.4 624.7,174.1 C624.7,176.8 624.7,179.5 624.7,182.2 C624.7,184.9 624.7,187.6 624.7,190.2 C624.7,192.9 624.7,195.6 624.6,198.3 C624.6,201 624.6,203.7 624.6,206.4 C624.6,209.1 624.6,211.8 624.6,214.5 C624.6,217.2 624.5,219.9 624.5,222.5 C624.5,225.2 624.5,227.9 624.5,230.6 C624.5,233.3 624.4,236 624.4,238.7 C624.4,241.4 624.4,244.1 624.4,246.8 C624.3,249.5 624.3,252.2 624.3,254.8 C624.3,257.5 624.3,260.2 624.2,262.9 C624.2,265.6 624.2,268.3 624.1,271 C624.1,273.7 624.1,276.4 624.1,279.1 C624,281.8 624,284.5 624,287.1 C623.9,289.8 623.9,292.5 623.9,295.2 C623.8,297.9 623.8,300.6 623.8,303.3 C623.7,306 623.7,308.7 623.7,311.4 C623.6,314.1 623.6,316.8 623.6,319.4 C623.5,322.1 623.5,324.8 623.4,327.5 C623.4,330.2 623.4,332.9 623.3,335.6 C623.3,338.3 623.2,341 623.2,343.7 C623.1,346.3 623.1,349 623,351.7 C623,354.4 623,357.1 622.9,359.8 C622.9,362.5 622.8,365.2 622.8,367.9 C622.7,370.6 622.6,373.2 622.6,375.9 C622.5,378.6 622.5,381.3 622.4,384 C622.4,386.7 622.3,389.4 622.2,392.1 C622.2,394.8 622.1,397.5 622,400.1 C622,402.8 621.9,405.5 621.8,408.2 C621.7,410.9 621.7,413.6 621.6,416.3 C621.5,419 621.4,421.6 621.3,424.3 C621.2,427 621.1,429.7 621,432.4 C620.9,435.1 620.8,437.8 620.7,440.5 C620.6,443.2 620.5,445.8 620.4,448.5 C620.3,451.2 620.2,453.9 620,456.6 C619.9,459.3 619.8,462 619.6,464.6 C619.5,467.3 619.4,470 619.2,472.7 C619.1,475.4 618.9,478.1 618.8,480.8 C618.6,483.5 618.4,486.1 618.3,488.8 C618.1,491.5 617.9,494.2 617.7,496.9 C617.6,499.6 617.4,502.3 617.2,504.9 C617,507.6 616.8,510.3 616.6,513 C616.3,515.7 616.1,518.4 615.9,521 C615.7,523.7 615.4,526.4 615.2,529.1 C615,531.8 614.7,534.5 614.5,537.1 C614.2,539.8 613.9,542.5 613.7,545.2 C613.4,547.9 613.1,550.6 612.8,553.2 C612.5,555.9 612.2,558.6 611.9,561.3 C611.6,564 611.3,566.6 611,569.3 C610.6,572 610.3,574.7 609.9,577.4 C609.6,580 609.2,582.7 608.8,585.4 C608.4,588 608,590.7 607.6,593.4 C607.2,596 606.8,598.7 606.3,601.4 C605.9,604 605.4,606.7 605,609.3 C604.5,612 604,614.6 603.5,617.2 C602.9,619.9 602.4,622.5 601.8,625.2 C601.3,627.8 600.7,630.4 600.1,633 C599.5,635.6 598.9,638.2 598.2,640.9 C597.6,643.5 596.9,646.1 596.2,648.6 C595.5,651.2 594.8,653.8 594.1,656.4 C593.3,659 592.5,661.5 591.7,664.1 C591,666.7 590.1,669.2 589.3,671.8 C588.5,674.3 587.6,676.8 586.7,679.4 C585.8,681.9 584.9,684.4 584,687 C583.1,689.5 582.1,692 581.2,694.5 C580.2,697 579.2,699.5 578.2,702 C577.2,704.5 576.2,707 575.2,709.5 C574.2,712 573.1,714.5 572.1,716.9 C571,719.4 569.9,721.9 568.8,724.3 C567.8,726.8 566.7,729.3 565.6,731.7 C564.4,734.2 563.3,736.6 562.2,739.1 C561.1,741.6 559.9,744 558.8,746.4 C557.6,748.9 556.5,751.3 555.3,753.8 C554.2,756.2 553,758.6 551.9,761.1 C550.7,763.5 549.6,766 548.4,768.4 C547.3,770.8 546.1,773.3 545,775.7 C543.9,778.2 542.8,780.6 541.7,783.1 C540.6,785.5 539.5,788 538.4,790.5 C537.4,792.9 536.3,795.4 535.3,797.9 C534.3,800.4 533.3,802.9 532.4,805.4 C531.4,807.9 530.5,810.4 529.6,812.9 C528.7,815.4 527.9,818 527,820.5 C526.2,823.1 525.5,825.6 524.7,828.2 C524,830.8 523.3,833.4 522.7,836 C522.1,838.6 521.5,841.2 521,843.9 C520.5,846.5 519.8,850.6 519.6,851.9 L920,852 L920,53 Z" fill="#fff" stroke="none"/>
</g>
<path d="M134,62.6 v8.8 M134,843.3 v-8.8 M179.1,62.6 v17.2 M179.1,843.3 v-17.2 M224.3,62.6 v8.8 M224.3,843.3 v-8.8 M269.5,62.6 v8.8 M269.5,843.3 v-8.8 M314.7,62.6 v8.8 M314.7,843.3 v-8.8 M359.9,62.6 v17.2 M359.9,843.3 v-17.2 M405,62.6 v8.8 M405,843.3 v-8.8 M450.2,62.6 v8.8 M450.2,843.3 v-8.8 M495.4,62.6 v8.8 M495.4,843.3 v-8.8 M540.6,62.6 v17.2 M540.6,843.3 v-17.2 M585.8,62.6 v8.8 M585.8,843.3 v-8.8 M630.9,62.6 v8.8 M630.9,843.3 v-8.8 M676.1,62.6 v8.8 M676.1,843.3 v-8.8 M721.3,62.6 v17.2 M721.3,843.3 v-17.2 M766.5,62.6 v8.8 M766.5,843.3 v-8.8 M811.6,62.6 v8.8 M811.6,843.3 v-8.8 M856.8,62.6 v8.8 M856.8,843.3 v-8.8 M902,62.6 v17.2 M902,843.3 v-17.2 M115.9,843.3 h17.2 M902,843.3 h-17.2 M115.9,711.1 h8.8 M902,711.1 h-8.8 M115.9,633.8 h8.8 M902,633.8 h-8.8 M115.9,579 h8.8 M902,579 h-8.8 M115.9,536.4 h8.8 M902,536.4 h-8.8 M115.9,501.7 h8.8 M902,501.7 h-8.8 M115.9,472.3 h8.8 M902,472.3 h-8.8 M115.9,446.8 h8.8 M902,446.8 h-8.8 M115.9,424.3 h8.8 M902,424.3 h-8.8 M115.9,404.2 h17.2 M902,404.2 h-17.2 M115.9,272.1 h8.8 M902,272.1 h-8.8 M115.9,194.8 h8.8 M902,194.8 h-8.8 M115.9,139.9 h8.8 M902,139.9 h-8.8 M115.9,97.4 h8.8 M902,97.4 h-8.8 M115.9,62.6 h8.8 M902,62.6 h-8.8" fill="none" stroke="#000" stroke-width="1.4"/>
<g clip-path="url(#clip4)">
<path d="M445.7,53 C445.7,54.3 445.6,58.3 445.6,61 C445.6,63.7 445.6,66.4 445.6,69 C445.5,71.7 445.5,74.4 445.5,77 C445.5,79.7 445.5,82.4 445.5,85.1 C445.4,87.7 445.4,90.4 445.4,93.1 C445.4,95.8 445.4,98.4 445.4,101.1 C445.4,103.8 445.3,106.4 445.3,109.1 C445.3,111.8 445.3,114.5 445.3,117.1 C445.3,119.8 445.3,122.5 445.3,125.1 C445.3,127.8 445.3,130.5 445.3,133.2 C445.3,135.8 445.3,138.5 445.3,141.2 C445.3,143.8 445.2,146.5 445.2,149.2 C445.2,151.9 445.2,154.5 445.2,157.2 C445.2,159.9 445.2,162.5 445.2,165.2 C445.2,167.9 445.2,170.5 445.2,173.2 C445.3,175.9 445.3,178.6 445.3,181.2 C445.3,183.9 445.3,186.6 445.3,189.2 C445.3,191.9 445.3,194.6 445.3,197.2 C445.3,199.9 445.3,202.6 445.3,205.3 C445.3,207.9 445.3,210.6 445.3,213.3 C445.3,215.9 445.3,218.6 445.3,221.3 C445.3,223.9 445.4,226.6 445.4,229.3 C445.4,232 445.4,234.6 445.4,237.3 C445.4,240 445.4,242.6 445.4,245.3 C445.4,248 445.4,250.6 445.5,253.3 C445.5,256 445.5,258.6 445.5,261.3 C445.5,264 445.5,266.6 445.5,269.3 C445.5,272 445.5,274.7 445.6,277.3 C445.6,280 445.6,282.7 445.6,285.3 C445.6,288 445.6,290.7 445.6,293.3 C445.6,296 445.6,298.7 445.7,301.3 C445.7,304 445.7,306.7 445.7,309.3 C445.7,312 445.7,314.7 445.7,317.4 C445.7,320 445.8,322.7 445.8,325.4 C445.8,328 445.8,330.7 445.8,333.4 C445.8,336 445.8,338.7 445.8,341.4 C445.9,344 445.9,346.7 445.9,349.4 C445.9,352 445.9,354.7 445.9,357.4 C445.9,360 445.9,362.7 445.9,365.4 C445.9,368.1 446,370.7 446,373.4 C446,376.1 446,378.7 446,381.4 C446,384.1 446,386.7 446,389.4 C446,392.1 446,394.7 446,397.4 C446.1,400.1 446.1,402.7 446.1,405.4 C446.1,408.1 446.1,410.8 446.1,413.4 C446.1,416.1 446.1,418.8 446.1,421.4 C446.1,424.1 446.1,426.8 446.1,429.4 C446.1,432.1 446.1,434.8 446.1,437.4 C446.1,440.1 446.1,442.8 446.1,445.5 C446.1,448.1 446.1,450.8 446.1,453.5 C446.1,456.1 446.1,458.8 446.1,461.5 C446.1,464.1 446.1,466.8 446.1,469.5 C446.1,472.1 446.1,474.8 446.1,477.5 C446.1,480.2 446.1,482.8 446.1,485.5 C446.1,488.2 446.1,490.8 446.1,493.5 C446.1,496.2 446.1,498.8 446.1,501.5 C446.1,504.2 446,506.9 446,509.5 C446,512.2 446,514.9 446,517.5 C446,520.2 446,522.9 446,525.6 C445.9,528.2 445.9,530.9 445.9,533.6 C445.9,536.2 445.9,538.9 445.9,541.6 C445.8,544.3 445.8,546.9 445.8,549.6 C445.8,552.3 445.8,554.9 445.7,557.6 C445.7,560.3 445.7,563 445.7,565.6 C445.6,568.3 445.6,571 445.6,573.6 C445.6,576.3 445.5,579 445.5,581.7 C445.5,584.3 445.5,587 445.4,589.7 C445.4,592.4 445.4,595 445.4,597.7 C445.4,600.4 445.4,603 445.3,605.7 C445.3,608.4 445.3,611.1 445.3,613.7 C445.3,616.4 445.3,619.1 445.3,621.8 C445.3,624.4 445.3,627.1 445.3,629.8 C445.4,632.4 445.4,635.1 445.4,637.8 C445.4,640.5 445.5,643.1 445.5,645.8 C445.5,648.5 445.6,651.2 445.6,653.8 C445.7,656.5 445.7,659.2 445.8,661.9 C445.9,664.5 446,667.2 446,669.9 C446.1,672.5 446.2,675.2 446.3,677.9 C446.4,680.6 446.5,683.2 446.7,685.9 C446.8,688.6 446.9,691.3 447.1,693.9 C447.2,696.6 447.4,699.3 447.6,701.9 C447.7,704.6 447.9,707.3 448.1,710 C448.3,712.6 448.5,715.3 448.7,718 C449,720.6 449.2,723.3 449.5,726 C449.7,728.6 450,731.3 450.3,734 C450.6,736.6 450.9,739.3 451.2,741.9 C451.6,744.6 452,747.2 452.4,749.9 C452.8,752.5 453.2,755.1 453.6,757.8 C454.1,760.4 454.6,763 455.1,765.6 C455.6,768.2 456.2,770.8 456.8,773.4 C457.4,776 458,778.5 458.7,781.1 C459.4,783.6 460.1,786.2 460.9,788.7 C461.6,791.2 462.4,793.7 463.3,796.2 C464.2,798.7 465.1,801.2 466,803.6 C467,806.1 468,808.5 469.1,811 C470.1,813.4 471.3,815.8 472.4,818.2 C473.6,820.5 474.9,822.9 476.2,825.2 C477.5,827.6 478.8,829.9 480.3,832.2 C481.7,834.4 483.2,836.7 484.8,838.9 C486.3,841.2 487.9,843.4 489.6,845.6 C491.4,847.7 494.1,850.9 495,852" fill="none" stroke="#000" stroke-width="3.75" stroke-dasharray="13.05 5.6" stroke-dashoffset="15.18"/>
<path d="M624.3,53 C624.3,54.4 624.3,58.4 624.3,61.1 C624.4,63.8 624.4,66.5 624.4,69.1 C624.4,71.8 624.4,74.5 624.5,77.2 C624.5,79.9 624.5,82.6 624.5,85.3 C624.5,88 624.5,90.7 624.6,93.4 C624.6,96 624.6,98.7 624.6,101.4 C624.6,104.1 624.6,106.8 624.6,109.5 C624.6,112.2 624.6,114.9 624.7,117.6 C624.7,120.3 624.7,123 624.7,125.6 C624.7,128.3 624.7,131 624.7,133.7 C624.7,136.4 624.7,139.1 624.7,141.8 C624.7,144.5 624.7,147.2 624.7,149.9 C624.7,152.6 624.7,155.3 624.7,157.9 C624.7,160.6 624.7,163.3 624.7,166 C624.7,168.7 624.7,171.4 624.7,174.1 C624.7,176.8 624.7,179.5 624.7,182.2 C624.7,184.9 624.7,187.6 624.7,190.2 C624.7,192.9 624.7,195.6 624.6,198.3 C624.6,201 624.6,203.7 624.6,206.4 C624.6,209.1 624.6,211.8 624.6,214.5 C624.6,217.2 624.5,219.9 624.5,222.5 C624.5,225.2 624.5,227.9 624.5,230.6 C624.5,233.3 624.4,236 624.4,238.7 C624.4,241.4 624.4,244.1 624.4,246.8 C624.3,249.5 624.3,252.2 624.3,254.8 C624.3,257.5 624.3,260.2 624.2,262.9 C624.2,265.6 624.2,268.3 624.1,271 C624.1,273.7 624.1,276.4 624.1,279.1 C624,281.8 624,284.5 624,287.1 C623.9,289.8 623.9,292.5 623.9,295.2 C623.8,297.9 623.8,300.6 623.8,303.3 C623.7,306 623.7,308.7 623.7,311.4 C623.6,314.1 623.6,316.8 623.6,319.4 C623.5,322.1 623.5,324.8 623.4,327.5 C623.4,330.2 623.4,332.9 623.3,335.6 C623.3,338.3 623.2,341 623.2,343.7 C623.1,346.3 623.1,349 623,351.7 C623,354.4 623,357.1 622.9,359.8 C622.9,362.5 622.8,365.2 622.8,367.9 C622.7,370.6 622.6,373.2 622.6,375.9 C622.5,378.6 622.5,381.3 622.4,384 C622.4,386.7 622.3,389.4 622.2,392.1 C622.2,394.8 622.1,397.5 622,400.1 C622,402.8 621.9,405.5 621.8,408.2 C621.7,410.9 621.7,413.6 621.6,416.3 C621.5,419 621.4,421.6 621.3,424.3 C621.2,427 621.1,429.7 621,432.4 C620.9,435.1 620.8,437.8 620.7,440.5 C620.6,443.2 620.5,445.8 620.4,448.5 C620.3,451.2 620.2,453.9 620,456.6 C619.9,459.3 619.8,462 619.6,464.6 C619.5,467.3 619.4,470 619.2,472.7 C619.1,475.4 618.9,478.1 618.8,480.8 C618.6,483.5 618.4,486.1 618.3,488.8 C618.1,491.5 617.9,494.2 617.7,496.9 C617.6,499.6 617.4,502.3 617.2,504.9 C617,507.6 616.8,510.3 616.6,513 C616.3,515.7 616.1,518.4 615.9,521 C615.7,523.7 615.4,526.4 615.2,529.1 C615,531.8 614.7,534.5 614.5,537.1 C614.2,539.8 613.9,542.5 613.7,545.2 C613.4,547.9 613.1,550.6 612.8,553.2 C612.5,555.9 612.2,558.6 611.9,561.3 C611.6,564 611.3,566.6 611,569.3 C610.6,572 610.3,574.7 609.9,577.4 C609.6,580 609.2,582.7 608.8,585.4 C608.4,588 608,590.7 607.6,593.4 C607.2,596 606.8,598.7 606.3,601.4 C605.9,604 605.4,606.7 605,609.3 C604.5,612 604,614.6 603.5,617.2 C602.9,619.9 602.4,622.5 601.8,625.2 C601.3,627.8 600.7,630.4 600.1,633 C599.5,635.6 598.9,638.2 598.2,640.9 C597.6,643.5 596.9,646.1 596.2,648.6 C595.5,651.2 594.8,653.8 594.1,656.4 C593.3,659 592.5,661.5 591.7,664.1 C591,666.7 590.1,669.2 589.3,671.8 C588.5,674.3 587.6,676.8 586.7,679.4 C585.8,681.9 584.9,684.4 584,687 C583.1,689.5 582.1,692 581.2,694.5 C580.2,697 579.2,699.5 578.2,702 C577.2,704.5 576.2,707 575.2,709.5 C574.2,712 573.1,714.5 572.1,716.9 C571,719.4 569.9,721.9 568.8,724.3 C567.8,726.8 566.7,729.3 565.6,731.7 C564.4,734.2 563.3,736.6 562.2,739.1 C561.1,741.6 559.9,744 558.8,746.4 C557.6,748.9 556.5,751.3 555.3,753.8 C554.2,756.2 553,758.6 551.9,761.1 C550.7,763.5 549.6,766 548.4,768.4 C547.3,770.8 546.1,773.3 545,775.7 C543.9,778.2 542.8,780.6 541.7,783.1 C540.6,785.5 539.5,788 538.4,790.5 C537.4,792.9 536.3,795.4 535.3,797.9 C534.3,800.4 533.3,802.9 532.4,805.4 C531.4,807.9 530.5,810.4 529.6,812.9 C528.7,815.4 527.9,818 527,820.5 C526.2,823.1 525.5,825.6 524.7,828.2 C524,830.8 523.3,833.4 522.7,836 C522.1,838.6 521.5,841.2 521,843.9 C520.5,846.5 519.8,850.6 519.6,851.9" fill="none" stroke="#000" stroke-width="3.75" stroke-linejoin="round"/>
</g>
<rect x="592.7" y="692.2" width="295.4" height="137.1" fill="#fff" stroke="#000" stroke-width="1.4"/>
<path d="M605,717.2 H651" stroke="#000" stroke-width="3.75"/>
<text x="671.6" y="727.2" font-size="28.3" text-anchor="start">Obs. 95% CL</text>
<rect x="606.3" y="747.9" width="43" height="20.2" fill="#d3d3d3"/>
<text x="671.6" y="768.1" font-size="28.3" text-anchor="start">Excluded region</text>
<path d="M606.3,799 H649.7" stroke="#000" stroke-width="3.75" stroke-dasharray="13.05 5.6"/>
<text x="671.6" y="809" font-size="28.3" text-anchor="start">Exp. 95% CL</text>
<rect x="115.9" y="62.6" width="786.1" height="780.7" fill="none" stroke="#000" stroke-width="3.3"/>
<text x="179.1" y="874.6" font-size="30.9" text-anchor="middle">200</text>
<text x="359.9" y="874.6" font-size="30.9" text-anchor="middle">400</text>
<text x="540.6" y="874.6" font-size="30.9" text-anchor="middle">600</text>
<text x="721.3" y="874.6" font-size="30.9" text-anchor="middle">800</text>
<text x="902" y="874.6" font-size="30.9" text-anchor="middle">1000</text>
<text x="62.9" y="853.8" font-size="30.9" text-anchor="start">10</text>
<text x="97" y="842.8" font-size="21.6" text-anchor="start">0</text>
<text x="62.9" y="414.7" font-size="30.9" text-anchor="start">10</text>
<text x="97" y="403.7" font-size="21.6" text-anchor="start">1</text>
<text x="756.2" y="911.3" font-size="34.3">m</text><text x="785.6" y="917.3" font-size="24.6">A</text><text x="901.4" y="911.3" font-size="34.3" text-anchor="end">(GeV)</text>
<text transform="translate(48.8,133.2) rotate(-90)" font-size="34.3">tan<tspan dx="4.2">β</tspan></text>
<text transform="translate(116.9,51) scale(0.936,1)" font-size="59.3" font-weight="bold" style="stroke-width:0.7px">CMS</text>
<text x="590" y="48" font-size="40" text-anchor="start">138 fb</text>
<text x="701.2" y="33.7" font-size="28" text-anchor="start">−1</text>
<text x="901.6" y="48" font-size="40" text-anchor="end">(13 TeV)</text>
<text x="139" y="764.6" font-size="31.1" text-anchor="start">hMSSM</text>
<text x="138.6" y="804.4" font-size="31.4" text-anchor="start">m</text>
<text x="165.6" y="808.3" font-size="22.8" text-anchor="start">H</text>
<text x="382.4" y="804.4" font-size="30.9" text-anchor="end">= 125.38 GeV</text>
</g>
</svg>
</body></html>
